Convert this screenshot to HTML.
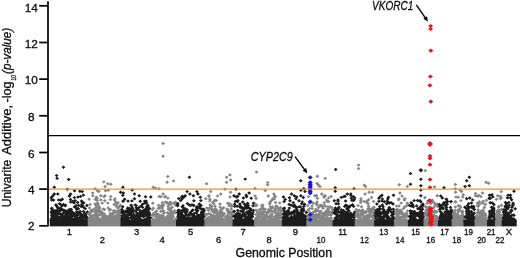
<!DOCTYPE html>
<html><head><meta charset="utf-8"><title>Manhattan plot</title>
<style>html,body{margin:0;padding:0;background:#fff}svg text{font-family:"Liberation Sans",sans-serif;stroke:#0d0d0d;stroke-width:.3px}</style></head>
<body>
<svg width="520" height="258" viewBox="0 0 520 258" style="display:block">
<rect width="520" height="258" fill="#fff"/>
<g shape-rendering="geometricPrecision">
<rect x="49.8" y="219.8" width="39.3" height="6.8" fill="#1c1c1c"/>
<path fill="#1c1c1c" d="M63.0 218.7l1.9 1.7l-1.9 1.7l-1.9 -1.7zM75.0 219.2l1.9 1.7l-1.9 1.7l-1.9 -1.7zM70.8 217.4l1.9 1.7l-1.9 1.7l-1.9 -1.7zM53.2 216.6l1.9 1.7l-1.9 1.7l-1.9 -1.7zM52.5 217.0l1.9 1.7l-1.9 1.7l-1.9 -1.7zM53.7 219.1l1.9 1.7l-1.9 1.7l-1.9 -1.7zM66.7 214.6l1.9 1.7l-1.9 1.7l-1.9 -1.7zM55.6 218.3l1.9 1.7l-1.9 1.7l-1.9 -1.7zM74.1 213.9l1.9 1.7l-1.9 1.7l-1.9 -1.7zM72.3 217.2l1.9 1.7l-1.9 1.7l-1.9 -1.7zM86.9 219.3l1.9 1.7l-1.9 1.7l-1.9 -1.7zM82.6 217.9l1.9 1.7l-1.9 1.7l-1.9 -1.7zM56.4 218.9l1.9 1.7l-1.9 1.7l-1.9 -1.7zM62.4 214.7l1.9 1.7l-1.9 1.7l-1.9 -1.7zM57.7 216.1l1.9 1.7l-1.9 1.7l-1.9 -1.7zM74.5 217.4l1.9 1.7l-1.9 1.7l-1.9 -1.7zM71.2 219.2l1.9 1.7l-1.9 1.7l-1.9 -1.7zM53.3 218.4l1.9 1.7l-1.9 1.7l-1.9 -1.7zM76.1 217.0l1.9 1.7l-1.9 1.7l-1.9 -1.7zM62.6 216.1l1.9 1.7l-1.9 1.7l-1.9 -1.7zM67.7 217.8l1.9 1.7l-1.9 1.7l-1.9 -1.7zM80.3 215.4l1.9 1.7l-1.9 1.7l-1.9 -1.7zM60.1 216.2l1.9 1.7l-1.9 1.7l-1.9 -1.7zM70.4 214.3l1.9 1.7l-1.9 1.7l-1.9 -1.7zM77.9 217.9l1.9 1.7l-1.9 1.7l-1.9 -1.7zM87.1 218.9l1.9 1.7l-1.9 1.7l-1.9 -1.7zM66.4 215.1l1.9 1.7l-1.9 1.7l-1.9 -1.7zM56.7 216.7l1.9 1.7l-1.9 1.7l-1.9 -1.7zM52.5 215.6l1.9 1.7l-1.9 1.7l-1.9 -1.7zM79.2 216.2l1.9 1.7l-1.9 1.7l-1.9 -1.7zM83.2 217.7l1.9 1.7l-1.9 1.7l-1.9 -1.7zM76.6 216.0l1.9 1.7l-1.9 1.7l-1.9 -1.7zM72.4 216.9l1.9 1.7l-1.9 1.7l-1.9 -1.7zM81.9 213.9l1.9 1.7l-1.9 1.7l-1.9 -1.7zM68.5 215.6l1.9 1.7l-1.9 1.7l-1.9 -1.7zM53.3 215.4l1.9 1.7l-1.9 1.7l-1.9 -1.7zM74.8 213.6l1.9 1.7l-1.9 1.7l-1.9 -1.7zM81.3 217.9l1.9 1.7l-1.9 1.7l-1.9 -1.7zM65.3 215.6l1.9 1.7l-1.9 1.7l-1.9 -1.7zM51.9 216.8l1.9 1.7l-1.9 1.7l-1.9 -1.7zM57.3 218.9l1.9 1.7l-1.9 1.7l-1.9 -1.7zM53.3 215.0l1.9 1.7l-1.9 1.7l-1.9 -1.7zM55.8 218.1l1.9 1.7l-1.9 1.7l-1.9 -1.7zM65.4 214.4l1.9 1.7l-1.9 1.7l-1.9 -1.7zM54.1 216.9l1.9 1.7l-1.9 1.7l-1.9 -1.7zM71.3 214.3l1.9 1.7l-1.9 1.7l-1.9 -1.7zM81.2 214.4l1.9 1.7l-1.9 1.7l-1.9 -1.7zM61.3 217.1l1.9 1.7l-1.9 1.7l-1.9 -1.7zM64.3 214.3l1.9 1.7l-1.9 1.7l-1.9 -1.7zM86.2 218.7l1.9 1.7l-1.9 1.7l-1.9 -1.7zM57.6 218.2l1.9 1.7l-1.9 1.7l-1.9 -1.7zM59.7 216.7l1.9 1.7l-1.9 1.7l-1.9 -1.7zM72.7 218.0l1.9 1.7l-1.9 1.7l-1.9 -1.7zM51.3 217.1l1.9 1.7l-1.9 1.7l-1.9 -1.7zM64.7 216.2l1.9 1.7l-1.9 1.7l-1.9 -1.7zM86.1 215.5l1.9 1.7l-1.9 1.7l-1.9 -1.7zM70.0 215.9l1.9 1.7l-1.9 1.7l-1.9 -1.7zM75.9 219.3l1.9 1.7l-1.9 1.7l-1.9 -1.7zM84.1 214.9l1.9 1.7l-1.9 1.7l-1.9 -1.7zM83.2 214.8l1.9 1.7l-1.9 1.7l-1.9 -1.7zM65.5 217.2l1.9 1.7l-1.9 1.7l-1.9 -1.7zM54.9 215.8l1.9 1.7l-1.9 1.7l-1.9 -1.7zM53.4 219.2l1.9 1.7l-1.9 1.7l-1.9 -1.7zM58.8 218.6l1.9 1.7l-1.9 1.7l-1.9 -1.7zM63.6 219.3l1.9 1.7l-1.9 1.7l-1.9 -1.7zM51.1 218.7l1.9 1.7l-1.9 1.7l-1.9 -1.7zM54.8 217.4l1.9 1.7l-1.9 1.7l-1.9 -1.7zM52.0 214.4l1.9 1.7l-1.9 1.7l-1.9 -1.7zM73.6 218.7l1.9 1.7l-1.9 1.7l-1.9 -1.7zM60.4 217.5l1.9 1.7l-1.9 1.7l-1.9 -1.7zM64.5 218.9l1.9 1.7l-1.9 1.7l-1.9 -1.7zM82.3 213.6l1.9 1.7l-1.9 1.7l-1.9 -1.7zM68.2 216.7l1.9 1.7l-1.9 1.7l-1.9 -1.7zM54.3 219.0l1.9 1.7l-1.9 1.7l-1.9 -1.7zM63.7 218.0l1.9 1.7l-1.9 1.7l-1.9 -1.7zM81.5 218.6l1.9 1.7l-1.9 1.7l-1.9 -1.7zM51.9 213.9l1.9 1.7l-1.9 1.7l-1.9 -1.7zM70.5 218.7l1.9 1.7l-1.9 1.7l-1.9 -1.7zM71.0 219.4l1.9 1.7l-1.9 1.7l-1.9 -1.7zM70.5 213.7l1.9 1.7l-1.9 1.7l-1.9 -1.7zM82.8 215.4l1.9 1.7l-1.9 1.7l-1.9 -1.7zM60.7 217.4l1.9 1.7l-1.9 1.7l-1.9 -1.7zM57.2 215.0l1.9 1.7l-1.9 1.7l-1.9 -1.7zM70.6 214.9l1.9 1.7l-1.9 1.7l-1.9 -1.7zM63.2 218.3l1.9 1.7l-1.9 1.7l-1.9 -1.7zM80.9 213.7l1.9 1.7l-1.9 1.7l-1.9 -1.7zM82.4 214.8l1.9 1.7l-1.9 1.7l-1.9 -1.7zM81.1 215.2l1.9 1.7l-1.9 1.7l-1.9 -1.7zM59.4 216.5l1.9 1.7l-1.9 1.7l-1.9 -1.7zM64.1 219.4l1.9 1.7l-1.9 1.7l-1.9 -1.7zM52.1 217.9l1.9 1.7l-1.9 1.7l-1.9 -1.7zM60.6 215.4l1.9 1.7l-1.9 1.7l-1.9 -1.7zM86.2 216.9l1.9 1.7l-1.9 1.7l-1.9 -1.7zM85.5 213.7l1.9 1.7l-1.9 1.7l-1.9 -1.7zM86.1 217.4l1.9 1.7l-1.9 1.7l-1.9 -1.7zM59.2 218.2l1.9 1.7l-1.9 1.7l-1.9 -1.7zM58.3 218.4l1.9 1.7l-1.9 1.7l-1.9 -1.7zM74.0 214.2l1.9 1.7l-1.9 1.7l-1.9 -1.7zM81.9 216.7l1.9 1.7l-1.9 1.7l-1.9 -1.7zM75.1 214.8l1.9 1.7l-1.9 1.7l-1.9 -1.7zM54.2 215.6l1.9 1.7l-1.9 1.7l-1.9 -1.7zM84.5 214.9l1.9 1.7l-1.9 1.7l-1.9 -1.7zM78.6 216.7l1.9 1.7l-1.9 1.7l-1.9 -1.7zM57.7 214.9l1.9 1.7l-1.9 1.7l-1.9 -1.7zM63.3 214.8l1.9 1.7l-1.9 1.7l-1.9 -1.7zM86.8 217.2l1.9 1.7l-1.9 1.7l-1.9 -1.7zM65.8 213.9l1.9 1.7l-1.9 1.7l-1.9 -1.7zM77.7 218.6l1.9 1.7l-1.9 1.7l-1.9 -1.7zM55.8 218.7l1.9 1.7l-1.9 1.7l-1.9 -1.7zM84.3 214.8l1.9 1.7l-1.9 1.7l-1.9 -1.7zM56.5 214.6l1.9 1.7l-1.9 1.7l-1.9 -1.7zM87.1 215.7l1.9 1.7l-1.9 1.7l-1.9 -1.7zM64.0 216.3l1.9 1.7l-1.9 1.7l-1.9 -1.7zM55.9 219.5l1.9 1.7l-1.9 1.7l-1.9 -1.7zM86.7 215.7l1.9 1.7l-1.9 1.7l-1.9 -1.7zM70.4 214.0l1.9 1.7l-1.9 1.7l-1.9 -1.7zM67.0 214.4l1.9 1.7l-1.9 1.7l-1.9 -1.7zM81.4 218.3l1.9 1.7l-1.9 1.7l-1.9 -1.7zM60.3 217.8l1.9 1.7l-1.9 1.7l-1.9 -1.7zM59.9 216.1l1.9 1.7l-1.9 1.7l-1.9 -1.7zM60.6 217.1l1.9 1.7l-1.9 1.7l-1.9 -1.7zM55.9 214.1l1.9 1.7l-1.9 1.7l-1.9 -1.7zM64.1 216.9l1.9 1.7l-1.9 1.7l-1.9 -1.7zM72.5 214.2l1.9 1.7l-1.9 1.7l-1.9 -1.7zM66.5 214.1l1.9 1.7l-1.9 1.7l-1.9 -1.7zM69.5 211.5l1.9 1.7l-1.9 1.7l-1.9 -1.7zM70.3 213.5l1.9 1.7l-1.9 1.7l-1.9 -1.7zM67.3 212.9l1.9 1.7l-1.9 1.7l-1.9 -1.7zM51.2 210.4l1.9 1.7l-1.9 1.7l-1.9 -1.7zM57.4 211.7l1.9 1.7l-1.9 1.7l-1.9 -1.7zM77.7 211.4l1.9 1.7l-1.9 1.7l-1.9 -1.7zM63.1 211.5l1.9 1.7l-1.9 1.7l-1.9 -1.7zM71.5 210.5l1.9 1.7l-1.9 1.7l-1.9 -1.7zM55.0 211.4l1.9 1.7l-1.9 1.7l-1.9 -1.7zM60.2 212.5l1.9 1.7l-1.9 1.7l-1.9 -1.7zM79.4 211.6l1.9 1.7l-1.9 1.7l-1.9 -1.7zM71.7 210.6l1.9 1.7l-1.9 1.7l-1.9 -1.7zM84.6 211.8l1.9 1.7l-1.9 1.7l-1.9 -1.7zM73.6 211.6l1.9 1.7l-1.9 1.7l-1.9 -1.7zM69.9 210.8l1.9 1.7l-1.9 1.7l-1.9 -1.7zM67.7 211.5l1.9 1.7l-1.9 1.7l-1.9 -1.7zM68.6 209.8l1.9 1.7l-1.9 1.7l-1.9 -1.7zM76.8 210.1l1.9 1.7l-1.9 1.7l-1.9 -1.7zM85.7 212.6l1.9 1.7l-1.9 1.7l-1.9 -1.7zM71.6 209.8l1.9 1.7l-1.9 1.7l-1.9 -1.7zM81.9 213.1l1.9 1.7l-1.9 1.7l-1.9 -1.7zM55.6 211.8l1.9 1.7l-1.9 1.7l-1.9 -1.7zM53.8 212.6l1.9 1.7l-1.9 1.7l-1.9 -1.7zM53.8 210.9l1.9 1.7l-1.9 1.7l-1.9 -1.7zM79.9 210.0l1.9 1.7l-1.9 1.7l-1.9 -1.7zM56.8 210.7l1.9 1.7l-1.9 1.7l-1.9 -1.7zM75.3 213.0l1.9 1.7l-1.9 1.7l-1.9 -1.7zM83.5 209.7l1.9 1.7l-1.9 1.7l-1.9 -1.7zM59.2 209.8l1.9 1.7l-1.9 1.7l-1.9 -1.7zM65.7 211.7l1.9 1.7l-1.9 1.7l-1.9 -1.7zM87.4 210.3l1.9 1.7l-1.9 1.7l-1.9 -1.7zM57.0 211.9l1.9 1.7l-1.9 1.7l-1.9 -1.7zM70.0 212.2l1.9 1.7l-1.9 1.7l-1.9 -1.7zM58.3 212.3l1.9 1.7l-1.9 1.7l-1.9 -1.7zM77.6 213.5l1.9 1.7l-1.9 1.7l-1.9 -1.7zM71.4 211.8l1.9 1.7l-1.9 1.7l-1.9 -1.7zM51.8 212.3l1.9 1.7l-1.9 1.7l-1.9 -1.7zM74.0 211.6l1.9 1.7l-1.9 1.7l-1.9 -1.7zM53.5 209.7l1.9 1.7l-1.9 1.7l-1.9 -1.7zM80.0 209.7l1.9 1.7l-1.9 1.7l-1.9 -1.7zM54.9 212.5l1.9 1.7l-1.9 1.7l-1.9 -1.7zM52.6 210.5l1.9 1.7l-1.9 1.7l-1.9 -1.7zM61.0 213.1l1.9 1.7l-1.9 1.7l-1.9 -1.7zM66.6 210.0l1.9 1.7l-1.9 1.7l-1.9 -1.7zM81.2 212.6l1.9 1.7l-1.9 1.7l-1.9 -1.7zM56.6 209.9l1.9 1.7l-1.9 1.7l-1.9 -1.7zM72.0 210.8l1.9 1.7l-1.9 1.7l-1.9 -1.7zM54.4 213.4l1.9 1.7l-1.9 1.7l-1.9 -1.7zM76.4 211.9l1.9 1.7l-1.9 1.7l-1.9 -1.7zM53.8 209.8l1.9 1.7l-1.9 1.7l-1.9 -1.7zM74.4 195.9l1.9 1.7l-1.9 1.7l-1.9 -1.7zM54.2 209.0l1.9 1.7l-1.9 1.7l-1.9 -1.7zM82.8 204.5l1.9 1.7l-1.9 1.7l-1.9 -1.7zM63.5 202.8l1.9 1.7l-1.9 1.7l-1.9 -1.7zM85.1 206.9l1.9 1.7l-1.9 1.7l-1.9 -1.7zM55.8 203.2l1.9 1.7l-1.9 1.7l-1.9 -1.7zM59.9 208.6l1.9 1.7l-1.9 1.7l-1.9 -1.7zM57.0 209.2l1.9 1.7l-1.9 1.7l-1.9 -1.7zM58.5 206.4l1.9 1.7l-1.9 1.7l-1.9 -1.7zM62.3 197.5l1.9 1.7l-1.9 1.7l-1.9 -1.7zM61.7 203.7l1.9 1.7l-1.9 1.7l-1.9 -1.7zM57.6 206.0l1.9 1.7l-1.9 1.7l-1.9 -1.7zM51.8 207.1l1.9 1.7l-1.9 1.7l-1.9 -1.7zM51.7 198.4l1.9 1.7l-1.9 1.7l-1.9 -1.7zM71.3 207.8l1.9 1.7l-1.9 1.7l-1.9 -1.7zM68.5 208.6l1.9 1.7l-1.9 1.7l-1.9 -1.7zM81.2 204.8l1.9 1.7l-1.9 1.7l-1.9 -1.7zM69.3 194.3l1.9 1.7l-1.9 1.7l-1.9 -1.7zM65.5 203.6l1.9 1.7l-1.9 1.7l-1.9 -1.7zM76.3 206.0l1.9 1.7l-1.9 1.7l-1.9 -1.7zM81.6 199.2l1.9 1.7l-1.9 1.7l-1.9 -1.7zM74.4 205.2l1.9 1.7l-1.9 1.7l-1.9 -1.7zM63.9 209.1l1.9 1.7l-1.9 1.7l-1.9 -1.7zM55.9 209.0l1.9 1.7l-1.9 1.7l-1.9 -1.7zM78.3 207.1l1.9 1.7l-1.9 1.7l-1.9 -1.7zM57.1 208.8l1.9 1.7l-1.9 1.7l-1.9 -1.7zM82.0 200.2l1.9 1.7l-1.9 1.7l-1.9 -1.7zM61.4 207.2l1.9 1.7l-1.9 1.7l-1.9 -1.7zM61.9 204.4l1.9 1.7l-1.9 1.7l-1.9 -1.7zM56.9 204.6l1.9 1.7l-1.9 1.7l-1.9 -1.7zM60.8 202.9l1.9 1.7l-1.9 1.7l-1.9 -1.7zM60.1 206.5l1.9 1.7l-1.9 1.7l-1.9 -1.7zM64.2 209.6l1.9 1.7l-1.9 1.7l-1.9 -1.7zM65.1 204.1l1.9 1.7l-1.9 1.7l-1.9 -1.7zM69.6 207.7l1.9 1.7l-1.9 1.7l-1.9 -1.7zM69.6 209.6l1.9 1.7l-1.9 1.7l-1.9 -1.7zM60.8 208.8l1.9 1.7l-1.9 1.7l-1.9 -1.7zM65.8 209.2l1.9 1.7l-1.9 1.7l-1.9 -1.7zM51.9 206.5l1.9 1.7l-1.9 1.7l-1.9 -1.7zM59.6 202.1l1.9 1.7l-1.9 1.7l-1.9 -1.7zM70.5 197.8l1.9 1.7l-1.9 1.7l-1.9 -1.7zM75.2 198.9l1.9 1.7l-1.9 1.7l-1.9 -1.7zM83.4 205.4l1.9 1.7l-1.9 1.7l-1.9 -1.7zM63.1 208.2l1.9 1.7l-1.9 1.7l-1.9 -1.7zM77.7 200.8l1.9 1.7l-1.9 1.7l-1.9 -1.7zM52.7 194.3l1.9 1.7l-1.9 1.7l-1.9 -1.7zM83.8 201.2l1.9 1.7l-1.9 1.7l-1.9 -1.7zM78.0 195.4l1.9 1.7l-1.9 1.7l-1.9 -1.7zM56.2 203.3l1.9 1.7l-1.9 1.7l-1.9 -1.7zM69.6 194.3l1.9 1.7l-1.9 1.7l-1.9 -1.7zM80.6 194.7l1.9 1.7l-1.9 1.7l-1.9 -1.7zM72.5 199.8l1.9 1.7l-1.9 1.7l-1.9 -1.7zM76.5 207.4l1.9 1.7l-1.9 1.7l-1.9 -1.7zM52.2 208.4l1.9 1.7l-1.9 1.7l-1.9 -1.7zM64.3 208.7l1.9 1.7l-1.9 1.7l-1.9 -1.7zM81.8 202.7l1.9 1.7l-1.9 1.7l-1.9 -1.7zM74.1 201.2l1.9 1.7l-1.9 1.7l-1.9 -1.7zM76.1 203.9l1.9 1.7l-1.9 1.7l-1.9 -1.7zM51.2 196.0l1.9 1.7l-1.9 1.7l-1.9 -1.7zM78.6 203.7l1.9 1.7l-1.9 1.7l-1.9 -1.7zM70.7 200.4l1.9 1.7l-1.9 1.7l-1.9 -1.7zM53.5 198.3l1.9 1.7l-1.9 1.7l-1.9 -1.7zM60.4 208.9l1.9 1.7l-1.9 1.7l-1.9 -1.7zM60.8 198.5l1.9 1.7l-1.9 1.7l-1.9 -1.7zM58.6 198.2l1.9 1.7l-1.9 1.7l-1.9 -1.7zM86.9 203.8l1.9 1.7l-1.9 1.7l-1.9 -1.7zM65.1 204.1l1.9 1.7l-1.9 1.7l-1.9 -1.7zM63.4 165.5l1.9 1.7l-1.9 1.7l-1.9 -1.7zM56.6 173.9l1.9 1.7l-1.9 1.7l-1.9 -1.7zM57.1 176.7l1.9 1.7l-1.9 1.7l-1.9 -1.7zM68.7 177.8l1.9 1.7l-1.9 1.7l-1.9 -1.7zM54.3 185.5l1.9 1.7l-1.9 1.7l-1.9 -1.7zM67.3 187.6l1.9 1.7l-1.9 1.7l-1.9 -1.7zM74.5 189.0l1.9 1.7l-1.9 1.7l-1.9 -1.7zM79.9 189.5l1.9 1.7l-1.9 1.7l-1.9 -1.7zM82.2 189.9l1.9 1.7l-1.9 1.7l-1.9 -1.7zM54.3 192.3l1.9 1.7l-1.9 1.7l-1.9 -1.7zM57.8 192.3l1.9 1.7l-1.9 1.7l-1.9 -1.7zM70.6 192.3l1.9 1.7l-1.9 1.7l-1.9 -1.7zM83.4 193.4l1.9 1.7l-1.9 1.7l-1.9 -1.7z"/>
<rect x="87.7" y="219.8" width="34.2" height="6.8" fill="#858585"/>
<path fill="#858585" d="M110.6 215.0l1.9 1.7l-1.9 1.7l-1.9 -1.7zM108.5 215.7l1.9 1.7l-1.9 1.7l-1.9 -1.7zM91.4 218.7l1.9 1.7l-1.9 1.7l-1.9 -1.7zM97.0 215.1l1.9 1.7l-1.9 1.7l-1.9 -1.7zM98.6 216.2l1.9 1.7l-1.9 1.7l-1.9 -1.7zM89.4 219.2l1.9 1.7l-1.9 1.7l-1.9 -1.7zM97.5 215.6l1.9 1.7l-1.9 1.7l-1.9 -1.7zM110.9 215.5l1.9 1.7l-1.9 1.7l-1.9 -1.7zM98.2 216.5l1.9 1.7l-1.9 1.7l-1.9 -1.7zM103.7 216.8l1.9 1.7l-1.9 1.7l-1.9 -1.7zM92.7 214.2l1.9 1.7l-1.9 1.7l-1.9 -1.7zM95.3 213.7l1.9 1.7l-1.9 1.7l-1.9 -1.7zM118.6 219.5l1.9 1.7l-1.9 1.7l-1.9 -1.7zM103.5 214.7l1.9 1.7l-1.9 1.7l-1.9 -1.7zM119.6 216.9l1.9 1.7l-1.9 1.7l-1.9 -1.7zM97.5 218.3l1.9 1.7l-1.9 1.7l-1.9 -1.7zM118.9 218.3l1.9 1.7l-1.9 1.7l-1.9 -1.7zM107.4 218.7l1.9 1.7l-1.9 1.7l-1.9 -1.7zM105.6 213.9l1.9 1.7l-1.9 1.7l-1.9 -1.7zM93.2 214.7l1.9 1.7l-1.9 1.7l-1.9 -1.7zM105.1 214.3l1.9 1.7l-1.9 1.7l-1.9 -1.7zM111.2 218.2l1.9 1.7l-1.9 1.7l-1.9 -1.7zM117.4 216.7l1.9 1.7l-1.9 1.7l-1.9 -1.7zM89.8 219.6l1.9 1.7l-1.9 1.7l-1.9 -1.7zM104.5 216.9l1.9 1.7l-1.9 1.7l-1.9 -1.7zM98.5 218.8l1.9 1.7l-1.9 1.7l-1.9 -1.7zM99.9 217.7l1.9 1.7l-1.9 1.7l-1.9 -1.7zM115.6 219.6l1.9 1.7l-1.9 1.7l-1.9 -1.7zM112.7 214.6l1.9 1.7l-1.9 1.7l-1.9 -1.7zM92.8 214.0l1.9 1.7l-1.9 1.7l-1.9 -1.7zM111.5 214.2l1.9 1.7l-1.9 1.7l-1.9 -1.7zM98.2 217.4l1.9 1.7l-1.9 1.7l-1.9 -1.7zM101.4 213.6l1.9 1.7l-1.9 1.7l-1.9 -1.7zM107.6 217.4l1.9 1.7l-1.9 1.7l-1.9 -1.7zM102.5 217.9l1.9 1.7l-1.9 1.7l-1.9 -1.7zM90.5 219.0l1.9 1.7l-1.9 1.7l-1.9 -1.7zM115.4 217.9l1.9 1.7l-1.9 1.7l-1.9 -1.7zM118.6 218.1l1.9 1.7l-1.9 1.7l-1.9 -1.7zM97.4 216.5l1.9 1.7l-1.9 1.7l-1.9 -1.7zM95.0 217.4l1.9 1.7l-1.9 1.7l-1.9 -1.7zM119.2 214.3l1.9 1.7l-1.9 1.7l-1.9 -1.7zM114.7 215.8l1.9 1.7l-1.9 1.7l-1.9 -1.7zM117.9 214.0l1.9 1.7l-1.9 1.7l-1.9 -1.7zM106.4 215.3l1.9 1.7l-1.9 1.7l-1.9 -1.7zM90.6 215.2l1.9 1.7l-1.9 1.7l-1.9 -1.7zM103.2 215.1l1.9 1.7l-1.9 1.7l-1.9 -1.7zM109.4 217.9l1.9 1.7l-1.9 1.7l-1.9 -1.7zM90.5 214.0l1.9 1.7l-1.9 1.7l-1.9 -1.7zM93.0 216.8l1.9 1.7l-1.9 1.7l-1.9 -1.7zM99.9 217.8l1.9 1.7l-1.9 1.7l-1.9 -1.7zM112.4 213.7l1.9 1.7l-1.9 1.7l-1.9 -1.7zM97.2 215.7l1.9 1.7l-1.9 1.7l-1.9 -1.7zM98.5 216.3l1.9 1.7l-1.9 1.7l-1.9 -1.7zM101.5 218.6l1.9 1.7l-1.9 1.7l-1.9 -1.7zM94.1 218.4l1.9 1.7l-1.9 1.7l-1.9 -1.7zM117.6 216.6l1.9 1.7l-1.9 1.7l-1.9 -1.7zM96.0 214.2l1.9 1.7l-1.9 1.7l-1.9 -1.7zM120.5 216.9l1.9 1.7l-1.9 1.7l-1.9 -1.7zM93.4 218.4l1.9 1.7l-1.9 1.7l-1.9 -1.7zM91.9 217.5l1.9 1.7l-1.9 1.7l-1.9 -1.7zM91.9 218.2l1.9 1.7l-1.9 1.7l-1.9 -1.7zM97.2 216.2l1.9 1.7l-1.9 1.7l-1.9 -1.7zM117.0 215.1l1.9 1.7l-1.9 1.7l-1.9 -1.7zM102.0 217.1l1.9 1.7l-1.9 1.7l-1.9 -1.7zM105.6 217.3l1.9 1.7l-1.9 1.7l-1.9 -1.7zM99.7 219.2l1.9 1.7l-1.9 1.7l-1.9 -1.7zM97.8 213.8l1.9 1.7l-1.9 1.7l-1.9 -1.7zM93.0 216.6l1.9 1.7l-1.9 1.7l-1.9 -1.7zM108.9 214.4l1.9 1.7l-1.9 1.7l-1.9 -1.7zM95.8 218.0l1.9 1.7l-1.9 1.7l-1.9 -1.7zM96.9 217.2l1.9 1.7l-1.9 1.7l-1.9 -1.7zM103.1 213.9l1.9 1.7l-1.9 1.7l-1.9 -1.7zM115.8 214.4l1.9 1.7l-1.9 1.7l-1.9 -1.7zM89.7 219.4l1.9 1.7l-1.9 1.7l-1.9 -1.7zM111.4 214.2l1.9 1.7l-1.9 1.7l-1.9 -1.7zM104.0 216.1l1.9 1.7l-1.9 1.7l-1.9 -1.7zM89.0 217.3l1.9 1.7l-1.9 1.7l-1.9 -1.7zM118.3 214.6l1.9 1.7l-1.9 1.7l-1.9 -1.7zM116.0 213.8l1.9 1.7l-1.9 1.7l-1.9 -1.7zM96.9 218.9l1.9 1.7l-1.9 1.7l-1.9 -1.7zM93.9 216.5l1.9 1.7l-1.9 1.7l-1.9 -1.7zM110.6 214.0l1.9 1.7l-1.9 1.7l-1.9 -1.7zM111.8 215.7l1.9 1.7l-1.9 1.7l-1.9 -1.7zM113.2 216.9l1.9 1.7l-1.9 1.7l-1.9 -1.7zM106.4 219.4l1.9 1.7l-1.9 1.7l-1.9 -1.7zM113.7 218.2l1.9 1.7l-1.9 1.7l-1.9 -1.7zM118.1 215.7l1.9 1.7l-1.9 1.7l-1.9 -1.7zM98.6 218.8l1.9 1.7l-1.9 1.7l-1.9 -1.7zM97.0 215.8l1.9 1.7l-1.9 1.7l-1.9 -1.7zM111.1 218.9l1.9 1.7l-1.9 1.7l-1.9 -1.7zM91.2 216.5l1.9 1.7l-1.9 1.7l-1.9 -1.7zM107.4 217.3l1.9 1.7l-1.9 1.7l-1.9 -1.7zM96.1 216.0l1.9 1.7l-1.9 1.7l-1.9 -1.7zM89.3 217.8l1.9 1.7l-1.9 1.7l-1.9 -1.7zM103.6 213.8l1.9 1.7l-1.9 1.7l-1.9 -1.7zM109.4 214.3l1.9 1.7l-1.9 1.7l-1.9 -1.7zM104.0 218.2l1.9 1.7l-1.9 1.7l-1.9 -1.7zM96.8 213.8l1.9 1.7l-1.9 1.7l-1.9 -1.7zM111.3 217.8l1.9 1.7l-1.9 1.7l-1.9 -1.7zM89.7 216.6l1.9 1.7l-1.9 1.7l-1.9 -1.7zM110.3 211.9l1.9 1.7l-1.9 1.7l-1.9 -1.7zM97.1 210.9l1.9 1.7l-1.9 1.7l-1.9 -1.7zM118.2 212.7l1.9 1.7l-1.9 1.7l-1.9 -1.7zM90.1 212.2l1.9 1.7l-1.9 1.7l-1.9 -1.7zM102.3 210.9l1.9 1.7l-1.9 1.7l-1.9 -1.7zM95.3 210.4l1.9 1.7l-1.9 1.7l-1.9 -1.7zM112.4 211.6l1.9 1.7l-1.9 1.7l-1.9 -1.7zM95.5 209.7l1.9 1.7l-1.9 1.7l-1.9 -1.7zM98.9 210.3l1.9 1.7l-1.9 1.7l-1.9 -1.7zM96.3 212.7l1.9 1.7l-1.9 1.7l-1.9 -1.7zM113.0 212.4l1.9 1.7l-1.9 1.7l-1.9 -1.7zM119.1 211.6l1.9 1.7l-1.9 1.7l-1.9 -1.7zM94.9 212.7l1.9 1.7l-1.9 1.7l-1.9 -1.7zM102.2 210.9l1.9 1.7l-1.9 1.7l-1.9 -1.7zM119.0 213.0l1.9 1.7l-1.9 1.7l-1.9 -1.7zM101.4 212.7l1.9 1.7l-1.9 1.7l-1.9 -1.7zM119.8 213.0l1.9 1.7l-1.9 1.7l-1.9 -1.7zM90.6 213.4l1.9 1.7l-1.9 1.7l-1.9 -1.7zM101.4 210.0l1.9 1.7l-1.9 1.7l-1.9 -1.7zM116.9 210.7l1.9 1.7l-1.9 1.7l-1.9 -1.7zM120.5 209.9l1.9 1.7l-1.9 1.7l-1.9 -1.7zM99.4 212.9l1.9 1.7l-1.9 1.7l-1.9 -1.7zM118.6 210.6l1.9 1.7l-1.9 1.7l-1.9 -1.7zM90.0 210.9l1.9 1.7l-1.9 1.7l-1.9 -1.7zM101.0 212.1l1.9 1.7l-1.9 1.7l-1.9 -1.7zM99.5 212.9l1.9 1.7l-1.9 1.7l-1.9 -1.7zM89.1 212.5l1.9 1.7l-1.9 1.7l-1.9 -1.7zM100.1 209.8l1.9 1.7l-1.9 1.7l-1.9 -1.7zM92.9 209.7l1.9 1.7l-1.9 1.7l-1.9 -1.7zM95.6 212.2l1.9 1.7l-1.9 1.7l-1.9 -1.7zM115.0 210.3l1.9 1.7l-1.9 1.7l-1.9 -1.7zM102.7 213.4l1.9 1.7l-1.9 1.7l-1.9 -1.7zM104.0 212.1l1.9 1.7l-1.9 1.7l-1.9 -1.7zM118.1 212.8l1.9 1.7l-1.9 1.7l-1.9 -1.7zM100.5 210.0l1.9 1.7l-1.9 1.7l-1.9 -1.7zM90.0 212.0l1.9 1.7l-1.9 1.7l-1.9 -1.7zM114.7 210.5l1.9 1.7l-1.9 1.7l-1.9 -1.7zM90.3 213.5l1.9 1.7l-1.9 1.7l-1.9 -1.7zM91.0 209.9l1.9 1.7l-1.9 1.7l-1.9 -1.7zM97.1 210.6l1.9 1.7l-1.9 1.7l-1.9 -1.7zM117.4 206.1l1.9 1.7l-1.9 1.7l-1.9 -1.7zM97.6 201.4l1.9 1.7l-1.9 1.7l-1.9 -1.7zM97.3 198.9l1.9 1.7l-1.9 1.7l-1.9 -1.7zM99.0 206.9l1.9 1.7l-1.9 1.7l-1.9 -1.7zM89.1 197.6l1.9 1.7l-1.9 1.7l-1.9 -1.7zM118.0 201.1l1.9 1.7l-1.9 1.7l-1.9 -1.7zM118.8 209.4l1.9 1.7l-1.9 1.7l-1.9 -1.7zM96.4 204.1l1.9 1.7l-1.9 1.7l-1.9 -1.7zM119.2 205.4l1.9 1.7l-1.9 1.7l-1.9 -1.7zM96.9 204.8l1.9 1.7l-1.9 1.7l-1.9 -1.7zM104.6 207.9l1.9 1.7l-1.9 1.7l-1.9 -1.7zM114.4 198.2l1.9 1.7l-1.9 1.7l-1.9 -1.7zM115.0 197.0l1.9 1.7l-1.9 1.7l-1.9 -1.7zM108.2 206.2l1.9 1.7l-1.9 1.7l-1.9 -1.7zM99.1 205.8l1.9 1.7l-1.9 1.7l-1.9 -1.7zM113.7 208.9l1.9 1.7l-1.9 1.7l-1.9 -1.7zM95.2 197.7l1.9 1.7l-1.9 1.7l-1.9 -1.7zM96.8 209.0l1.9 1.7l-1.9 1.7l-1.9 -1.7zM90.1 202.8l1.9 1.7l-1.9 1.7l-1.9 -1.7zM99.3 207.0l1.9 1.7l-1.9 1.7l-1.9 -1.7zM91.7 208.7l1.9 1.7l-1.9 1.7l-1.9 -1.7zM104.8 199.1l1.9 1.7l-1.9 1.7l-1.9 -1.7zM103.1 207.3l1.9 1.7l-1.9 1.7l-1.9 -1.7zM102.2 201.4l1.9 1.7l-1.9 1.7l-1.9 -1.7zM110.3 197.9l1.9 1.7l-1.9 1.7l-1.9 -1.7zM115.8 200.3l1.9 1.7l-1.9 1.7l-1.9 -1.7zM92.8 194.0l1.9 1.7l-1.9 1.7l-1.9 -1.7zM98.3 202.5l1.9 1.7l-1.9 1.7l-1.9 -1.7zM100.8 198.2l1.9 1.7l-1.9 1.7l-1.9 -1.7zM95.3 207.2l1.9 1.7l-1.9 1.7l-1.9 -1.7zM96.8 208.2l1.9 1.7l-1.9 1.7l-1.9 -1.7zM116.9 202.3l1.9 1.7l-1.9 1.7l-1.9 -1.7zM99.3 205.3l1.9 1.7l-1.9 1.7l-1.9 -1.7zM120.4 203.6l1.9 1.7l-1.9 1.7l-1.9 -1.7zM96.3 195.6l1.9 1.7l-1.9 1.7l-1.9 -1.7zM109.6 208.7l1.9 1.7l-1.9 1.7l-1.9 -1.7zM104.0 195.1l1.9 1.7l-1.9 1.7l-1.9 -1.7zM115.6 209.2l1.9 1.7l-1.9 1.7l-1.9 -1.7zM98.3 208.5l1.9 1.7l-1.9 1.7l-1.9 -1.7zM95.0 202.2l1.9 1.7l-1.9 1.7l-1.9 -1.7zM118.4 205.6l1.9 1.7l-1.9 1.7l-1.9 -1.7zM116.4 204.5l1.9 1.7l-1.9 1.7l-1.9 -1.7zM97.2 196.8l1.9 1.7l-1.9 1.7l-1.9 -1.7zM118.9 208.6l1.9 1.7l-1.9 1.7l-1.9 -1.7zM107.8 201.4l1.9 1.7l-1.9 1.7l-1.9 -1.7zM95.9 205.7l1.9 1.7l-1.9 1.7l-1.9 -1.7zM93.5 207.7l1.9 1.7l-1.9 1.7l-1.9 -1.7zM97.1 201.8l1.9 1.7l-1.9 1.7l-1.9 -1.7zM109.6 207.7l1.9 1.7l-1.9 1.7l-1.9 -1.7zM89.4 206.2l1.9 1.7l-1.9 1.7l-1.9 -1.7zM110.4 207.9l1.9 1.7l-1.9 1.7l-1.9 -1.7zM98.9 207.7l1.9 1.7l-1.9 1.7l-1.9 -1.7zM114.1 202.8l1.9 1.7l-1.9 1.7l-1.9 -1.7zM91.0 208.7l1.9 1.7l-1.9 1.7l-1.9 -1.7zM103.8 180.2l1.9 1.7l-1.9 1.7l-1.9 -1.7zM107.8 182.0l1.9 1.7l-1.9 1.7l-1.9 -1.7zM110.8 182.5l1.9 1.7l-1.9 1.7l-1.9 -1.7zM105.0 184.8l1.9 1.7l-1.9 1.7l-1.9 -1.7zM95.0 187.1l1.9 1.7l-1.9 1.7l-1.9 -1.7zM97.3 189.0l1.9 1.7l-1.9 1.7l-1.9 -1.7zM99.0 189.9l1.9 1.7l-1.9 1.7l-1.9 -1.7zM105.5 189.0l1.9 1.7l-1.9 1.7l-1.9 -1.7zM108.3 188.5l1.9 1.7l-1.9 1.7l-1.9 -1.7zM92.7 191.3l1.9 1.7l-1.9 1.7l-1.9 -1.7zM92.7 194.1l1.9 1.7l-1.9 1.7l-1.9 -1.7zM100.8 194.1l1.9 1.7l-1.9 1.7l-1.9 -1.7zM105.0 194.1l1.9 1.7l-1.9 1.7l-1.9 -1.7zM110.8 194.8l1.9 1.7l-1.9 1.7l-1.9 -1.7z"/>
<rect x="120.5" y="219.8" width="31.7" height="6.8" fill="#1c1c1c"/>
<path fill="#1c1c1c" d="M133.3 216.3l1.9 1.7l-1.9 1.7l-1.9 -1.7zM140.4 219.1l1.9 1.7l-1.9 1.7l-1.9 -1.7zM126.6 215.4l1.9 1.7l-1.9 1.7l-1.9 -1.7zM133.7 217.9l1.9 1.7l-1.9 1.7l-1.9 -1.7zM130.8 213.9l1.9 1.7l-1.9 1.7l-1.9 -1.7zM130.9 216.2l1.9 1.7l-1.9 1.7l-1.9 -1.7zM132.2 217.1l1.9 1.7l-1.9 1.7l-1.9 -1.7zM146.9 213.6l1.9 1.7l-1.9 1.7l-1.9 -1.7zM132.4 218.4l1.9 1.7l-1.9 1.7l-1.9 -1.7zM143.0 218.4l1.9 1.7l-1.9 1.7l-1.9 -1.7zM122.0 214.2l1.9 1.7l-1.9 1.7l-1.9 -1.7zM134.1 214.7l1.9 1.7l-1.9 1.7l-1.9 -1.7zM133.6 214.3l1.9 1.7l-1.9 1.7l-1.9 -1.7zM135.2 218.6l1.9 1.7l-1.9 1.7l-1.9 -1.7zM122.2 216.3l1.9 1.7l-1.9 1.7l-1.9 -1.7zM140.4 214.1l1.9 1.7l-1.9 1.7l-1.9 -1.7zM124.4 215.9l1.9 1.7l-1.9 1.7l-1.9 -1.7zM132.6 216.6l1.9 1.7l-1.9 1.7l-1.9 -1.7zM126.0 217.9l1.9 1.7l-1.9 1.7l-1.9 -1.7zM137.0 214.0l1.9 1.7l-1.9 1.7l-1.9 -1.7zM125.0 216.7l1.9 1.7l-1.9 1.7l-1.9 -1.7zM145.2 213.8l1.9 1.7l-1.9 1.7l-1.9 -1.7zM127.5 218.8l1.9 1.7l-1.9 1.7l-1.9 -1.7zM149.2 213.7l1.9 1.7l-1.9 1.7l-1.9 -1.7zM135.8 219.3l1.9 1.7l-1.9 1.7l-1.9 -1.7zM148.8 217.3l1.9 1.7l-1.9 1.7l-1.9 -1.7zM148.1 215.9l1.9 1.7l-1.9 1.7l-1.9 -1.7zM145.8 218.6l1.9 1.7l-1.9 1.7l-1.9 -1.7zM144.7 218.3l1.9 1.7l-1.9 1.7l-1.9 -1.7zM133.6 214.5l1.9 1.7l-1.9 1.7l-1.9 -1.7zM145.9 218.5l1.9 1.7l-1.9 1.7l-1.9 -1.7zM128.1 217.2l1.9 1.7l-1.9 1.7l-1.9 -1.7zM136.9 217.3l1.9 1.7l-1.9 1.7l-1.9 -1.7zM125.4 218.1l1.9 1.7l-1.9 1.7l-1.9 -1.7zM142.9 214.2l1.9 1.7l-1.9 1.7l-1.9 -1.7zM123.0 216.2l1.9 1.7l-1.9 1.7l-1.9 -1.7zM143.8 219.4l1.9 1.7l-1.9 1.7l-1.9 -1.7zM146.2 218.9l1.9 1.7l-1.9 1.7l-1.9 -1.7zM139.2 216.3l1.9 1.7l-1.9 1.7l-1.9 -1.7zM140.0 217.8l1.9 1.7l-1.9 1.7l-1.9 -1.7zM134.0 216.1l1.9 1.7l-1.9 1.7l-1.9 -1.7zM134.2 215.6l1.9 1.7l-1.9 1.7l-1.9 -1.7zM134.8 217.0l1.9 1.7l-1.9 1.7l-1.9 -1.7zM122.5 215.9l1.9 1.7l-1.9 1.7l-1.9 -1.7zM136.0 218.2l1.9 1.7l-1.9 1.7l-1.9 -1.7zM144.0 214.9l1.9 1.7l-1.9 1.7l-1.9 -1.7zM135.1 218.5l1.9 1.7l-1.9 1.7l-1.9 -1.7zM135.6 219.0l1.9 1.7l-1.9 1.7l-1.9 -1.7zM125.5 217.0l1.9 1.7l-1.9 1.7l-1.9 -1.7zM124.5 216.9l1.9 1.7l-1.9 1.7l-1.9 -1.7zM136.6 219.4l1.9 1.7l-1.9 1.7l-1.9 -1.7zM140.3 219.1l1.9 1.7l-1.9 1.7l-1.9 -1.7zM143.1 214.9l1.9 1.7l-1.9 1.7l-1.9 -1.7zM136.7 219.3l1.9 1.7l-1.9 1.7l-1.9 -1.7zM136.5 217.3l1.9 1.7l-1.9 1.7l-1.9 -1.7zM149.5 218.8l1.9 1.7l-1.9 1.7l-1.9 -1.7zM146.7 213.6l1.9 1.7l-1.9 1.7l-1.9 -1.7zM143.1 214.7l1.9 1.7l-1.9 1.7l-1.9 -1.7zM127.4 213.7l1.9 1.7l-1.9 1.7l-1.9 -1.7zM136.1 213.9l1.9 1.7l-1.9 1.7l-1.9 -1.7zM148.5 218.6l1.9 1.7l-1.9 1.7l-1.9 -1.7zM144.7 214.0l1.9 1.7l-1.9 1.7l-1.9 -1.7zM123.7 217.5l1.9 1.7l-1.9 1.7l-1.9 -1.7zM143.8 218.6l1.9 1.7l-1.9 1.7l-1.9 -1.7zM147.9 218.0l1.9 1.7l-1.9 1.7l-1.9 -1.7zM145.5 218.7l1.9 1.7l-1.9 1.7l-1.9 -1.7zM136.4 214.1l1.9 1.7l-1.9 1.7l-1.9 -1.7zM127.9 218.0l1.9 1.7l-1.9 1.7l-1.9 -1.7zM136.5 217.7l1.9 1.7l-1.9 1.7l-1.9 -1.7zM122.9 218.5l1.9 1.7l-1.9 1.7l-1.9 -1.7zM126.5 214.0l1.9 1.7l-1.9 1.7l-1.9 -1.7zM141.6 214.2l1.9 1.7l-1.9 1.7l-1.9 -1.7zM126.7 214.9l1.9 1.7l-1.9 1.7l-1.9 -1.7zM125.1 216.4l1.9 1.7l-1.9 1.7l-1.9 -1.7zM140.3 217.4l1.9 1.7l-1.9 1.7l-1.9 -1.7zM147.2 216.3l1.9 1.7l-1.9 1.7l-1.9 -1.7zM138.7 214.3l1.9 1.7l-1.9 1.7l-1.9 -1.7zM124.8 213.6l1.9 1.7l-1.9 1.7l-1.9 -1.7zM140.1 217.2l1.9 1.7l-1.9 1.7l-1.9 -1.7zM145.0 218.0l1.9 1.7l-1.9 1.7l-1.9 -1.7zM150.6 216.1l1.9 1.7l-1.9 1.7l-1.9 -1.7zM132.3 215.0l1.9 1.7l-1.9 1.7l-1.9 -1.7zM134.7 218.5l1.9 1.7l-1.9 1.7l-1.9 -1.7zM143.4 219.3l1.9 1.7l-1.9 1.7l-1.9 -1.7zM145.7 218.1l1.9 1.7l-1.9 1.7l-1.9 -1.7zM140.4 213.7l1.9 1.7l-1.9 1.7l-1.9 -1.7zM138.8 215.6l1.9 1.7l-1.9 1.7l-1.9 -1.7zM130.9 219.6l1.9 1.7l-1.9 1.7l-1.9 -1.7zM122.8 218.7l1.9 1.7l-1.9 1.7l-1.9 -1.7zM139.7 217.0l1.9 1.7l-1.9 1.7l-1.9 -1.7zM136.7 214.2l1.9 1.7l-1.9 1.7l-1.9 -1.7zM125.6 218.2l1.9 1.7l-1.9 1.7l-1.9 -1.7zM140.8 219.5l1.9 1.7l-1.9 1.7l-1.9 -1.7zM121.9 217.5l1.9 1.7l-1.9 1.7l-1.9 -1.7zM124.9 217.5l1.9 1.7l-1.9 1.7l-1.9 -1.7zM128.3 216.1l1.9 1.7l-1.9 1.7l-1.9 -1.7zM138.9 218.4l1.9 1.7l-1.9 1.7l-1.9 -1.7zM140.0 216.8l1.9 1.7l-1.9 1.7l-1.9 -1.7zM125.7 214.0l1.9 1.7l-1.9 1.7l-1.9 -1.7zM128.9 213.0l1.9 1.7l-1.9 1.7l-1.9 -1.7zM124.6 211.0l1.9 1.7l-1.9 1.7l-1.9 -1.7zM147.2 210.5l1.9 1.7l-1.9 1.7l-1.9 -1.7zM133.5 212.5l1.9 1.7l-1.9 1.7l-1.9 -1.7zM122.1 211.0l1.9 1.7l-1.9 1.7l-1.9 -1.7zM138.2 212.2l1.9 1.7l-1.9 1.7l-1.9 -1.7zM140.6 211.8l1.9 1.7l-1.9 1.7l-1.9 -1.7zM149.1 210.7l1.9 1.7l-1.9 1.7l-1.9 -1.7zM129.0 210.0l1.9 1.7l-1.9 1.7l-1.9 -1.7zM123.1 211.5l1.9 1.7l-1.9 1.7l-1.9 -1.7zM133.6 212.6l1.9 1.7l-1.9 1.7l-1.9 -1.7zM123.5 210.5l1.9 1.7l-1.9 1.7l-1.9 -1.7zM122.2 211.4l1.9 1.7l-1.9 1.7l-1.9 -1.7zM149.2 213.0l1.9 1.7l-1.9 1.7l-1.9 -1.7zM127.6 211.2l1.9 1.7l-1.9 1.7l-1.9 -1.7zM136.6 211.0l1.9 1.7l-1.9 1.7l-1.9 -1.7zM145.5 212.9l1.9 1.7l-1.9 1.7l-1.9 -1.7zM130.8 212.4l1.9 1.7l-1.9 1.7l-1.9 -1.7zM123.2 210.0l1.9 1.7l-1.9 1.7l-1.9 -1.7zM144.6 210.7l1.9 1.7l-1.9 1.7l-1.9 -1.7zM122.0 210.2l1.9 1.7l-1.9 1.7l-1.9 -1.7zM143.5 211.7l1.9 1.7l-1.9 1.7l-1.9 -1.7zM143.4 211.8l1.9 1.7l-1.9 1.7l-1.9 -1.7zM128.4 213.2l1.9 1.7l-1.9 1.7l-1.9 -1.7zM128.6 213.4l1.9 1.7l-1.9 1.7l-1.9 -1.7zM131.6 210.6l1.9 1.7l-1.9 1.7l-1.9 -1.7zM142.0 210.2l1.9 1.7l-1.9 1.7l-1.9 -1.7zM142.5 212.5l1.9 1.7l-1.9 1.7l-1.9 -1.7zM137.9 211.9l1.9 1.7l-1.9 1.7l-1.9 -1.7zM144.7 211.5l1.9 1.7l-1.9 1.7l-1.9 -1.7zM129.5 211.0l1.9 1.7l-1.9 1.7l-1.9 -1.7zM149.9 212.7l1.9 1.7l-1.9 1.7l-1.9 -1.7zM147.4 213.5l1.9 1.7l-1.9 1.7l-1.9 -1.7zM129.4 212.7l1.9 1.7l-1.9 1.7l-1.9 -1.7zM143.4 209.8l1.9 1.7l-1.9 1.7l-1.9 -1.7zM143.5 212.3l1.9 1.7l-1.9 1.7l-1.9 -1.7zM147.4 212.3l1.9 1.7l-1.9 1.7l-1.9 -1.7zM128.8 210.0l1.9 1.7l-1.9 1.7l-1.9 -1.7zM140.2 210.8l1.9 1.7l-1.9 1.7l-1.9 -1.7zM141.2 204.2l1.9 1.7l-1.9 1.7l-1.9 -1.7zM146.2 199.4l1.9 1.7l-1.9 1.7l-1.9 -1.7zM146.8 204.7l1.9 1.7l-1.9 1.7l-1.9 -1.7zM142.9 202.4l1.9 1.7l-1.9 1.7l-1.9 -1.7zM130.8 207.6l1.9 1.7l-1.9 1.7l-1.9 -1.7zM139.9 208.9l1.9 1.7l-1.9 1.7l-1.9 -1.7zM148.3 208.3l1.9 1.7l-1.9 1.7l-1.9 -1.7zM122.6 208.6l1.9 1.7l-1.9 1.7l-1.9 -1.7zM148.8 206.0l1.9 1.7l-1.9 1.7l-1.9 -1.7zM125.9 209.4l1.9 1.7l-1.9 1.7l-1.9 -1.7zM123.0 199.6l1.9 1.7l-1.9 1.7l-1.9 -1.7zM140.2 199.5l1.9 1.7l-1.9 1.7l-1.9 -1.7zM143.2 209.0l1.9 1.7l-1.9 1.7l-1.9 -1.7zM139.0 205.8l1.9 1.7l-1.9 1.7l-1.9 -1.7zM145.6 195.0l1.9 1.7l-1.9 1.7l-1.9 -1.7zM147.7 209.0l1.9 1.7l-1.9 1.7l-1.9 -1.7zM147.1 208.6l1.9 1.7l-1.9 1.7l-1.9 -1.7zM127.8 208.6l1.9 1.7l-1.9 1.7l-1.9 -1.7zM122.8 193.6l1.9 1.7l-1.9 1.7l-1.9 -1.7zM145.4 201.1l1.9 1.7l-1.9 1.7l-1.9 -1.7zM145.8 201.1l1.9 1.7l-1.9 1.7l-1.9 -1.7zM130.2 208.7l1.9 1.7l-1.9 1.7l-1.9 -1.7zM124.6 197.6l1.9 1.7l-1.9 1.7l-1.9 -1.7zM127.8 206.3l1.9 1.7l-1.9 1.7l-1.9 -1.7zM134.1 209.4l1.9 1.7l-1.9 1.7l-1.9 -1.7zM129.3 206.8l1.9 1.7l-1.9 1.7l-1.9 -1.7zM142.6 205.7l1.9 1.7l-1.9 1.7l-1.9 -1.7zM131.1 203.6l1.9 1.7l-1.9 1.7l-1.9 -1.7zM146.6 201.4l1.9 1.7l-1.9 1.7l-1.9 -1.7zM122.7 205.1l1.9 1.7l-1.9 1.7l-1.9 -1.7zM134.5 197.0l1.9 1.7l-1.9 1.7l-1.9 -1.7zM131.9 199.2l1.9 1.7l-1.9 1.7l-1.9 -1.7zM137.5 207.5l1.9 1.7l-1.9 1.7l-1.9 -1.7zM146.9 208.8l1.9 1.7l-1.9 1.7l-1.9 -1.7zM145.7 208.0l1.9 1.7l-1.9 1.7l-1.9 -1.7zM121.8 207.7l1.9 1.7l-1.9 1.7l-1.9 -1.7zM144.0 209.6l1.9 1.7l-1.9 1.7l-1.9 -1.7zM136.1 203.9l1.9 1.7l-1.9 1.7l-1.9 -1.7zM145.0 207.9l1.9 1.7l-1.9 1.7l-1.9 -1.7zM136.2 206.0l1.9 1.7l-1.9 1.7l-1.9 -1.7zM146.0 207.0l1.9 1.7l-1.9 1.7l-1.9 -1.7zM149.3 206.8l1.9 1.7l-1.9 1.7l-1.9 -1.7zM128.0 199.4l1.9 1.7l-1.9 1.7l-1.9 -1.7zM136.3 208.6l1.9 1.7l-1.9 1.7l-1.9 -1.7zM140.3 208.9l1.9 1.7l-1.9 1.7l-1.9 -1.7zM144.7 199.4l1.9 1.7l-1.9 1.7l-1.9 -1.7zM144.7 201.2l1.9 1.7l-1.9 1.7l-1.9 -1.7zM132.1 205.2l1.9 1.7l-1.9 1.7l-1.9 -1.7zM133.3 208.8l1.9 1.7l-1.9 1.7l-1.9 -1.7zM147.7 209.4l1.9 1.7l-1.9 1.7l-1.9 -1.7zM127.8 207.0l1.9 1.7l-1.9 1.7l-1.9 -1.7zM148.0 203.7l1.9 1.7l-1.9 1.7l-1.9 -1.7zM132.8 207.3l1.9 1.7l-1.9 1.7l-1.9 -1.7zM135.2 203.2l1.9 1.7l-1.9 1.7l-1.9 -1.7zM122.9 185.5l1.9 1.7l-1.9 1.7l-1.9 -1.7zM120.6 190.6l1.9 1.7l-1.9 1.7l-1.9 -1.7zM123.4 191.3l1.9 1.7l-1.9 1.7l-1.9 -1.7zM132.2 188.3l1.9 1.7l-1.9 1.7l-1.9 -1.7zM134.5 192.3l1.9 1.7l-1.9 1.7l-1.9 -1.7zM139.2 194.1l1.9 1.7l-1.9 1.7l-1.9 -1.7zM150.8 195.3l1.9 1.7l-1.9 1.7l-1.9 -1.7z"/>
<rect x="150.8" y="219.8" width="26.6" height="6.8" fill="#858585"/>
<path fill="#858585" d="M170.2 215.1l1.9 1.7l-1.9 1.7l-1.9 -1.7zM167.6 217.5l1.9 1.7l-1.9 1.7l-1.9 -1.7zM159.9 218.7l1.9 1.7l-1.9 1.7l-1.9 -1.7zM172.3 215.6l1.9 1.7l-1.9 1.7l-1.9 -1.7zM169.9 218.6l1.9 1.7l-1.9 1.7l-1.9 -1.7zM162.6 215.0l1.9 1.7l-1.9 1.7l-1.9 -1.7zM166.0 218.8l1.9 1.7l-1.9 1.7l-1.9 -1.7zM163.2 214.3l1.9 1.7l-1.9 1.7l-1.9 -1.7zM157.8 218.5l1.9 1.7l-1.9 1.7l-1.9 -1.7zM159.3 215.4l1.9 1.7l-1.9 1.7l-1.9 -1.7zM172.3 218.7l1.9 1.7l-1.9 1.7l-1.9 -1.7zM155.8 218.1l1.9 1.7l-1.9 1.7l-1.9 -1.7zM159.9 216.5l1.9 1.7l-1.9 1.7l-1.9 -1.7zM156.0 217.6l1.9 1.7l-1.9 1.7l-1.9 -1.7zM156.6 213.7l1.9 1.7l-1.9 1.7l-1.9 -1.7zM169.6 219.0l1.9 1.7l-1.9 1.7l-1.9 -1.7zM175.2 219.0l1.9 1.7l-1.9 1.7l-1.9 -1.7zM161.3 213.7l1.9 1.7l-1.9 1.7l-1.9 -1.7zM171.2 215.2l1.9 1.7l-1.9 1.7l-1.9 -1.7zM162.5 218.4l1.9 1.7l-1.9 1.7l-1.9 -1.7zM167.4 219.0l1.9 1.7l-1.9 1.7l-1.9 -1.7zM157.1 217.3l1.9 1.7l-1.9 1.7l-1.9 -1.7zM152.9 217.2l1.9 1.7l-1.9 1.7l-1.9 -1.7zM171.1 215.4l1.9 1.7l-1.9 1.7l-1.9 -1.7zM164.1 215.8l1.9 1.7l-1.9 1.7l-1.9 -1.7zM163.2 218.7l1.9 1.7l-1.9 1.7l-1.9 -1.7zM166.6 217.2l1.9 1.7l-1.9 1.7l-1.9 -1.7zM169.9 214.2l1.9 1.7l-1.9 1.7l-1.9 -1.7zM162.4 216.2l1.9 1.7l-1.9 1.7l-1.9 -1.7zM170.1 217.1l1.9 1.7l-1.9 1.7l-1.9 -1.7zM157.6 215.3l1.9 1.7l-1.9 1.7l-1.9 -1.7zM173.2 215.0l1.9 1.7l-1.9 1.7l-1.9 -1.7zM168.9 214.5l1.9 1.7l-1.9 1.7l-1.9 -1.7zM168.4 215.8l1.9 1.7l-1.9 1.7l-1.9 -1.7zM163.0 217.7l1.9 1.7l-1.9 1.7l-1.9 -1.7zM167.2 219.0l1.9 1.7l-1.9 1.7l-1.9 -1.7zM162.2 214.9l1.9 1.7l-1.9 1.7l-1.9 -1.7zM169.2 215.8l1.9 1.7l-1.9 1.7l-1.9 -1.7zM158.1 217.1l1.9 1.7l-1.9 1.7l-1.9 -1.7zM163.0 215.9l1.9 1.7l-1.9 1.7l-1.9 -1.7zM161.9 215.5l1.9 1.7l-1.9 1.7l-1.9 -1.7zM174.4 218.5l1.9 1.7l-1.9 1.7l-1.9 -1.7zM167.8 214.9l1.9 1.7l-1.9 1.7l-1.9 -1.7zM161.4 216.7l1.9 1.7l-1.9 1.7l-1.9 -1.7zM175.5 219.4l1.9 1.7l-1.9 1.7l-1.9 -1.7zM165.1 218.6l1.9 1.7l-1.9 1.7l-1.9 -1.7zM170.9 214.0l1.9 1.7l-1.9 1.7l-1.9 -1.7zM164.6 219.0l1.9 1.7l-1.9 1.7l-1.9 -1.7zM165.9 216.4l1.9 1.7l-1.9 1.7l-1.9 -1.7zM169.3 216.5l1.9 1.7l-1.9 1.7l-1.9 -1.7zM167.4 214.6l1.9 1.7l-1.9 1.7l-1.9 -1.7zM164.6 217.1l1.9 1.7l-1.9 1.7l-1.9 -1.7zM174.9 218.3l1.9 1.7l-1.9 1.7l-1.9 -1.7zM168.5 217.2l1.9 1.7l-1.9 1.7l-1.9 -1.7zM170.4 218.9l1.9 1.7l-1.9 1.7l-1.9 -1.7zM175.7 217.5l1.9 1.7l-1.9 1.7l-1.9 -1.7zM153.5 218.0l1.9 1.7l-1.9 1.7l-1.9 -1.7zM161.7 219.5l1.9 1.7l-1.9 1.7l-1.9 -1.7zM162.1 217.1l1.9 1.7l-1.9 1.7l-1.9 -1.7zM168.9 217.5l1.9 1.7l-1.9 1.7l-1.9 -1.7zM158.5 218.3l1.9 1.7l-1.9 1.7l-1.9 -1.7zM169.9 214.0l1.9 1.7l-1.9 1.7l-1.9 -1.7zM164.7 218.3l1.9 1.7l-1.9 1.7l-1.9 -1.7zM171.3 217.2l1.9 1.7l-1.9 1.7l-1.9 -1.7zM157.2 218.8l1.9 1.7l-1.9 1.7l-1.9 -1.7zM170.7 214.7l1.9 1.7l-1.9 1.7l-1.9 -1.7zM167.3 216.8l1.9 1.7l-1.9 1.7l-1.9 -1.7zM165.6 218.2l1.9 1.7l-1.9 1.7l-1.9 -1.7zM175.2 217.5l1.9 1.7l-1.9 1.7l-1.9 -1.7zM167.4 214.7l1.9 1.7l-1.9 1.7l-1.9 -1.7zM171.7 216.8l1.9 1.7l-1.9 1.7l-1.9 -1.7zM159.2 216.3l1.9 1.7l-1.9 1.7l-1.9 -1.7zM155.1 214.6l1.9 1.7l-1.9 1.7l-1.9 -1.7zM160.6 214.5l1.9 1.7l-1.9 1.7l-1.9 -1.7zM158.5 217.3l1.9 1.7l-1.9 1.7l-1.9 -1.7zM158.2 217.0l1.9 1.7l-1.9 1.7l-1.9 -1.7zM156.6 219.6l1.9 1.7l-1.9 1.7l-1.9 -1.7zM169.4 212.5l1.9 1.7l-1.9 1.7l-1.9 -1.7zM158.0 212.4l1.9 1.7l-1.9 1.7l-1.9 -1.7zM163.6 211.9l1.9 1.7l-1.9 1.7l-1.9 -1.7zM167.4 211.0l1.9 1.7l-1.9 1.7l-1.9 -1.7zM160.8 209.9l1.9 1.7l-1.9 1.7l-1.9 -1.7zM172.6 213.4l1.9 1.7l-1.9 1.7l-1.9 -1.7zM172.0 210.0l1.9 1.7l-1.9 1.7l-1.9 -1.7zM170.9 213.0l1.9 1.7l-1.9 1.7l-1.9 -1.7zM172.1 211.1l1.9 1.7l-1.9 1.7l-1.9 -1.7zM152.5 213.6l1.9 1.7l-1.9 1.7l-1.9 -1.7zM174.9 211.0l1.9 1.7l-1.9 1.7l-1.9 -1.7zM158.1 213.2l1.9 1.7l-1.9 1.7l-1.9 -1.7zM155.5 212.7l1.9 1.7l-1.9 1.7l-1.9 -1.7zM170.7 212.2l1.9 1.7l-1.9 1.7l-1.9 -1.7zM155.8 210.0l1.9 1.7l-1.9 1.7l-1.9 -1.7zM171.1 212.9l1.9 1.7l-1.9 1.7l-1.9 -1.7zM173.5 211.2l1.9 1.7l-1.9 1.7l-1.9 -1.7zM170.9 210.9l1.9 1.7l-1.9 1.7l-1.9 -1.7zM173.6 210.4l1.9 1.7l-1.9 1.7l-1.9 -1.7zM172.2 212.8l1.9 1.7l-1.9 1.7l-1.9 -1.7zM168.7 211.5l1.9 1.7l-1.9 1.7l-1.9 -1.7zM169.9 211.8l1.9 1.7l-1.9 1.7l-1.9 -1.7zM173.3 211.4l1.9 1.7l-1.9 1.7l-1.9 -1.7zM158.4 212.7l1.9 1.7l-1.9 1.7l-1.9 -1.7zM155.4 211.6l1.9 1.7l-1.9 1.7l-1.9 -1.7zM153.5 211.7l1.9 1.7l-1.9 1.7l-1.9 -1.7zM155.6 211.6l1.9 1.7l-1.9 1.7l-1.9 -1.7zM164.1 211.4l1.9 1.7l-1.9 1.7l-1.9 -1.7zM172.8 213.6l1.9 1.7l-1.9 1.7l-1.9 -1.7zM172.3 211.7l1.9 1.7l-1.9 1.7l-1.9 -1.7zM165.6 200.3l1.9 1.7l-1.9 1.7l-1.9 -1.7zM172.3 205.6l1.9 1.7l-1.9 1.7l-1.9 -1.7zM162.2 208.9l1.9 1.7l-1.9 1.7l-1.9 -1.7zM167.4 201.0l1.9 1.7l-1.9 1.7l-1.9 -1.7zM152.8 201.6l1.9 1.7l-1.9 1.7l-1.9 -1.7zM168.5 206.2l1.9 1.7l-1.9 1.7l-1.9 -1.7zM175.7 203.5l1.9 1.7l-1.9 1.7l-1.9 -1.7zM163.7 209.3l1.9 1.7l-1.9 1.7l-1.9 -1.7zM169.3 201.3l1.9 1.7l-1.9 1.7l-1.9 -1.7zM160.2 205.7l1.9 1.7l-1.9 1.7l-1.9 -1.7zM163.5 203.3l1.9 1.7l-1.9 1.7l-1.9 -1.7zM170.6 207.6l1.9 1.7l-1.9 1.7l-1.9 -1.7zM162.5 204.9l1.9 1.7l-1.9 1.7l-1.9 -1.7zM165.4 194.7l1.9 1.7l-1.9 1.7l-1.9 -1.7zM159.1 194.7l1.9 1.7l-1.9 1.7l-1.9 -1.7zM161.8 203.6l1.9 1.7l-1.9 1.7l-1.9 -1.7zM158.6 203.6l1.9 1.7l-1.9 1.7l-1.9 -1.7zM175.5 200.6l1.9 1.7l-1.9 1.7l-1.9 -1.7zM171.1 206.2l1.9 1.7l-1.9 1.7l-1.9 -1.7zM159.7 206.6l1.9 1.7l-1.9 1.7l-1.9 -1.7zM166.2 201.0l1.9 1.7l-1.9 1.7l-1.9 -1.7zM170.9 209.3l1.9 1.7l-1.9 1.7l-1.9 -1.7zM169.4 202.9l1.9 1.7l-1.9 1.7l-1.9 -1.7zM153.3 206.6l1.9 1.7l-1.9 1.7l-1.9 -1.7zM152.2 207.8l1.9 1.7l-1.9 1.7l-1.9 -1.7zM174.2 201.6l1.9 1.7l-1.9 1.7l-1.9 -1.7zM167.9 196.4l1.9 1.7l-1.9 1.7l-1.9 -1.7zM173.9 201.6l1.9 1.7l-1.9 1.7l-1.9 -1.7zM166.9 201.2l1.9 1.7l-1.9 1.7l-1.9 -1.7zM168.8 201.9l1.9 1.7l-1.9 1.7l-1.9 -1.7zM168.4 207.6l1.9 1.7l-1.9 1.7l-1.9 -1.7zM168.1 204.4l1.9 1.7l-1.9 1.7l-1.9 -1.7zM170.4 208.7l1.9 1.7l-1.9 1.7l-1.9 -1.7zM156.5 209.3l1.9 1.7l-1.9 1.7l-1.9 -1.7zM170.7 200.5l1.9 1.7l-1.9 1.7l-1.9 -1.7zM161.0 194.9l1.9 1.7l-1.9 1.7l-1.9 -1.7zM171.0 202.6l1.9 1.7l-1.9 1.7l-1.9 -1.7zM158.3 206.5l1.9 1.7l-1.9 1.7l-1.9 -1.7zM162.2 206.3l1.9 1.7l-1.9 1.7l-1.9 -1.7zM162.4 200.9l1.9 1.7l-1.9 1.7l-1.9 -1.7zM174.5 209.1l1.9 1.7l-1.9 1.7l-1.9 -1.7zM163.1 141.8l1.9 1.7l-1.9 1.7l-1.9 -1.7zM163.1 154.6l1.9 1.7l-1.9 1.7l-1.9 -1.7zM153.1 185.5l1.9 1.7l-1.9 1.7l-1.9 -1.7zM155.5 186.4l1.9 1.7l-1.9 1.7l-1.9 -1.7zM159.0 187.1l1.9 1.7l-1.9 1.7l-1.9 -1.7zM163.1 192.3l1.9 1.7l-1.9 1.7l-1.9 -1.7zM167.8 174.8l1.9 1.7l-1.9 1.7l-1.9 -1.7zM167.1 180.6l1.9 1.7l-1.9 1.7l-1.9 -1.7zM173.6 179.2l1.9 1.7l-1.9 1.7l-1.9 -1.7zM164.8 195.3l1.9 1.7l-1.9 1.7l-1.9 -1.7z"/>
<rect x="176.0" y="219.8" width="29.7" height="6.8" fill="#1c1c1c"/>
<path fill="#1c1c1c" d="M192.7 219.4l1.9 1.7l-1.9 1.7l-1.9 -1.7zM180.5 214.7l1.9 1.7l-1.9 1.7l-1.9 -1.7zM192.9 214.1l1.9 1.7l-1.9 1.7l-1.9 -1.7zM189.4 219.5l1.9 1.7l-1.9 1.7l-1.9 -1.7zM187.8 216.0l1.9 1.7l-1.9 1.7l-1.9 -1.7zM202.7 213.7l1.9 1.7l-1.9 1.7l-1.9 -1.7zM190.2 217.1l1.9 1.7l-1.9 1.7l-1.9 -1.7zM180.1 215.7l1.9 1.7l-1.9 1.7l-1.9 -1.7zM183.1 218.7l1.9 1.7l-1.9 1.7l-1.9 -1.7zM177.7 219.6l1.9 1.7l-1.9 1.7l-1.9 -1.7zM195.8 218.9l1.9 1.7l-1.9 1.7l-1.9 -1.7zM203.5 219.1l1.9 1.7l-1.9 1.7l-1.9 -1.7zM200.9 218.8l1.9 1.7l-1.9 1.7l-1.9 -1.7zM177.8 215.3l1.9 1.7l-1.9 1.7l-1.9 -1.7zM183.9 215.2l1.9 1.7l-1.9 1.7l-1.9 -1.7zM182.4 219.3l1.9 1.7l-1.9 1.7l-1.9 -1.7zM198.3 215.3l1.9 1.7l-1.9 1.7l-1.9 -1.7zM200.5 215.2l1.9 1.7l-1.9 1.7l-1.9 -1.7zM179.6 215.8l1.9 1.7l-1.9 1.7l-1.9 -1.7zM196.5 216.8l1.9 1.7l-1.9 1.7l-1.9 -1.7zM202.6 218.1l1.9 1.7l-1.9 1.7l-1.9 -1.7zM203.4 215.3l1.9 1.7l-1.9 1.7l-1.9 -1.7zM177.6 219.5l1.9 1.7l-1.9 1.7l-1.9 -1.7zM194.9 214.7l1.9 1.7l-1.9 1.7l-1.9 -1.7zM179.5 217.7l1.9 1.7l-1.9 1.7l-1.9 -1.7zM197.1 218.6l1.9 1.7l-1.9 1.7l-1.9 -1.7zM200.6 216.7l1.9 1.7l-1.9 1.7l-1.9 -1.7zM178.9 217.4l1.9 1.7l-1.9 1.7l-1.9 -1.7zM192.9 217.0l1.9 1.7l-1.9 1.7l-1.9 -1.7zM195.6 218.7l1.9 1.7l-1.9 1.7l-1.9 -1.7zM198.9 217.4l1.9 1.7l-1.9 1.7l-1.9 -1.7zM194.8 215.8l1.9 1.7l-1.9 1.7l-1.9 -1.7zM188.6 217.3l1.9 1.7l-1.9 1.7l-1.9 -1.7zM198.6 213.9l1.9 1.7l-1.9 1.7l-1.9 -1.7zM198.6 216.2l1.9 1.7l-1.9 1.7l-1.9 -1.7zM185.2 219.2l1.9 1.7l-1.9 1.7l-1.9 -1.7zM203.7 215.4l1.9 1.7l-1.9 1.7l-1.9 -1.7zM199.7 217.6l1.9 1.7l-1.9 1.7l-1.9 -1.7zM193.7 213.7l1.9 1.7l-1.9 1.7l-1.9 -1.7zM199.8 216.0l1.9 1.7l-1.9 1.7l-1.9 -1.7zM185.7 217.0l1.9 1.7l-1.9 1.7l-1.9 -1.7zM201.4 217.3l1.9 1.7l-1.9 1.7l-1.9 -1.7zM195.9 216.0l1.9 1.7l-1.9 1.7l-1.9 -1.7zM201.6 214.8l1.9 1.7l-1.9 1.7l-1.9 -1.7zM185.0 219.6l1.9 1.7l-1.9 1.7l-1.9 -1.7zM184.4 217.1l1.9 1.7l-1.9 1.7l-1.9 -1.7zM193.2 214.7l1.9 1.7l-1.9 1.7l-1.9 -1.7zM201.3 219.3l1.9 1.7l-1.9 1.7l-1.9 -1.7zM199.9 214.7l1.9 1.7l-1.9 1.7l-1.9 -1.7zM200.8 216.2l1.9 1.7l-1.9 1.7l-1.9 -1.7zM184.7 214.5l1.9 1.7l-1.9 1.7l-1.9 -1.7zM199.2 215.5l1.9 1.7l-1.9 1.7l-1.9 -1.7zM202.1 217.5l1.9 1.7l-1.9 1.7l-1.9 -1.7zM179.6 216.3l1.9 1.7l-1.9 1.7l-1.9 -1.7zM198.9 218.4l1.9 1.7l-1.9 1.7l-1.9 -1.7zM197.6 214.0l1.9 1.7l-1.9 1.7l-1.9 -1.7zM183.6 216.0l1.9 1.7l-1.9 1.7l-1.9 -1.7zM195.7 216.8l1.9 1.7l-1.9 1.7l-1.9 -1.7zM182.9 218.1l1.9 1.7l-1.9 1.7l-1.9 -1.7zM197.7 214.9l1.9 1.7l-1.9 1.7l-1.9 -1.7zM189.8 219.1l1.9 1.7l-1.9 1.7l-1.9 -1.7zM199.2 215.0l1.9 1.7l-1.9 1.7l-1.9 -1.7zM183.6 216.1l1.9 1.7l-1.9 1.7l-1.9 -1.7zM201.6 214.3l1.9 1.7l-1.9 1.7l-1.9 -1.7zM191.4 216.7l1.9 1.7l-1.9 1.7l-1.9 -1.7zM193.3 218.5l1.9 1.7l-1.9 1.7l-1.9 -1.7zM182.5 218.5l1.9 1.7l-1.9 1.7l-1.9 -1.7zM196.3 217.4l1.9 1.7l-1.9 1.7l-1.9 -1.7zM192.6 217.2l1.9 1.7l-1.9 1.7l-1.9 -1.7zM191.3 218.7l1.9 1.7l-1.9 1.7l-1.9 -1.7zM178.5 213.6l1.9 1.7l-1.9 1.7l-1.9 -1.7zM187.4 219.0l1.9 1.7l-1.9 1.7l-1.9 -1.7zM194.4 214.9l1.9 1.7l-1.9 1.7l-1.9 -1.7zM181.5 216.0l1.9 1.7l-1.9 1.7l-1.9 -1.7zM186.6 216.5l1.9 1.7l-1.9 1.7l-1.9 -1.7zM177.9 219.4l1.9 1.7l-1.9 1.7l-1.9 -1.7zM204.1 214.4l1.9 1.7l-1.9 1.7l-1.9 -1.7zM190.5 216.2l1.9 1.7l-1.9 1.7l-1.9 -1.7zM184.4 214.9l1.9 1.7l-1.9 1.7l-1.9 -1.7zM188.8 213.9l1.9 1.7l-1.9 1.7l-1.9 -1.7zM198.1 214.7l1.9 1.7l-1.9 1.7l-1.9 -1.7zM203.4 218.1l1.9 1.7l-1.9 1.7l-1.9 -1.7zM178.3 218.4l1.9 1.7l-1.9 1.7l-1.9 -1.7zM182.2 219.1l1.9 1.7l-1.9 1.7l-1.9 -1.7zM178.7 216.3l1.9 1.7l-1.9 1.7l-1.9 -1.7zM200.9 216.9l1.9 1.7l-1.9 1.7l-1.9 -1.7zM203.0 214.1l1.9 1.7l-1.9 1.7l-1.9 -1.7zM179.0 216.0l1.9 1.7l-1.9 1.7l-1.9 -1.7zM188.1 218.9l1.9 1.7l-1.9 1.7l-1.9 -1.7zM203.3 218.1l1.9 1.7l-1.9 1.7l-1.9 -1.7zM192.6 215.8l1.9 1.7l-1.9 1.7l-1.9 -1.7zM203.2 215.6l1.9 1.7l-1.9 1.7l-1.9 -1.7zM188.0 216.9l1.9 1.7l-1.9 1.7l-1.9 -1.7zM181.6 209.7l1.9 1.7l-1.9 1.7l-1.9 -1.7zM204.2 212.7l1.9 1.7l-1.9 1.7l-1.9 -1.7zM178.3 212.6l1.9 1.7l-1.9 1.7l-1.9 -1.7zM186.8 210.0l1.9 1.7l-1.9 1.7l-1.9 -1.7zM201.8 210.3l1.9 1.7l-1.9 1.7l-1.9 -1.7zM178.6 210.5l1.9 1.7l-1.9 1.7l-1.9 -1.7zM196.5 211.0l1.9 1.7l-1.9 1.7l-1.9 -1.7zM204.0 213.4l1.9 1.7l-1.9 1.7l-1.9 -1.7zM181.2 210.6l1.9 1.7l-1.9 1.7l-1.9 -1.7zM202.8 210.9l1.9 1.7l-1.9 1.7l-1.9 -1.7zM185.4 211.2l1.9 1.7l-1.9 1.7l-1.9 -1.7zM197.8 213.2l1.9 1.7l-1.9 1.7l-1.9 -1.7zM186.1 212.6l1.9 1.7l-1.9 1.7l-1.9 -1.7zM180.7 211.7l1.9 1.7l-1.9 1.7l-1.9 -1.7zM181.9 212.6l1.9 1.7l-1.9 1.7l-1.9 -1.7zM181.2 210.9l1.9 1.7l-1.9 1.7l-1.9 -1.7zM177.6 210.7l1.9 1.7l-1.9 1.7l-1.9 -1.7zM182.6 213.5l1.9 1.7l-1.9 1.7l-1.9 -1.7zM202.4 212.7l1.9 1.7l-1.9 1.7l-1.9 -1.7zM202.6 210.1l1.9 1.7l-1.9 1.7l-1.9 -1.7zM201.4 213.0l1.9 1.7l-1.9 1.7l-1.9 -1.7zM189.4 213.2l1.9 1.7l-1.9 1.7l-1.9 -1.7zM202.5 210.2l1.9 1.7l-1.9 1.7l-1.9 -1.7zM194.3 211.8l1.9 1.7l-1.9 1.7l-1.9 -1.7zM186.5 210.3l1.9 1.7l-1.9 1.7l-1.9 -1.7zM190.2 211.1l1.9 1.7l-1.9 1.7l-1.9 -1.7zM181.2 212.7l1.9 1.7l-1.9 1.7l-1.9 -1.7zM178.8 210.7l1.9 1.7l-1.9 1.7l-1.9 -1.7zM192.3 213.0l1.9 1.7l-1.9 1.7l-1.9 -1.7zM200.9 212.5l1.9 1.7l-1.9 1.7l-1.9 -1.7zM188.5 213.0l1.9 1.7l-1.9 1.7l-1.9 -1.7zM184.6 210.2l1.9 1.7l-1.9 1.7l-1.9 -1.7zM186.4 212.9l1.9 1.7l-1.9 1.7l-1.9 -1.7zM190.6 212.3l1.9 1.7l-1.9 1.7l-1.9 -1.7zM201.8 213.1l1.9 1.7l-1.9 1.7l-1.9 -1.7zM203.8 213.4l1.9 1.7l-1.9 1.7l-1.9 -1.7zM201.6 210.9l1.9 1.7l-1.9 1.7l-1.9 -1.7zM183.0 204.1l1.9 1.7l-1.9 1.7l-1.9 -1.7zM185.1 207.1l1.9 1.7l-1.9 1.7l-1.9 -1.7zM182.8 205.7l1.9 1.7l-1.9 1.7l-1.9 -1.7zM204.2 208.7l1.9 1.7l-1.9 1.7l-1.9 -1.7zM185.1 209.1l1.9 1.7l-1.9 1.7l-1.9 -1.7zM197.0 206.6l1.9 1.7l-1.9 1.7l-1.9 -1.7zM203.8 209.5l1.9 1.7l-1.9 1.7l-1.9 -1.7zM199.2 206.1l1.9 1.7l-1.9 1.7l-1.9 -1.7zM181.1 209.6l1.9 1.7l-1.9 1.7l-1.9 -1.7zM199.9 203.2l1.9 1.7l-1.9 1.7l-1.9 -1.7zM182.3 204.7l1.9 1.7l-1.9 1.7l-1.9 -1.7zM202.0 207.5l1.9 1.7l-1.9 1.7l-1.9 -1.7zM192.8 208.3l1.9 1.7l-1.9 1.7l-1.9 -1.7zM182.2 197.1l1.9 1.7l-1.9 1.7l-1.9 -1.7zM196.6 207.7l1.9 1.7l-1.9 1.7l-1.9 -1.7zM179.4 208.8l1.9 1.7l-1.9 1.7l-1.9 -1.7zM193.8 203.8l1.9 1.7l-1.9 1.7l-1.9 -1.7zM184.7 207.6l1.9 1.7l-1.9 1.7l-1.9 -1.7zM193.9 199.1l1.9 1.7l-1.9 1.7l-1.9 -1.7zM199.3 202.2l1.9 1.7l-1.9 1.7l-1.9 -1.7zM182.8 209.0l1.9 1.7l-1.9 1.7l-1.9 -1.7zM197.2 205.1l1.9 1.7l-1.9 1.7l-1.9 -1.7zM196.9 209.1l1.9 1.7l-1.9 1.7l-1.9 -1.7zM199.3 206.1l1.9 1.7l-1.9 1.7l-1.9 -1.7zM200.1 203.8l1.9 1.7l-1.9 1.7l-1.9 -1.7zM177.7 204.1l1.9 1.7l-1.9 1.7l-1.9 -1.7zM200.9 207.0l1.9 1.7l-1.9 1.7l-1.9 -1.7zM182.3 194.5l1.9 1.7l-1.9 1.7l-1.9 -1.7zM187.2 208.1l1.9 1.7l-1.9 1.7l-1.9 -1.7zM187.4 201.9l1.9 1.7l-1.9 1.7l-1.9 -1.7zM177.4 203.4l1.9 1.7l-1.9 1.7l-1.9 -1.7zM189.4 203.4l1.9 1.7l-1.9 1.7l-1.9 -1.7zM180.6 198.9l1.9 1.7l-1.9 1.7l-1.9 -1.7zM199.4 206.3l1.9 1.7l-1.9 1.7l-1.9 -1.7zM196.6 205.5l1.9 1.7l-1.9 1.7l-1.9 -1.7zM197.7 209.1l1.9 1.7l-1.9 1.7l-1.9 -1.7zM201.0 203.8l1.9 1.7l-1.9 1.7l-1.9 -1.7zM191.2 203.2l1.9 1.7l-1.9 1.7l-1.9 -1.7zM191.9 209.4l1.9 1.7l-1.9 1.7l-1.9 -1.7zM203.5 207.4l1.9 1.7l-1.9 1.7l-1.9 -1.7zM182.2 208.7l1.9 1.7l-1.9 1.7l-1.9 -1.7zM184.1 195.2l1.9 1.7l-1.9 1.7l-1.9 -1.7zM178.1 208.7l1.9 1.7l-1.9 1.7l-1.9 -1.7zM196.2 207.8l1.9 1.7l-1.9 1.7l-1.9 -1.7zM177.8 201.8l1.9 1.7l-1.9 1.7l-1.9 -1.7zM192.9 203.3l1.9 1.7l-1.9 1.7l-1.9 -1.7zM196.3 208.7l1.9 1.7l-1.9 1.7l-1.9 -1.7zM200.9 198.9l1.9 1.7l-1.9 1.7l-1.9 -1.7zM178.5 208.5l1.9 1.7l-1.9 1.7l-1.9 -1.7zM190.7 203.7l1.9 1.7l-1.9 1.7l-1.9 -1.7zM189.4 175.5l1.9 1.7l-1.9 1.7l-1.9 -1.7zM187.1 189.9l1.9 1.7l-1.9 1.7l-1.9 -1.7zM189.9 192.3l1.9 1.7l-1.9 1.7l-1.9 -1.7zM193.4 194.1l1.9 1.7l-1.9 1.7l-1.9 -1.7zM196.9 189.9l1.9 1.7l-1.9 1.7l-1.9 -1.7zM198.0 192.3l1.9 1.7l-1.9 1.7l-1.9 -1.7zM185.2 194.1l1.9 1.7l-1.9 1.7l-1.9 -1.7zM181.7 195.5l1.9 1.7l-1.9 1.7l-1.9 -1.7zM200.3 195.5l1.9 1.7l-1.9 1.7l-1.9 -1.7zM178.7 196.9l1.9 1.7l-1.9 1.7l-1.9 -1.7z"/>
<rect x="204.3" y="219.8" width="29.7" height="6.8" fill="#858585"/>
<path fill="#858585" d="M213.2 218.9l1.9 1.7l-1.9 1.7l-1.9 -1.7zM216.6 218.8l1.9 1.7l-1.9 1.7l-1.9 -1.7zM221.6 214.4l1.9 1.7l-1.9 1.7l-1.9 -1.7zM209.6 216.2l1.9 1.7l-1.9 1.7l-1.9 -1.7zM225.8 218.6l1.9 1.7l-1.9 1.7l-1.9 -1.7zM228.0 214.0l1.9 1.7l-1.9 1.7l-1.9 -1.7zM216.1 217.1l1.9 1.7l-1.9 1.7l-1.9 -1.7zM228.4 216.4l1.9 1.7l-1.9 1.7l-1.9 -1.7zM216.3 214.0l1.9 1.7l-1.9 1.7l-1.9 -1.7zM226.7 217.6l1.9 1.7l-1.9 1.7l-1.9 -1.7zM212.1 217.6l1.9 1.7l-1.9 1.7l-1.9 -1.7zM217.4 213.7l1.9 1.7l-1.9 1.7l-1.9 -1.7zM227.4 214.1l1.9 1.7l-1.9 1.7l-1.9 -1.7zM227.7 214.5l1.9 1.7l-1.9 1.7l-1.9 -1.7zM207.1 216.5l1.9 1.7l-1.9 1.7l-1.9 -1.7zM231.6 214.0l1.9 1.7l-1.9 1.7l-1.9 -1.7zM212.4 217.1l1.9 1.7l-1.9 1.7l-1.9 -1.7zM222.7 217.4l1.9 1.7l-1.9 1.7l-1.9 -1.7zM220.0 219.2l1.9 1.7l-1.9 1.7l-1.9 -1.7zM217.3 216.6l1.9 1.7l-1.9 1.7l-1.9 -1.7zM206.2 218.8l1.9 1.7l-1.9 1.7l-1.9 -1.7zM231.9 214.9l1.9 1.7l-1.9 1.7l-1.9 -1.7zM231.0 215.8l1.9 1.7l-1.9 1.7l-1.9 -1.7zM227.5 214.3l1.9 1.7l-1.9 1.7l-1.9 -1.7zM229.6 219.4l1.9 1.7l-1.9 1.7l-1.9 -1.7zM223.0 218.0l1.9 1.7l-1.9 1.7l-1.9 -1.7zM224.0 218.0l1.9 1.7l-1.9 1.7l-1.9 -1.7zM220.3 214.1l1.9 1.7l-1.9 1.7l-1.9 -1.7zM222.4 218.1l1.9 1.7l-1.9 1.7l-1.9 -1.7zM219.7 217.0l1.9 1.7l-1.9 1.7l-1.9 -1.7zM231.4 217.9l1.9 1.7l-1.9 1.7l-1.9 -1.7zM213.9 215.7l1.9 1.7l-1.9 1.7l-1.9 -1.7zM208.9 216.0l1.9 1.7l-1.9 1.7l-1.9 -1.7zM231.5 216.5l1.9 1.7l-1.9 1.7l-1.9 -1.7zM212.9 216.8l1.9 1.7l-1.9 1.7l-1.9 -1.7zM220.1 218.7l1.9 1.7l-1.9 1.7l-1.9 -1.7zM209.0 218.8l1.9 1.7l-1.9 1.7l-1.9 -1.7zM213.6 217.2l1.9 1.7l-1.9 1.7l-1.9 -1.7zM213.4 218.1l1.9 1.7l-1.9 1.7l-1.9 -1.7zM208.0 216.3l1.9 1.7l-1.9 1.7l-1.9 -1.7zM228.4 215.9l1.9 1.7l-1.9 1.7l-1.9 -1.7zM221.1 215.7l1.9 1.7l-1.9 1.7l-1.9 -1.7zM211.1 215.3l1.9 1.7l-1.9 1.7l-1.9 -1.7zM218.1 216.3l1.9 1.7l-1.9 1.7l-1.9 -1.7zM222.2 216.8l1.9 1.7l-1.9 1.7l-1.9 -1.7zM214.0 218.1l1.9 1.7l-1.9 1.7l-1.9 -1.7zM211.6 216.5l1.9 1.7l-1.9 1.7l-1.9 -1.7zM216.0 216.1l1.9 1.7l-1.9 1.7l-1.9 -1.7zM205.9 217.5l1.9 1.7l-1.9 1.7l-1.9 -1.7zM229.0 218.2l1.9 1.7l-1.9 1.7l-1.9 -1.7zM220.7 216.7l1.9 1.7l-1.9 1.7l-1.9 -1.7zM213.3 213.7l1.9 1.7l-1.9 1.7l-1.9 -1.7zM213.6 215.0l1.9 1.7l-1.9 1.7l-1.9 -1.7zM209.9 219.2l1.9 1.7l-1.9 1.7l-1.9 -1.7zM229.2 217.0l1.9 1.7l-1.9 1.7l-1.9 -1.7zM207.3 217.3l1.9 1.7l-1.9 1.7l-1.9 -1.7zM217.5 215.2l1.9 1.7l-1.9 1.7l-1.9 -1.7zM208.6 218.2l1.9 1.7l-1.9 1.7l-1.9 -1.7zM231.6 215.2l1.9 1.7l-1.9 1.7l-1.9 -1.7zM209.8 217.6l1.9 1.7l-1.9 1.7l-1.9 -1.7zM215.2 215.5l1.9 1.7l-1.9 1.7l-1.9 -1.7zM222.3 214.5l1.9 1.7l-1.9 1.7l-1.9 -1.7zM227.9 216.5l1.9 1.7l-1.9 1.7l-1.9 -1.7zM225.6 215.1l1.9 1.7l-1.9 1.7l-1.9 -1.7zM226.2 216.7l1.9 1.7l-1.9 1.7l-1.9 -1.7zM226.9 215.3l1.9 1.7l-1.9 1.7l-1.9 -1.7zM230.4 218.8l1.9 1.7l-1.9 1.7l-1.9 -1.7zM229.2 219.6l1.9 1.7l-1.9 1.7l-1.9 -1.7zM226.3 216.1l1.9 1.7l-1.9 1.7l-1.9 -1.7zM219.1 213.8l1.9 1.7l-1.9 1.7l-1.9 -1.7zM221.1 217.1l1.9 1.7l-1.9 1.7l-1.9 -1.7zM226.8 214.4l1.9 1.7l-1.9 1.7l-1.9 -1.7zM222.1 217.3l1.9 1.7l-1.9 1.7l-1.9 -1.7zM217.9 216.9l1.9 1.7l-1.9 1.7l-1.9 -1.7zM225.2 217.8l1.9 1.7l-1.9 1.7l-1.9 -1.7zM216.2 216.3l1.9 1.7l-1.9 1.7l-1.9 -1.7zM216.0 217.7l1.9 1.7l-1.9 1.7l-1.9 -1.7zM226.9 214.5l1.9 1.7l-1.9 1.7l-1.9 -1.7zM219.1 216.9l1.9 1.7l-1.9 1.7l-1.9 -1.7zM210.6 217.8l1.9 1.7l-1.9 1.7l-1.9 -1.7zM209.5 216.1l1.9 1.7l-1.9 1.7l-1.9 -1.7zM221.4 219.1l1.9 1.7l-1.9 1.7l-1.9 -1.7zM230.5 217.7l1.9 1.7l-1.9 1.7l-1.9 -1.7zM228.5 214.6l1.9 1.7l-1.9 1.7l-1.9 -1.7zM231.6 218.4l1.9 1.7l-1.9 1.7l-1.9 -1.7zM217.2 214.1l1.9 1.7l-1.9 1.7l-1.9 -1.7zM205.9 213.4l1.9 1.7l-1.9 1.7l-1.9 -1.7zM220.9 211.6l1.9 1.7l-1.9 1.7l-1.9 -1.7zM230.5 210.5l1.9 1.7l-1.9 1.7l-1.9 -1.7zM220.2 209.6l1.9 1.7l-1.9 1.7l-1.9 -1.7zM219.6 211.5l1.9 1.7l-1.9 1.7l-1.9 -1.7zM224.2 212.0l1.9 1.7l-1.9 1.7l-1.9 -1.7zM215.3 211.2l1.9 1.7l-1.9 1.7l-1.9 -1.7zM215.1 209.8l1.9 1.7l-1.9 1.7l-1.9 -1.7zM223.9 211.5l1.9 1.7l-1.9 1.7l-1.9 -1.7zM208.3 212.1l1.9 1.7l-1.9 1.7l-1.9 -1.7zM216.5 211.4l1.9 1.7l-1.9 1.7l-1.9 -1.7zM221.2 210.1l1.9 1.7l-1.9 1.7l-1.9 -1.7zM231.7 211.7l1.9 1.7l-1.9 1.7l-1.9 -1.7zM217.5 211.1l1.9 1.7l-1.9 1.7l-1.9 -1.7zM232.6 212.2l1.9 1.7l-1.9 1.7l-1.9 -1.7zM220.0 210.3l1.9 1.7l-1.9 1.7l-1.9 -1.7zM210.2 212.3l1.9 1.7l-1.9 1.7l-1.9 -1.7zM232.1 210.3l1.9 1.7l-1.9 1.7l-1.9 -1.7zM219.5 213.2l1.9 1.7l-1.9 1.7l-1.9 -1.7zM229.8 210.8l1.9 1.7l-1.9 1.7l-1.9 -1.7zM227.8 209.6l1.9 1.7l-1.9 1.7l-1.9 -1.7zM229.7 211.9l1.9 1.7l-1.9 1.7l-1.9 -1.7zM209.8 212.4l1.9 1.7l-1.9 1.7l-1.9 -1.7zM219.5 211.6l1.9 1.7l-1.9 1.7l-1.9 -1.7zM210.7 212.9l1.9 1.7l-1.9 1.7l-1.9 -1.7zM222.7 211.2l1.9 1.7l-1.9 1.7l-1.9 -1.7zM215.2 209.6l1.9 1.7l-1.9 1.7l-1.9 -1.7zM222.8 213.4l1.9 1.7l-1.9 1.7l-1.9 -1.7zM216.7 210.4l1.9 1.7l-1.9 1.7l-1.9 -1.7zM213.9 210.8l1.9 1.7l-1.9 1.7l-1.9 -1.7zM205.7 212.4l1.9 1.7l-1.9 1.7l-1.9 -1.7zM228.4 211.3l1.9 1.7l-1.9 1.7l-1.9 -1.7zM223.7 212.8l1.9 1.7l-1.9 1.7l-1.9 -1.7zM219.1 211.4l1.9 1.7l-1.9 1.7l-1.9 -1.7zM212.8 200.8l1.9 1.7l-1.9 1.7l-1.9 -1.7zM220.0 202.3l1.9 1.7l-1.9 1.7l-1.9 -1.7zM216.7 208.5l1.9 1.7l-1.9 1.7l-1.9 -1.7zM209.8 197.5l1.9 1.7l-1.9 1.7l-1.9 -1.7zM208.5 208.7l1.9 1.7l-1.9 1.7l-1.9 -1.7zM210.2 203.3l1.9 1.7l-1.9 1.7l-1.9 -1.7zM227.9 201.5l1.9 1.7l-1.9 1.7l-1.9 -1.7zM227.5 209.1l1.9 1.7l-1.9 1.7l-1.9 -1.7zM205.9 197.1l1.9 1.7l-1.9 1.7l-1.9 -1.7zM214.3 198.9l1.9 1.7l-1.9 1.7l-1.9 -1.7zM215.2 208.0l1.9 1.7l-1.9 1.7l-1.9 -1.7zM212.8 208.7l1.9 1.7l-1.9 1.7l-1.9 -1.7zM230.1 202.2l1.9 1.7l-1.9 1.7l-1.9 -1.7zM215.1 204.5l1.9 1.7l-1.9 1.7l-1.9 -1.7zM216.1 209.1l1.9 1.7l-1.9 1.7l-1.9 -1.7zM229.7 202.2l1.9 1.7l-1.9 1.7l-1.9 -1.7zM231.6 204.7l1.9 1.7l-1.9 1.7l-1.9 -1.7zM222.4 207.2l1.9 1.7l-1.9 1.7l-1.9 -1.7zM206.8 206.4l1.9 1.7l-1.9 1.7l-1.9 -1.7zM230.0 195.2l1.9 1.7l-1.9 1.7l-1.9 -1.7zM213.8 201.8l1.9 1.7l-1.9 1.7l-1.9 -1.7zM231.6 203.8l1.9 1.7l-1.9 1.7l-1.9 -1.7zM231.3 207.2l1.9 1.7l-1.9 1.7l-1.9 -1.7zM216.2 198.8l1.9 1.7l-1.9 1.7l-1.9 -1.7zM211.6 206.5l1.9 1.7l-1.9 1.7l-1.9 -1.7zM229.3 204.0l1.9 1.7l-1.9 1.7l-1.9 -1.7zM227.1 207.2l1.9 1.7l-1.9 1.7l-1.9 -1.7zM210.3 205.8l1.9 1.7l-1.9 1.7l-1.9 -1.7zM210.7 206.7l1.9 1.7l-1.9 1.7l-1.9 -1.7zM220.8 208.6l1.9 1.7l-1.9 1.7l-1.9 -1.7zM220.1 205.5l1.9 1.7l-1.9 1.7l-1.9 -1.7zM216.5 209.0l1.9 1.7l-1.9 1.7l-1.9 -1.7zM208.9 194.7l1.9 1.7l-1.9 1.7l-1.9 -1.7zM215.1 207.2l1.9 1.7l-1.9 1.7l-1.9 -1.7zM210.8 206.8l1.9 1.7l-1.9 1.7l-1.9 -1.7zM212.0 209.3l1.9 1.7l-1.9 1.7l-1.9 -1.7zM223.6 206.0l1.9 1.7l-1.9 1.7l-1.9 -1.7zM209.8 199.2l1.9 1.7l-1.9 1.7l-1.9 -1.7zM208.1 206.9l1.9 1.7l-1.9 1.7l-1.9 -1.7zM228.2 208.4l1.9 1.7l-1.9 1.7l-1.9 -1.7zM217.6 194.2l1.9 1.7l-1.9 1.7l-1.9 -1.7zM227.4 208.1l1.9 1.7l-1.9 1.7l-1.9 -1.7zM215.2 198.7l1.9 1.7l-1.9 1.7l-1.9 -1.7zM215.8 207.6l1.9 1.7l-1.9 1.7l-1.9 -1.7zM231.4 203.6l1.9 1.7l-1.9 1.7l-1.9 -1.7zM211.8 204.5l1.9 1.7l-1.9 1.7l-1.9 -1.7zM206.6 182.0l1.9 1.7l-1.9 1.7l-1.9 -1.7zM210.8 189.9l1.9 1.7l-1.9 1.7l-1.9 -1.7zM209.0 194.1l1.9 1.7l-1.9 1.7l-1.9 -1.7zM220.8 192.3l1.9 1.7l-1.9 1.7l-1.9 -1.7zM226.6 175.5l1.9 1.7l-1.9 1.7l-1.9 -1.7zM229.9 173.2l1.9 1.7l-1.9 1.7l-1.9 -1.7zM230.6 178.3l1.9 1.7l-1.9 1.7l-1.9 -1.7zM226.6 180.6l1.9 1.7l-1.9 1.7l-1.9 -1.7zM224.8 187.6l1.9 1.7l-1.9 1.7l-1.9 -1.7zM230.6 190.6l1.9 1.7l-1.9 1.7l-1.9 -1.7z"/>
<rect x="232.6" y="219.8" width="22.8" height="6.8" fill="#1c1c1c"/>
<path fill="#1c1c1c" d="M236.5 215.4l1.9 1.7l-1.9 1.7l-1.9 -1.7zM239.2 214.2l1.9 1.7l-1.9 1.7l-1.9 -1.7zM245.8 217.4l1.9 1.7l-1.9 1.7l-1.9 -1.7zM238.9 216.0l1.9 1.7l-1.9 1.7l-1.9 -1.7zM238.2 214.4l1.9 1.7l-1.9 1.7l-1.9 -1.7zM236.4 216.5l1.9 1.7l-1.9 1.7l-1.9 -1.7zM244.9 218.0l1.9 1.7l-1.9 1.7l-1.9 -1.7zM249.5 217.3l1.9 1.7l-1.9 1.7l-1.9 -1.7zM247.2 216.2l1.9 1.7l-1.9 1.7l-1.9 -1.7zM240.2 217.3l1.9 1.7l-1.9 1.7l-1.9 -1.7zM235.6 218.5l1.9 1.7l-1.9 1.7l-1.9 -1.7zM251.1 217.7l1.9 1.7l-1.9 1.7l-1.9 -1.7zM247.3 218.9l1.9 1.7l-1.9 1.7l-1.9 -1.7zM245.3 217.4l1.9 1.7l-1.9 1.7l-1.9 -1.7zM244.0 217.8l1.9 1.7l-1.9 1.7l-1.9 -1.7zM235.2 217.7l1.9 1.7l-1.9 1.7l-1.9 -1.7zM238.5 218.8l1.9 1.7l-1.9 1.7l-1.9 -1.7zM248.4 217.9l1.9 1.7l-1.9 1.7l-1.9 -1.7zM242.0 214.1l1.9 1.7l-1.9 1.7l-1.9 -1.7zM249.6 214.3l1.9 1.7l-1.9 1.7l-1.9 -1.7zM251.3 218.8l1.9 1.7l-1.9 1.7l-1.9 -1.7zM239.5 219.4l1.9 1.7l-1.9 1.7l-1.9 -1.7zM247.6 215.6l1.9 1.7l-1.9 1.7l-1.9 -1.7zM241.0 217.1l1.9 1.7l-1.9 1.7l-1.9 -1.7zM247.2 215.4l1.9 1.7l-1.9 1.7l-1.9 -1.7zM238.9 214.5l1.9 1.7l-1.9 1.7l-1.9 -1.7zM241.0 215.8l1.9 1.7l-1.9 1.7l-1.9 -1.7zM237.6 218.9l1.9 1.7l-1.9 1.7l-1.9 -1.7zM252.3 215.2l1.9 1.7l-1.9 1.7l-1.9 -1.7zM248.3 219.4l1.9 1.7l-1.9 1.7l-1.9 -1.7zM234.7 218.6l1.9 1.7l-1.9 1.7l-1.9 -1.7zM237.9 217.8l1.9 1.7l-1.9 1.7l-1.9 -1.7zM241.6 219.4l1.9 1.7l-1.9 1.7l-1.9 -1.7zM240.2 215.8l1.9 1.7l-1.9 1.7l-1.9 -1.7zM237.5 214.6l1.9 1.7l-1.9 1.7l-1.9 -1.7zM245.4 215.3l1.9 1.7l-1.9 1.7l-1.9 -1.7zM239.0 217.0l1.9 1.7l-1.9 1.7l-1.9 -1.7zM247.7 217.5l1.9 1.7l-1.9 1.7l-1.9 -1.7zM233.9 214.6l1.9 1.7l-1.9 1.7l-1.9 -1.7zM249.6 217.9l1.9 1.7l-1.9 1.7l-1.9 -1.7zM234.8 214.5l1.9 1.7l-1.9 1.7l-1.9 -1.7zM246.2 219.3l1.9 1.7l-1.9 1.7l-1.9 -1.7zM238.8 218.9l1.9 1.7l-1.9 1.7l-1.9 -1.7zM249.9 218.3l1.9 1.7l-1.9 1.7l-1.9 -1.7zM252.4 215.1l1.9 1.7l-1.9 1.7l-1.9 -1.7zM235.6 215.4l1.9 1.7l-1.9 1.7l-1.9 -1.7zM241.9 215.1l1.9 1.7l-1.9 1.7l-1.9 -1.7zM250.6 217.9l1.9 1.7l-1.9 1.7l-1.9 -1.7zM235.7 213.9l1.9 1.7l-1.9 1.7l-1.9 -1.7zM242.5 214.0l1.9 1.7l-1.9 1.7l-1.9 -1.7zM247.9 215.2l1.9 1.7l-1.9 1.7l-1.9 -1.7zM250.7 215.8l1.9 1.7l-1.9 1.7l-1.9 -1.7zM243.0 219.3l1.9 1.7l-1.9 1.7l-1.9 -1.7zM248.0 217.0l1.9 1.7l-1.9 1.7l-1.9 -1.7zM244.2 214.0l1.9 1.7l-1.9 1.7l-1.9 -1.7zM236.5 215.0l1.9 1.7l-1.9 1.7l-1.9 -1.7zM234.8 215.4l1.9 1.7l-1.9 1.7l-1.9 -1.7zM250.2 218.0l1.9 1.7l-1.9 1.7l-1.9 -1.7zM244.9 213.8l1.9 1.7l-1.9 1.7l-1.9 -1.7zM246.8 216.3l1.9 1.7l-1.9 1.7l-1.9 -1.7zM238.9 219.2l1.9 1.7l-1.9 1.7l-1.9 -1.7zM241.1 217.1l1.9 1.7l-1.9 1.7l-1.9 -1.7zM238.0 217.7l1.9 1.7l-1.9 1.7l-1.9 -1.7zM236.7 215.4l1.9 1.7l-1.9 1.7l-1.9 -1.7zM247.4 218.2l1.9 1.7l-1.9 1.7l-1.9 -1.7zM238.8 216.5l1.9 1.7l-1.9 1.7l-1.9 -1.7zM242.9 214.0l1.9 1.7l-1.9 1.7l-1.9 -1.7zM241.0 217.8l1.9 1.7l-1.9 1.7l-1.9 -1.7zM251.8 218.7l1.9 1.7l-1.9 1.7l-1.9 -1.7zM245.3 217.6l1.9 1.7l-1.9 1.7l-1.9 -1.7zM250.4 211.4l1.9 1.7l-1.9 1.7l-1.9 -1.7zM249.3 212.9l1.9 1.7l-1.9 1.7l-1.9 -1.7zM247.4 211.2l1.9 1.7l-1.9 1.7l-1.9 -1.7zM243.2 210.5l1.9 1.7l-1.9 1.7l-1.9 -1.7zM250.7 213.1l1.9 1.7l-1.9 1.7l-1.9 -1.7zM239.7 212.2l1.9 1.7l-1.9 1.7l-1.9 -1.7zM238.1 213.4l1.9 1.7l-1.9 1.7l-1.9 -1.7zM239.6 212.8l1.9 1.7l-1.9 1.7l-1.9 -1.7zM248.1 211.8l1.9 1.7l-1.9 1.7l-1.9 -1.7zM236.2 212.3l1.9 1.7l-1.9 1.7l-1.9 -1.7zM243.4 212.1l1.9 1.7l-1.9 1.7l-1.9 -1.7zM237.3 213.3l1.9 1.7l-1.9 1.7l-1.9 -1.7zM234.1 209.6l1.9 1.7l-1.9 1.7l-1.9 -1.7zM249.1 213.3l1.9 1.7l-1.9 1.7l-1.9 -1.7zM248.4 209.7l1.9 1.7l-1.9 1.7l-1.9 -1.7zM245.3 213.2l1.9 1.7l-1.9 1.7l-1.9 -1.7zM243.8 211.9l1.9 1.7l-1.9 1.7l-1.9 -1.7zM237.7 211.4l1.9 1.7l-1.9 1.7l-1.9 -1.7zM234.1 209.9l1.9 1.7l-1.9 1.7l-1.9 -1.7zM246.9 211.1l1.9 1.7l-1.9 1.7l-1.9 -1.7zM252.8 211.0l1.9 1.7l-1.9 1.7l-1.9 -1.7zM239.0 212.6l1.9 1.7l-1.9 1.7l-1.9 -1.7zM236.7 213.5l1.9 1.7l-1.9 1.7l-1.9 -1.7zM249.5 210.2l1.9 1.7l-1.9 1.7l-1.9 -1.7zM239.9 212.9l1.9 1.7l-1.9 1.7l-1.9 -1.7zM246.8 210.2l1.9 1.7l-1.9 1.7l-1.9 -1.7zM252.6 212.9l1.9 1.7l-1.9 1.7l-1.9 -1.7zM249.7 210.3l1.9 1.7l-1.9 1.7l-1.9 -1.7zM248.9 206.2l1.9 1.7l-1.9 1.7l-1.9 -1.7zM237.6 194.8l1.9 1.7l-1.9 1.7l-1.9 -1.7zM240.4 205.7l1.9 1.7l-1.9 1.7l-1.9 -1.7zM245.0 205.7l1.9 1.7l-1.9 1.7l-1.9 -1.7zM250.7 207.3l1.9 1.7l-1.9 1.7l-1.9 -1.7zM234.7 202.5l1.9 1.7l-1.9 1.7l-1.9 -1.7zM246.6 195.0l1.9 1.7l-1.9 1.7l-1.9 -1.7zM248.2 203.8l1.9 1.7l-1.9 1.7l-1.9 -1.7zM244.0 208.1l1.9 1.7l-1.9 1.7l-1.9 -1.7zM240.0 202.2l1.9 1.7l-1.9 1.7l-1.9 -1.7zM235.5 199.7l1.9 1.7l-1.9 1.7l-1.9 -1.7zM237.2 204.6l1.9 1.7l-1.9 1.7l-1.9 -1.7zM253.5 208.8l1.9 1.7l-1.9 1.7l-1.9 -1.7zM234.7 204.7l1.9 1.7l-1.9 1.7l-1.9 -1.7zM237.8 198.7l1.9 1.7l-1.9 1.7l-1.9 -1.7zM234.0 194.0l1.9 1.7l-1.9 1.7l-1.9 -1.7zM251.2 196.5l1.9 1.7l-1.9 1.7l-1.9 -1.7zM242.5 206.8l1.9 1.7l-1.9 1.7l-1.9 -1.7zM247.3 203.5l1.9 1.7l-1.9 1.7l-1.9 -1.7zM242.4 206.1l1.9 1.7l-1.9 1.7l-1.9 -1.7zM242.8 200.3l1.9 1.7l-1.9 1.7l-1.9 -1.7zM250.6 208.1l1.9 1.7l-1.9 1.7l-1.9 -1.7zM239.9 204.6l1.9 1.7l-1.9 1.7l-1.9 -1.7zM245.3 206.0l1.9 1.7l-1.9 1.7l-1.9 -1.7zM237.8 208.8l1.9 1.7l-1.9 1.7l-1.9 -1.7zM240.4 204.4l1.9 1.7l-1.9 1.7l-1.9 -1.7zM253.5 201.4l1.9 1.7l-1.9 1.7l-1.9 -1.7zM250.3 209.1l1.9 1.7l-1.9 1.7l-1.9 -1.7zM247.6 201.6l1.9 1.7l-1.9 1.7l-1.9 -1.7zM239.9 202.4l1.9 1.7l-1.9 1.7l-1.9 -1.7zM253.1 204.0l1.9 1.7l-1.9 1.7l-1.9 -1.7zM247.0 206.6l1.9 1.7l-1.9 1.7l-1.9 -1.7zM240.8 209.4l1.9 1.7l-1.9 1.7l-1.9 -1.7zM237.7 199.9l1.9 1.7l-1.9 1.7l-1.9 -1.7zM242.9 208.8l1.9 1.7l-1.9 1.7l-1.9 -1.7zM247.2 205.6l1.9 1.7l-1.9 1.7l-1.9 -1.7zM245.6 205.0l1.9 1.7l-1.9 1.7l-1.9 -1.7zM244.6 202.5l1.9 1.7l-1.9 1.7l-1.9 -1.7zM245.2 177.4l1.9 1.7l-1.9 1.7l-1.9 -1.7zM235.9 187.6l1.9 1.7l-1.9 1.7l-1.9 -1.7zM239.2 192.3l1.9 1.7l-1.9 1.7l-1.9 -1.7zM249.2 191.3l1.9 1.7l-1.9 1.7l-1.9 -1.7zM246.2 193.6l1.9 1.7l-1.9 1.7l-1.9 -1.7zM236.4 195.3l1.9 1.7l-1.9 1.7l-1.9 -1.7zM243.4 196.3l1.9 1.7l-1.9 1.7l-1.9 -1.7z"/>
<rect x="254.0" y="219.8" width="29.3" height="6.8" fill="#858585"/>
<path fill="#858585" d="M265.9 218.9l1.9 1.7l-1.9 1.7l-1.9 -1.7zM260.1 214.3l1.9 1.7l-1.9 1.7l-1.9 -1.7zM269.9 218.9l1.9 1.7l-1.9 1.7l-1.9 -1.7zM278.3 218.1l1.9 1.7l-1.9 1.7l-1.9 -1.7zM257.8 216.4l1.9 1.7l-1.9 1.7l-1.9 -1.7zM262.0 216.7l1.9 1.7l-1.9 1.7l-1.9 -1.7zM270.1 218.2l1.9 1.7l-1.9 1.7l-1.9 -1.7zM270.6 218.9l1.9 1.7l-1.9 1.7l-1.9 -1.7zM269.0 216.1l1.9 1.7l-1.9 1.7l-1.9 -1.7zM257.4 217.2l1.9 1.7l-1.9 1.7l-1.9 -1.7zM257.3 217.0l1.9 1.7l-1.9 1.7l-1.9 -1.7zM278.4 216.3l1.9 1.7l-1.9 1.7l-1.9 -1.7zM274.4 215.1l1.9 1.7l-1.9 1.7l-1.9 -1.7zM258.4 213.7l1.9 1.7l-1.9 1.7l-1.9 -1.7zM274.6 219.0l1.9 1.7l-1.9 1.7l-1.9 -1.7zM277.5 217.2l1.9 1.7l-1.9 1.7l-1.9 -1.7zM259.9 213.8l1.9 1.7l-1.9 1.7l-1.9 -1.7zM270.3 215.0l1.9 1.7l-1.9 1.7l-1.9 -1.7zM259.0 214.9l1.9 1.7l-1.9 1.7l-1.9 -1.7zM256.8 218.2l1.9 1.7l-1.9 1.7l-1.9 -1.7zM265.2 219.5l1.9 1.7l-1.9 1.7l-1.9 -1.7zM271.2 218.3l1.9 1.7l-1.9 1.7l-1.9 -1.7zM263.3 215.4l1.9 1.7l-1.9 1.7l-1.9 -1.7zM266.7 214.3l1.9 1.7l-1.9 1.7l-1.9 -1.7zM271.9 214.4l1.9 1.7l-1.9 1.7l-1.9 -1.7zM270.3 214.1l1.9 1.7l-1.9 1.7l-1.9 -1.7zM278.5 218.6l1.9 1.7l-1.9 1.7l-1.9 -1.7zM275.2 217.6l1.9 1.7l-1.9 1.7l-1.9 -1.7zM275.7 215.5l1.9 1.7l-1.9 1.7l-1.9 -1.7zM277.3 218.9l1.9 1.7l-1.9 1.7l-1.9 -1.7zM265.3 215.2l1.9 1.7l-1.9 1.7l-1.9 -1.7zM280.6 215.3l1.9 1.7l-1.9 1.7l-1.9 -1.7zM256.5 216.0l1.9 1.7l-1.9 1.7l-1.9 -1.7zM258.0 216.3l1.9 1.7l-1.9 1.7l-1.9 -1.7zM276.7 218.9l1.9 1.7l-1.9 1.7l-1.9 -1.7zM280.0 215.5l1.9 1.7l-1.9 1.7l-1.9 -1.7zM262.1 218.4l1.9 1.7l-1.9 1.7l-1.9 -1.7zM267.2 214.6l1.9 1.7l-1.9 1.7l-1.9 -1.7zM270.8 218.9l1.9 1.7l-1.9 1.7l-1.9 -1.7zM255.9 218.9l1.9 1.7l-1.9 1.7l-1.9 -1.7zM276.7 218.5l1.9 1.7l-1.9 1.7l-1.9 -1.7zM270.1 217.9l1.9 1.7l-1.9 1.7l-1.9 -1.7zM273.6 217.3l1.9 1.7l-1.9 1.7l-1.9 -1.7zM259.2 214.3l1.9 1.7l-1.9 1.7l-1.9 -1.7zM269.7 215.5l1.9 1.7l-1.9 1.7l-1.9 -1.7zM276.9 213.9l1.9 1.7l-1.9 1.7l-1.9 -1.7zM255.7 217.5l1.9 1.7l-1.9 1.7l-1.9 -1.7zM259.3 216.6l1.9 1.7l-1.9 1.7l-1.9 -1.7zM278.6 214.8l1.9 1.7l-1.9 1.7l-1.9 -1.7zM256.2 218.5l1.9 1.7l-1.9 1.7l-1.9 -1.7zM277.1 215.5l1.9 1.7l-1.9 1.7l-1.9 -1.7zM265.8 216.7l1.9 1.7l-1.9 1.7l-1.9 -1.7zM259.5 214.5l1.9 1.7l-1.9 1.7l-1.9 -1.7zM265.8 214.4l1.9 1.7l-1.9 1.7l-1.9 -1.7zM271.6 219.1l1.9 1.7l-1.9 1.7l-1.9 -1.7zM264.1 218.3l1.9 1.7l-1.9 1.7l-1.9 -1.7zM279.2 216.1l1.9 1.7l-1.9 1.7l-1.9 -1.7zM256.5 218.6l1.9 1.7l-1.9 1.7l-1.9 -1.7zM264.9 216.8l1.9 1.7l-1.9 1.7l-1.9 -1.7zM270.7 217.3l1.9 1.7l-1.9 1.7l-1.9 -1.7zM264.7 219.6l1.9 1.7l-1.9 1.7l-1.9 -1.7zM270.8 217.6l1.9 1.7l-1.9 1.7l-1.9 -1.7zM255.8 216.8l1.9 1.7l-1.9 1.7l-1.9 -1.7zM281.6 219.3l1.9 1.7l-1.9 1.7l-1.9 -1.7zM259.2 215.6l1.9 1.7l-1.9 1.7l-1.9 -1.7zM262.6 218.0l1.9 1.7l-1.9 1.7l-1.9 -1.7zM268.7 218.0l1.9 1.7l-1.9 1.7l-1.9 -1.7zM270.5 216.4l1.9 1.7l-1.9 1.7l-1.9 -1.7zM280.9 213.6l1.9 1.7l-1.9 1.7l-1.9 -1.7zM256.2 216.2l1.9 1.7l-1.9 1.7l-1.9 -1.7zM275.9 214.4l1.9 1.7l-1.9 1.7l-1.9 -1.7zM276.0 215.8l1.9 1.7l-1.9 1.7l-1.9 -1.7zM272.2 217.4l1.9 1.7l-1.9 1.7l-1.9 -1.7zM262.8 214.8l1.9 1.7l-1.9 1.7l-1.9 -1.7zM278.6 214.0l1.9 1.7l-1.9 1.7l-1.9 -1.7zM273.5 217.8l1.9 1.7l-1.9 1.7l-1.9 -1.7zM275.7 215.2l1.9 1.7l-1.9 1.7l-1.9 -1.7zM268.9 215.8l1.9 1.7l-1.9 1.7l-1.9 -1.7zM264.7 216.3l1.9 1.7l-1.9 1.7l-1.9 -1.7zM266.1 219.2l1.9 1.7l-1.9 1.7l-1.9 -1.7zM264.3 217.7l1.9 1.7l-1.9 1.7l-1.9 -1.7zM281.7 216.7l1.9 1.7l-1.9 1.7l-1.9 -1.7zM265.1 218.1l1.9 1.7l-1.9 1.7l-1.9 -1.7zM261.6 217.5l1.9 1.7l-1.9 1.7l-1.9 -1.7zM258.9 219.6l1.9 1.7l-1.9 1.7l-1.9 -1.7zM278.6 211.8l1.9 1.7l-1.9 1.7l-1.9 -1.7zM267.2 211.3l1.9 1.7l-1.9 1.7l-1.9 -1.7zM263.4 212.9l1.9 1.7l-1.9 1.7l-1.9 -1.7zM257.1 212.4l1.9 1.7l-1.9 1.7l-1.9 -1.7zM263.5 210.7l1.9 1.7l-1.9 1.7l-1.9 -1.7zM270.0 209.9l1.9 1.7l-1.9 1.7l-1.9 -1.7zM264.4 209.9l1.9 1.7l-1.9 1.7l-1.9 -1.7zM270.9 213.3l1.9 1.7l-1.9 1.7l-1.9 -1.7zM260.1 211.3l1.9 1.7l-1.9 1.7l-1.9 -1.7zM281.7 212.2l1.9 1.7l-1.9 1.7l-1.9 -1.7zM276.0 211.9l1.9 1.7l-1.9 1.7l-1.9 -1.7zM278.5 213.3l1.9 1.7l-1.9 1.7l-1.9 -1.7zM268.2 210.0l1.9 1.7l-1.9 1.7l-1.9 -1.7zM262.7 212.6l1.9 1.7l-1.9 1.7l-1.9 -1.7zM255.9 212.9l1.9 1.7l-1.9 1.7l-1.9 -1.7zM262.5 210.8l1.9 1.7l-1.9 1.7l-1.9 -1.7zM261.1 212.0l1.9 1.7l-1.9 1.7l-1.9 -1.7zM260.6 211.2l1.9 1.7l-1.9 1.7l-1.9 -1.7zM278.4 211.0l1.9 1.7l-1.9 1.7l-1.9 -1.7zM260.6 210.7l1.9 1.7l-1.9 1.7l-1.9 -1.7zM281.0 211.2l1.9 1.7l-1.9 1.7l-1.9 -1.7zM257.4 210.4l1.9 1.7l-1.9 1.7l-1.9 -1.7zM278.7 212.2l1.9 1.7l-1.9 1.7l-1.9 -1.7zM258.9 212.8l1.9 1.7l-1.9 1.7l-1.9 -1.7zM269.6 210.1l1.9 1.7l-1.9 1.7l-1.9 -1.7zM272.4 209.9l1.9 1.7l-1.9 1.7l-1.9 -1.7zM261.0 212.3l1.9 1.7l-1.9 1.7l-1.9 -1.7zM275.3 211.0l1.9 1.7l-1.9 1.7l-1.9 -1.7zM266.1 210.9l1.9 1.7l-1.9 1.7l-1.9 -1.7zM264.3 213.4l1.9 1.7l-1.9 1.7l-1.9 -1.7zM266.4 213.4l1.9 1.7l-1.9 1.7l-1.9 -1.7zM272.0 212.3l1.9 1.7l-1.9 1.7l-1.9 -1.7zM268.5 211.2l1.9 1.7l-1.9 1.7l-1.9 -1.7zM262.2 211.7l1.9 1.7l-1.9 1.7l-1.9 -1.7zM255.7 202.5l1.9 1.7l-1.9 1.7l-1.9 -1.7zM281.7 209.1l1.9 1.7l-1.9 1.7l-1.9 -1.7zM271.7 198.7l1.9 1.7l-1.9 1.7l-1.9 -1.7zM264.1 208.8l1.9 1.7l-1.9 1.7l-1.9 -1.7zM259.5 208.3l1.9 1.7l-1.9 1.7l-1.9 -1.7zM275.8 208.8l1.9 1.7l-1.9 1.7l-1.9 -1.7zM277.0 204.9l1.9 1.7l-1.9 1.7l-1.9 -1.7zM269.7 202.1l1.9 1.7l-1.9 1.7l-1.9 -1.7zM270.1 200.5l1.9 1.7l-1.9 1.7l-1.9 -1.7zM271.4 206.2l1.9 1.7l-1.9 1.7l-1.9 -1.7zM275.1 207.1l1.9 1.7l-1.9 1.7l-1.9 -1.7zM274.3 197.4l1.9 1.7l-1.9 1.7l-1.9 -1.7zM276.0 206.5l1.9 1.7l-1.9 1.7l-1.9 -1.7zM275.9 204.5l1.9 1.7l-1.9 1.7l-1.9 -1.7zM262.7 203.3l1.9 1.7l-1.9 1.7l-1.9 -1.7zM280.4 208.4l1.9 1.7l-1.9 1.7l-1.9 -1.7zM255.5 204.1l1.9 1.7l-1.9 1.7l-1.9 -1.7zM272.8 197.0l1.9 1.7l-1.9 1.7l-1.9 -1.7zM265.0 207.4l1.9 1.7l-1.9 1.7l-1.9 -1.7zM275.5 208.8l1.9 1.7l-1.9 1.7l-1.9 -1.7zM256.0 208.4l1.9 1.7l-1.9 1.7l-1.9 -1.7zM256.9 203.7l1.9 1.7l-1.9 1.7l-1.9 -1.7zM270.1 207.9l1.9 1.7l-1.9 1.7l-1.9 -1.7zM280.4 205.7l1.9 1.7l-1.9 1.7l-1.9 -1.7zM259.3 207.9l1.9 1.7l-1.9 1.7l-1.9 -1.7zM275.0 208.1l1.9 1.7l-1.9 1.7l-1.9 -1.7zM256.1 196.8l1.9 1.7l-1.9 1.7l-1.9 -1.7zM261.8 203.7l1.9 1.7l-1.9 1.7l-1.9 -1.7zM272.3 206.0l1.9 1.7l-1.9 1.7l-1.9 -1.7zM276.7 204.4l1.9 1.7l-1.9 1.7l-1.9 -1.7zM263.9 208.6l1.9 1.7l-1.9 1.7l-1.9 -1.7zM274.9 209.0l1.9 1.7l-1.9 1.7l-1.9 -1.7zM272.5 205.2l1.9 1.7l-1.9 1.7l-1.9 -1.7zM278.4 209.1l1.9 1.7l-1.9 1.7l-1.9 -1.7zM270.4 205.1l1.9 1.7l-1.9 1.7l-1.9 -1.7zM279.8 201.2l1.9 1.7l-1.9 1.7l-1.9 -1.7zM261.3 207.1l1.9 1.7l-1.9 1.7l-1.9 -1.7zM262.3 204.8l1.9 1.7l-1.9 1.7l-1.9 -1.7zM261.5 207.7l1.9 1.7l-1.9 1.7l-1.9 -1.7zM275.6 200.9l1.9 1.7l-1.9 1.7l-1.9 -1.7zM263.3 207.5l1.9 1.7l-1.9 1.7l-1.9 -1.7zM270.5 208.2l1.9 1.7l-1.9 1.7l-1.9 -1.7zM278.3 207.0l1.9 1.7l-1.9 1.7l-1.9 -1.7zM275.4 194.9l1.9 1.7l-1.9 1.7l-1.9 -1.7zM262.8 206.2l1.9 1.7l-1.9 1.7l-1.9 -1.7zM268.3 208.1l1.9 1.7l-1.9 1.7l-1.9 -1.7zM256.5 170.4l1.9 1.7l-1.9 1.7l-1.9 -1.7zM255.0 186.7l1.9 1.7l-1.9 1.7l-1.9 -1.7zM255.2 194.3l1.9 1.7l-1.9 1.7l-1.9 -1.7zM267.7 180.9l1.9 1.7l-1.9 1.7l-1.9 -1.7zM267.7 183.0l1.9 1.7l-1.9 1.7l-1.9 -1.7zM265.2 188.9l1.9 1.7l-1.9 1.7l-1.9 -1.7zM268.3 194.3l1.9 1.7l-1.9 1.7l-1.9 -1.7zM274.0 192.3l1.9 1.7l-1.9 1.7l-1.9 -1.7zM274.8 194.8l1.9 1.7l-1.9 1.7l-1.9 -1.7z"/>
<rect x="281.9" y="219.8" width="25.8" height="6.8" fill="#1c1c1c"/>
<path fill="#1c1c1c" d="M299.0 216.0l1.9 1.7l-1.9 1.7l-1.9 -1.7zM293.7 216.1l1.9 1.7l-1.9 1.7l-1.9 -1.7zM303.7 218.3l1.9 1.7l-1.9 1.7l-1.9 -1.7zM303.7 217.4l1.9 1.7l-1.9 1.7l-1.9 -1.7zM301.3 214.4l1.9 1.7l-1.9 1.7l-1.9 -1.7zM287.4 214.4l1.9 1.7l-1.9 1.7l-1.9 -1.7zM306.3 217.8l1.9 1.7l-1.9 1.7l-1.9 -1.7zM283.8 218.9l1.9 1.7l-1.9 1.7l-1.9 -1.7zM305.8 219.5l1.9 1.7l-1.9 1.7l-1.9 -1.7zM304.3 218.7l1.9 1.7l-1.9 1.7l-1.9 -1.7zM300.3 219.0l1.9 1.7l-1.9 1.7l-1.9 -1.7zM287.1 215.5l1.9 1.7l-1.9 1.7l-1.9 -1.7zM285.3 217.6l1.9 1.7l-1.9 1.7l-1.9 -1.7zM304.5 215.3l1.9 1.7l-1.9 1.7l-1.9 -1.7zM303.7 213.7l1.9 1.7l-1.9 1.7l-1.9 -1.7zM284.0 218.2l1.9 1.7l-1.9 1.7l-1.9 -1.7zM301.6 215.5l1.9 1.7l-1.9 1.7l-1.9 -1.7zM284.1 216.6l1.9 1.7l-1.9 1.7l-1.9 -1.7zM288.6 217.0l1.9 1.7l-1.9 1.7l-1.9 -1.7zM285.6 219.5l1.9 1.7l-1.9 1.7l-1.9 -1.7zM306.2 217.7l1.9 1.7l-1.9 1.7l-1.9 -1.7zM303.6 218.9l1.9 1.7l-1.9 1.7l-1.9 -1.7zM294.5 218.8l1.9 1.7l-1.9 1.7l-1.9 -1.7zM293.1 218.5l1.9 1.7l-1.9 1.7l-1.9 -1.7zM299.1 218.7l1.9 1.7l-1.9 1.7l-1.9 -1.7zM300.3 216.6l1.9 1.7l-1.9 1.7l-1.9 -1.7zM285.8 217.5l1.9 1.7l-1.9 1.7l-1.9 -1.7zM294.7 214.1l1.9 1.7l-1.9 1.7l-1.9 -1.7zM291.3 218.3l1.9 1.7l-1.9 1.7l-1.9 -1.7zM305.6 214.3l1.9 1.7l-1.9 1.7l-1.9 -1.7zM300.2 218.0l1.9 1.7l-1.9 1.7l-1.9 -1.7zM287.3 218.0l1.9 1.7l-1.9 1.7l-1.9 -1.7zM284.8 219.3l1.9 1.7l-1.9 1.7l-1.9 -1.7zM295.0 217.2l1.9 1.7l-1.9 1.7l-1.9 -1.7zM296.1 217.4l1.9 1.7l-1.9 1.7l-1.9 -1.7zM283.4 215.5l1.9 1.7l-1.9 1.7l-1.9 -1.7zM298.4 216.3l1.9 1.7l-1.9 1.7l-1.9 -1.7zM295.9 215.5l1.9 1.7l-1.9 1.7l-1.9 -1.7zM306.0 214.4l1.9 1.7l-1.9 1.7l-1.9 -1.7zM299.9 217.2l1.9 1.7l-1.9 1.7l-1.9 -1.7zM290.6 217.1l1.9 1.7l-1.9 1.7l-1.9 -1.7zM305.8 217.3l1.9 1.7l-1.9 1.7l-1.9 -1.7zM292.1 217.1l1.9 1.7l-1.9 1.7l-1.9 -1.7zM286.5 213.6l1.9 1.7l-1.9 1.7l-1.9 -1.7zM283.3 216.0l1.9 1.7l-1.9 1.7l-1.9 -1.7zM304.7 218.1l1.9 1.7l-1.9 1.7l-1.9 -1.7zM297.4 217.3l1.9 1.7l-1.9 1.7l-1.9 -1.7zM288.8 218.4l1.9 1.7l-1.9 1.7l-1.9 -1.7zM285.9 214.5l1.9 1.7l-1.9 1.7l-1.9 -1.7zM301.4 214.1l1.9 1.7l-1.9 1.7l-1.9 -1.7zM284.3 215.4l1.9 1.7l-1.9 1.7l-1.9 -1.7zM290.7 215.7l1.9 1.7l-1.9 1.7l-1.9 -1.7zM295.9 217.7l1.9 1.7l-1.9 1.7l-1.9 -1.7zM305.7 219.6l1.9 1.7l-1.9 1.7l-1.9 -1.7zM300.5 214.5l1.9 1.7l-1.9 1.7l-1.9 -1.7zM295.0 216.0l1.9 1.7l-1.9 1.7l-1.9 -1.7zM306.3 218.2l1.9 1.7l-1.9 1.7l-1.9 -1.7zM297.8 215.1l1.9 1.7l-1.9 1.7l-1.9 -1.7zM292.0 215.3l1.9 1.7l-1.9 1.7l-1.9 -1.7zM292.3 216.4l1.9 1.7l-1.9 1.7l-1.9 -1.7zM297.4 215.5l1.9 1.7l-1.9 1.7l-1.9 -1.7zM290.7 215.8l1.9 1.7l-1.9 1.7l-1.9 -1.7zM295.8 218.3l1.9 1.7l-1.9 1.7l-1.9 -1.7zM297.4 218.0l1.9 1.7l-1.9 1.7l-1.9 -1.7zM304.3 216.8l1.9 1.7l-1.9 1.7l-1.9 -1.7zM299.9 216.5l1.9 1.7l-1.9 1.7l-1.9 -1.7zM294.3 218.3l1.9 1.7l-1.9 1.7l-1.9 -1.7zM286.5 214.0l1.9 1.7l-1.9 1.7l-1.9 -1.7zM295.5 216.5l1.9 1.7l-1.9 1.7l-1.9 -1.7zM295.4 214.7l1.9 1.7l-1.9 1.7l-1.9 -1.7zM288.7 218.6l1.9 1.7l-1.9 1.7l-1.9 -1.7zM302.3 216.8l1.9 1.7l-1.9 1.7l-1.9 -1.7zM298.1 214.6l1.9 1.7l-1.9 1.7l-1.9 -1.7zM303.9 214.4l1.9 1.7l-1.9 1.7l-1.9 -1.7zM284.2 217.3l1.9 1.7l-1.9 1.7l-1.9 -1.7zM302.5 214.7l1.9 1.7l-1.9 1.7l-1.9 -1.7zM286.1 218.7l1.9 1.7l-1.9 1.7l-1.9 -1.7zM289.0 219.0l1.9 1.7l-1.9 1.7l-1.9 -1.7zM291.5 214.8l1.9 1.7l-1.9 1.7l-1.9 -1.7zM295.3 216.9l1.9 1.7l-1.9 1.7l-1.9 -1.7zM285.2 212.0l1.9 1.7l-1.9 1.7l-1.9 -1.7zM306.3 210.8l1.9 1.7l-1.9 1.7l-1.9 -1.7zM293.6 211.7l1.9 1.7l-1.9 1.7l-1.9 -1.7zM301.7 210.6l1.9 1.7l-1.9 1.7l-1.9 -1.7zM286.7 210.9l1.9 1.7l-1.9 1.7l-1.9 -1.7zM291.7 211.5l1.9 1.7l-1.9 1.7l-1.9 -1.7zM288.7 212.1l1.9 1.7l-1.9 1.7l-1.9 -1.7zM291.1 212.1l1.9 1.7l-1.9 1.7l-1.9 -1.7zM283.6 212.8l1.9 1.7l-1.9 1.7l-1.9 -1.7zM296.4 213.4l1.9 1.7l-1.9 1.7l-1.9 -1.7zM287.3 210.7l1.9 1.7l-1.9 1.7l-1.9 -1.7zM289.6 212.3l1.9 1.7l-1.9 1.7l-1.9 -1.7zM288.8 210.3l1.9 1.7l-1.9 1.7l-1.9 -1.7zM285.3 211.1l1.9 1.7l-1.9 1.7l-1.9 -1.7zM303.1 212.8l1.9 1.7l-1.9 1.7l-1.9 -1.7zM293.0 210.4l1.9 1.7l-1.9 1.7l-1.9 -1.7zM297.5 212.1l1.9 1.7l-1.9 1.7l-1.9 -1.7zM284.2 211.8l1.9 1.7l-1.9 1.7l-1.9 -1.7zM291.7 210.7l1.9 1.7l-1.9 1.7l-1.9 -1.7zM290.0 212.0l1.9 1.7l-1.9 1.7l-1.9 -1.7zM298.2 210.4l1.9 1.7l-1.9 1.7l-1.9 -1.7zM291.4 212.1l1.9 1.7l-1.9 1.7l-1.9 -1.7zM296.6 209.9l1.9 1.7l-1.9 1.7l-1.9 -1.7zM287.6 209.7l1.9 1.7l-1.9 1.7l-1.9 -1.7zM299.7 212.1l1.9 1.7l-1.9 1.7l-1.9 -1.7zM298.6 212.3l1.9 1.7l-1.9 1.7l-1.9 -1.7zM284.8 210.6l1.9 1.7l-1.9 1.7l-1.9 -1.7zM292.0 211.5l1.9 1.7l-1.9 1.7l-1.9 -1.7zM294.7 210.0l1.9 1.7l-1.9 1.7l-1.9 -1.7zM300.8 213.5l1.9 1.7l-1.9 1.7l-1.9 -1.7zM297.0 211.7l1.9 1.7l-1.9 1.7l-1.9 -1.7zM293.9 210.2l1.9 1.7l-1.9 1.7l-1.9 -1.7zM292.8 204.1l1.9 1.7l-1.9 1.7l-1.9 -1.7zM303.9 204.7l1.9 1.7l-1.9 1.7l-1.9 -1.7zM294.6 203.5l1.9 1.7l-1.9 1.7l-1.9 -1.7zM302.3 200.2l1.9 1.7l-1.9 1.7l-1.9 -1.7zM300.4 205.2l1.9 1.7l-1.9 1.7l-1.9 -1.7zM284.1 199.9l1.9 1.7l-1.9 1.7l-1.9 -1.7zM296.0 197.1l1.9 1.7l-1.9 1.7l-1.9 -1.7zM301.1 208.5l1.9 1.7l-1.9 1.7l-1.9 -1.7zM288.3 208.9l1.9 1.7l-1.9 1.7l-1.9 -1.7zM302.2 208.7l1.9 1.7l-1.9 1.7l-1.9 -1.7zM285.2 197.7l1.9 1.7l-1.9 1.7l-1.9 -1.7zM296.3 209.1l1.9 1.7l-1.9 1.7l-1.9 -1.7zM299.0 199.0l1.9 1.7l-1.9 1.7l-1.9 -1.7zM294.4 209.1l1.9 1.7l-1.9 1.7l-1.9 -1.7zM299.2 205.0l1.9 1.7l-1.9 1.7l-1.9 -1.7zM296.7 195.2l1.9 1.7l-1.9 1.7l-1.9 -1.7zM303.4 208.3l1.9 1.7l-1.9 1.7l-1.9 -1.7zM291.0 203.4l1.9 1.7l-1.9 1.7l-1.9 -1.7zM283.3 206.9l1.9 1.7l-1.9 1.7l-1.9 -1.7zM289.3 206.4l1.9 1.7l-1.9 1.7l-1.9 -1.7zM289.1 202.7l1.9 1.7l-1.9 1.7l-1.9 -1.7zM295.1 205.0l1.9 1.7l-1.9 1.7l-1.9 -1.7zM284.4 206.5l1.9 1.7l-1.9 1.7l-1.9 -1.7zM303.3 195.8l1.9 1.7l-1.9 1.7l-1.9 -1.7zM303.1 207.1l1.9 1.7l-1.9 1.7l-1.9 -1.7zM287.9 209.1l1.9 1.7l-1.9 1.7l-1.9 -1.7zM295.7 205.6l1.9 1.7l-1.9 1.7l-1.9 -1.7zM294.0 203.9l1.9 1.7l-1.9 1.7l-1.9 -1.7zM296.7 205.7l1.9 1.7l-1.9 1.7l-1.9 -1.7zM301.8 207.7l1.9 1.7l-1.9 1.7l-1.9 -1.7zM304.5 202.7l1.9 1.7l-1.9 1.7l-1.9 -1.7zM284.4 206.4l1.9 1.7l-1.9 1.7l-1.9 -1.7zM295.6 205.1l1.9 1.7l-1.9 1.7l-1.9 -1.7zM296.3 206.3l1.9 1.7l-1.9 1.7l-1.9 -1.7zM289.5 196.1l1.9 1.7l-1.9 1.7l-1.9 -1.7zM290.0 199.1l1.9 1.7l-1.9 1.7l-1.9 -1.7zM301.8 202.0l1.9 1.7l-1.9 1.7l-1.9 -1.7zM293.7 204.6l1.9 1.7l-1.9 1.7l-1.9 -1.7zM303.6 209.1l1.9 1.7l-1.9 1.7l-1.9 -1.7zM293.3 200.9l1.9 1.7l-1.9 1.7l-1.9 -1.7zM284.3 209.0l1.9 1.7l-1.9 1.7l-1.9 -1.7zM297.0 207.9l1.9 1.7l-1.9 1.7l-1.9 -1.7zM304.6 202.6l1.9 1.7l-1.9 1.7l-1.9 -1.7zM300.7 179.0l1.9 1.7l-1.9 1.7l-1.9 -1.7zM303.8 186.9l1.9 1.7l-1.9 1.7l-1.9 -1.7zM300.9 188.6l1.9 1.7l-1.9 1.7l-1.9 -1.7zM305.0 189.8l1.9 1.7l-1.9 1.7l-1.9 -1.7zM291.5 192.3l1.9 1.7l-1.9 1.7l-1.9 -1.7zM294.3 194.1l1.9 1.7l-1.9 1.7l-1.9 -1.7zM300.8 194.1l1.9 1.7l-1.9 1.7l-1.9 -1.7zM283.5 195.3l1.9 1.7l-1.9 1.7l-1.9 -1.7z"/>
<rect x="306.3" y="219.8" width="27.7" height="6.8" fill="#858585"/>
<path fill="#858585" d="M327.7 216.6l1.9 1.7l-1.9 1.7l-1.9 -1.7zM324.5 215.6l1.9 1.7l-1.9 1.7l-1.9 -1.7zM315.0 218.3l1.9 1.7l-1.9 1.7l-1.9 -1.7zM328.6 218.7l1.9 1.7l-1.9 1.7l-1.9 -1.7zM330.6 218.4l1.9 1.7l-1.9 1.7l-1.9 -1.7zM310.1 219.0l1.9 1.7l-1.9 1.7l-1.9 -1.7zM327.3 213.9l1.9 1.7l-1.9 1.7l-1.9 -1.7zM318.0 215.6l1.9 1.7l-1.9 1.7l-1.9 -1.7zM314.1 214.2l1.9 1.7l-1.9 1.7l-1.9 -1.7zM324.8 218.7l1.9 1.7l-1.9 1.7l-1.9 -1.7zM309.0 215.4l1.9 1.7l-1.9 1.7l-1.9 -1.7zM308.6 214.6l1.9 1.7l-1.9 1.7l-1.9 -1.7zM315.0 218.2l1.9 1.7l-1.9 1.7l-1.9 -1.7zM322.2 217.7l1.9 1.7l-1.9 1.7l-1.9 -1.7zM321.7 218.7l1.9 1.7l-1.9 1.7l-1.9 -1.7zM330.5 217.7l1.9 1.7l-1.9 1.7l-1.9 -1.7zM328.7 218.7l1.9 1.7l-1.9 1.7l-1.9 -1.7zM327.7 213.7l1.9 1.7l-1.9 1.7l-1.9 -1.7zM317.4 219.4l1.9 1.7l-1.9 1.7l-1.9 -1.7zM317.1 215.8l1.9 1.7l-1.9 1.7l-1.9 -1.7zM313.2 216.3l1.9 1.7l-1.9 1.7l-1.9 -1.7zM309.9 216.8l1.9 1.7l-1.9 1.7l-1.9 -1.7zM325.9 217.0l1.9 1.7l-1.9 1.7l-1.9 -1.7zM324.6 218.9l1.9 1.7l-1.9 1.7l-1.9 -1.7zM328.4 218.9l1.9 1.7l-1.9 1.7l-1.9 -1.7zM330.8 213.6l1.9 1.7l-1.9 1.7l-1.9 -1.7zM331.2 216.4l1.9 1.7l-1.9 1.7l-1.9 -1.7zM314.9 217.5l1.9 1.7l-1.9 1.7l-1.9 -1.7zM326.4 216.6l1.9 1.7l-1.9 1.7l-1.9 -1.7zM330.9 219.0l1.9 1.7l-1.9 1.7l-1.9 -1.7zM319.8 214.4l1.9 1.7l-1.9 1.7l-1.9 -1.7zM322.6 216.4l1.9 1.7l-1.9 1.7l-1.9 -1.7zM309.8 218.8l1.9 1.7l-1.9 1.7l-1.9 -1.7zM314.4 214.2l1.9 1.7l-1.9 1.7l-1.9 -1.7zM328.8 218.2l1.9 1.7l-1.9 1.7l-1.9 -1.7zM330.8 219.4l1.9 1.7l-1.9 1.7l-1.9 -1.7zM322.6 213.8l1.9 1.7l-1.9 1.7l-1.9 -1.7zM316.2 213.9l1.9 1.7l-1.9 1.7l-1.9 -1.7zM324.1 219.3l1.9 1.7l-1.9 1.7l-1.9 -1.7zM316.0 216.9l1.9 1.7l-1.9 1.7l-1.9 -1.7zM313.8 215.1l1.9 1.7l-1.9 1.7l-1.9 -1.7zM312.1 214.9l1.9 1.7l-1.9 1.7l-1.9 -1.7zM315.1 219.2l1.9 1.7l-1.9 1.7l-1.9 -1.7zM321.6 219.0l1.9 1.7l-1.9 1.7l-1.9 -1.7zM321.4 214.9l1.9 1.7l-1.9 1.7l-1.9 -1.7zM322.5 216.8l1.9 1.7l-1.9 1.7l-1.9 -1.7zM308.4 216.5l1.9 1.7l-1.9 1.7l-1.9 -1.7zM310.0 215.7l1.9 1.7l-1.9 1.7l-1.9 -1.7zM310.9 216.1l1.9 1.7l-1.9 1.7l-1.9 -1.7zM316.5 217.4l1.9 1.7l-1.9 1.7l-1.9 -1.7zM324.2 218.6l1.9 1.7l-1.9 1.7l-1.9 -1.7zM311.9 214.0l1.9 1.7l-1.9 1.7l-1.9 -1.7zM315.9 214.5l1.9 1.7l-1.9 1.7l-1.9 -1.7zM329.5 216.7l1.9 1.7l-1.9 1.7l-1.9 -1.7zM311.3 219.0l1.9 1.7l-1.9 1.7l-1.9 -1.7zM329.7 218.9l1.9 1.7l-1.9 1.7l-1.9 -1.7zM320.1 216.4l1.9 1.7l-1.9 1.7l-1.9 -1.7zM310.6 216.8l1.9 1.7l-1.9 1.7l-1.9 -1.7zM311.7 216.4l1.9 1.7l-1.9 1.7l-1.9 -1.7zM320.3 217.4l1.9 1.7l-1.9 1.7l-1.9 -1.7zM312.6 217.2l1.9 1.7l-1.9 1.7l-1.9 -1.7zM312.7 218.8l1.9 1.7l-1.9 1.7l-1.9 -1.7zM313.6 214.4l1.9 1.7l-1.9 1.7l-1.9 -1.7zM320.2 214.3l1.9 1.7l-1.9 1.7l-1.9 -1.7zM308.0 213.9l1.9 1.7l-1.9 1.7l-1.9 -1.7zM319.9 214.9l1.9 1.7l-1.9 1.7l-1.9 -1.7zM321.9 215.5l1.9 1.7l-1.9 1.7l-1.9 -1.7zM313.4 215.1l1.9 1.7l-1.9 1.7l-1.9 -1.7zM311.5 218.0l1.9 1.7l-1.9 1.7l-1.9 -1.7zM308.4 217.2l1.9 1.7l-1.9 1.7l-1.9 -1.7zM320.6 217.8l1.9 1.7l-1.9 1.7l-1.9 -1.7zM330.0 219.1l1.9 1.7l-1.9 1.7l-1.9 -1.7zM322.1 218.2l1.9 1.7l-1.9 1.7l-1.9 -1.7zM322.5 214.9l1.9 1.7l-1.9 1.7l-1.9 -1.7zM325.4 219.2l1.9 1.7l-1.9 1.7l-1.9 -1.7zM313.8 216.0l1.9 1.7l-1.9 1.7l-1.9 -1.7zM332.3 219.4l1.9 1.7l-1.9 1.7l-1.9 -1.7zM323.1 215.4l1.9 1.7l-1.9 1.7l-1.9 -1.7zM328.0 217.5l1.9 1.7l-1.9 1.7l-1.9 -1.7zM327.9 216.8l1.9 1.7l-1.9 1.7l-1.9 -1.7zM330.7 213.6l1.9 1.7l-1.9 1.7l-1.9 -1.7zM331.2 212.0l1.9 1.7l-1.9 1.7l-1.9 -1.7zM317.8 213.2l1.9 1.7l-1.9 1.7l-1.9 -1.7zM313.7 210.7l1.9 1.7l-1.9 1.7l-1.9 -1.7zM324.6 213.0l1.9 1.7l-1.9 1.7l-1.9 -1.7zM316.2 213.0l1.9 1.7l-1.9 1.7l-1.9 -1.7zM312.6 212.7l1.9 1.7l-1.9 1.7l-1.9 -1.7zM315.9 209.7l1.9 1.7l-1.9 1.7l-1.9 -1.7zM332.6 210.4l1.9 1.7l-1.9 1.7l-1.9 -1.7zM319.6 211.6l1.9 1.7l-1.9 1.7l-1.9 -1.7zM327.2 210.0l1.9 1.7l-1.9 1.7l-1.9 -1.7zM326.5 211.1l1.9 1.7l-1.9 1.7l-1.9 -1.7zM312.6 211.1l1.9 1.7l-1.9 1.7l-1.9 -1.7zM328.8 210.5l1.9 1.7l-1.9 1.7l-1.9 -1.7zM309.9 210.7l1.9 1.7l-1.9 1.7l-1.9 -1.7zM316.4 213.0l1.9 1.7l-1.9 1.7l-1.9 -1.7zM331.8 210.9l1.9 1.7l-1.9 1.7l-1.9 -1.7zM326.3 213.1l1.9 1.7l-1.9 1.7l-1.9 -1.7zM328.4 209.9l1.9 1.7l-1.9 1.7l-1.9 -1.7zM330.3 210.6l1.9 1.7l-1.9 1.7l-1.9 -1.7zM328.5 210.4l1.9 1.7l-1.9 1.7l-1.9 -1.7zM322.4 211.9l1.9 1.7l-1.9 1.7l-1.9 -1.7zM328.3 210.5l1.9 1.7l-1.9 1.7l-1.9 -1.7zM329.5 212.4l1.9 1.7l-1.9 1.7l-1.9 -1.7zM331.7 211.5l1.9 1.7l-1.9 1.7l-1.9 -1.7zM331.3 213.1l1.9 1.7l-1.9 1.7l-1.9 -1.7zM331.9 210.5l1.9 1.7l-1.9 1.7l-1.9 -1.7zM313.9 210.2l1.9 1.7l-1.9 1.7l-1.9 -1.7zM313.4 212.8l1.9 1.7l-1.9 1.7l-1.9 -1.7zM319.1 212.7l1.9 1.7l-1.9 1.7l-1.9 -1.7zM320.0 210.0l1.9 1.7l-1.9 1.7l-1.9 -1.7zM324.8 210.8l1.9 1.7l-1.9 1.7l-1.9 -1.7zM317.4 196.6l1.9 1.7l-1.9 1.7l-1.9 -1.7zM327.5 199.8l1.9 1.7l-1.9 1.7l-1.9 -1.7zM331.2 194.7l1.9 1.7l-1.9 1.7l-1.9 -1.7zM317.8 208.8l1.9 1.7l-1.9 1.7l-1.9 -1.7zM324.0 194.2l1.9 1.7l-1.9 1.7l-1.9 -1.7zM316.1 201.9l1.9 1.7l-1.9 1.7l-1.9 -1.7zM328.6 196.2l1.9 1.7l-1.9 1.7l-1.9 -1.7zM307.7 203.9l1.9 1.7l-1.9 1.7l-1.9 -1.7zM308.0 208.6l1.9 1.7l-1.9 1.7l-1.9 -1.7zM328.0 205.0l1.9 1.7l-1.9 1.7l-1.9 -1.7zM322.8 204.4l1.9 1.7l-1.9 1.7l-1.9 -1.7zM316.0 207.6l1.9 1.7l-1.9 1.7l-1.9 -1.7zM316.5 193.8l1.9 1.7l-1.9 1.7l-1.9 -1.7zM323.1 206.7l1.9 1.7l-1.9 1.7l-1.9 -1.7zM309.8 206.9l1.9 1.7l-1.9 1.7l-1.9 -1.7zM325.2 204.6l1.9 1.7l-1.9 1.7l-1.9 -1.7zM324.2 195.6l1.9 1.7l-1.9 1.7l-1.9 -1.7zM310.6 199.8l1.9 1.7l-1.9 1.7l-1.9 -1.7zM308.6 194.9l1.9 1.7l-1.9 1.7l-1.9 -1.7zM312.2 206.9l1.9 1.7l-1.9 1.7l-1.9 -1.7zM331.6 205.8l1.9 1.7l-1.9 1.7l-1.9 -1.7zM313.2 201.6l1.9 1.7l-1.9 1.7l-1.9 -1.7zM330.0 205.3l1.9 1.7l-1.9 1.7l-1.9 -1.7zM320.1 203.6l1.9 1.7l-1.9 1.7l-1.9 -1.7zM332.4 207.8l1.9 1.7l-1.9 1.7l-1.9 -1.7zM328.4 208.1l1.9 1.7l-1.9 1.7l-1.9 -1.7zM320.8 209.6l1.9 1.7l-1.9 1.7l-1.9 -1.7zM312.0 204.4l1.9 1.7l-1.9 1.7l-1.9 -1.7zM327.9 207.1l1.9 1.7l-1.9 1.7l-1.9 -1.7zM316.4 208.7l1.9 1.7l-1.9 1.7l-1.9 -1.7zM321.5 203.5l1.9 1.7l-1.9 1.7l-1.9 -1.7zM317.1 200.3l1.9 1.7l-1.9 1.7l-1.9 -1.7zM309.5 201.3l1.9 1.7l-1.9 1.7l-1.9 -1.7zM318.7 205.8l1.9 1.7l-1.9 1.7l-1.9 -1.7zM324.2 201.1l1.9 1.7l-1.9 1.7l-1.9 -1.7zM317.0 203.3l1.9 1.7l-1.9 1.7l-1.9 -1.7zM324.6 203.7l1.9 1.7l-1.9 1.7l-1.9 -1.7zM316.7 209.1l1.9 1.7l-1.9 1.7l-1.9 -1.7zM328.6 199.8l1.9 1.7l-1.9 1.7l-1.9 -1.7zM321.6 204.6l1.9 1.7l-1.9 1.7l-1.9 -1.7zM326.5 198.5l1.9 1.7l-1.9 1.7l-1.9 -1.7zM326.4 209.3l1.9 1.7l-1.9 1.7l-1.9 -1.7zM315.8 208.3l1.9 1.7l-1.9 1.7l-1.9 -1.7zM317.3 174.5l1.9 1.7l-1.9 1.7l-1.9 -1.7zM325.2 176.7l1.9 1.7l-1.9 1.7l-1.9 -1.7zM317.0 181.7l1.9 1.7l-1.9 1.7l-1.9 -1.7zM318.6 183.5l1.9 1.7l-1.9 1.7l-1.9 -1.7zM320.1 184.9l1.9 1.7l-1.9 1.7l-1.9 -1.7zM314.8 194.1l1.9 1.7l-1.9 1.7l-1.9 -1.7zM325.2 194.1l1.9 1.7l-1.9 1.7l-1.9 -1.7zM321.7 192.3l1.9 1.7l-1.9 1.7l-1.9 -1.7z"/>
<rect x="332.6" y="219.8" width="23.5" height="6.8" fill="#1c1c1c"/>
<path fill="#1c1c1c" d="M353.8 214.3l1.9 1.7l-1.9 1.7l-1.9 -1.7zM336.9 216.1l1.9 1.7l-1.9 1.7l-1.9 -1.7zM346.0 219.3l1.9 1.7l-1.9 1.7l-1.9 -1.7zM342.1 215.1l1.9 1.7l-1.9 1.7l-1.9 -1.7zM347.3 217.9l1.9 1.7l-1.9 1.7l-1.9 -1.7zM349.8 217.9l1.9 1.7l-1.9 1.7l-1.9 -1.7zM345.3 217.1l1.9 1.7l-1.9 1.7l-1.9 -1.7zM354.3 215.7l1.9 1.7l-1.9 1.7l-1.9 -1.7zM350.7 215.5l1.9 1.7l-1.9 1.7l-1.9 -1.7zM341.9 213.8l1.9 1.7l-1.9 1.7l-1.9 -1.7zM348.7 215.5l1.9 1.7l-1.9 1.7l-1.9 -1.7zM339.7 218.6l1.9 1.7l-1.9 1.7l-1.9 -1.7zM345.9 214.6l1.9 1.7l-1.9 1.7l-1.9 -1.7zM350.5 217.5l1.9 1.7l-1.9 1.7l-1.9 -1.7zM336.8 216.5l1.9 1.7l-1.9 1.7l-1.9 -1.7zM352.2 218.6l1.9 1.7l-1.9 1.7l-1.9 -1.7zM349.3 218.6l1.9 1.7l-1.9 1.7l-1.9 -1.7zM340.4 219.3l1.9 1.7l-1.9 1.7l-1.9 -1.7zM340.1 217.3l1.9 1.7l-1.9 1.7l-1.9 -1.7zM354.1 213.8l1.9 1.7l-1.9 1.7l-1.9 -1.7zM337.8 217.7l1.9 1.7l-1.9 1.7l-1.9 -1.7zM353.6 218.4l1.9 1.7l-1.9 1.7l-1.9 -1.7zM340.6 217.0l1.9 1.7l-1.9 1.7l-1.9 -1.7zM336.2 218.0l1.9 1.7l-1.9 1.7l-1.9 -1.7zM342.1 217.3l1.9 1.7l-1.9 1.7l-1.9 -1.7zM354.0 218.0l1.9 1.7l-1.9 1.7l-1.9 -1.7zM338.2 214.1l1.9 1.7l-1.9 1.7l-1.9 -1.7zM343.3 214.6l1.9 1.7l-1.9 1.7l-1.9 -1.7zM347.2 214.9l1.9 1.7l-1.9 1.7l-1.9 -1.7zM340.5 218.7l1.9 1.7l-1.9 1.7l-1.9 -1.7zM349.7 216.8l1.9 1.7l-1.9 1.7l-1.9 -1.7zM345.6 215.6l1.9 1.7l-1.9 1.7l-1.9 -1.7zM349.6 217.9l1.9 1.7l-1.9 1.7l-1.9 -1.7zM341.5 214.1l1.9 1.7l-1.9 1.7l-1.9 -1.7zM345.0 217.9l1.9 1.7l-1.9 1.7l-1.9 -1.7zM347.1 218.0l1.9 1.7l-1.9 1.7l-1.9 -1.7zM350.0 219.4l1.9 1.7l-1.9 1.7l-1.9 -1.7zM351.2 216.2l1.9 1.7l-1.9 1.7l-1.9 -1.7zM341.3 214.0l1.9 1.7l-1.9 1.7l-1.9 -1.7zM339.4 218.1l1.9 1.7l-1.9 1.7l-1.9 -1.7zM335.4 216.3l1.9 1.7l-1.9 1.7l-1.9 -1.7zM349.7 215.5l1.9 1.7l-1.9 1.7l-1.9 -1.7zM342.5 214.8l1.9 1.7l-1.9 1.7l-1.9 -1.7zM336.2 217.8l1.9 1.7l-1.9 1.7l-1.9 -1.7zM347.4 213.8l1.9 1.7l-1.9 1.7l-1.9 -1.7zM347.1 215.4l1.9 1.7l-1.9 1.7l-1.9 -1.7zM350.1 217.2l1.9 1.7l-1.9 1.7l-1.9 -1.7zM353.6 215.1l1.9 1.7l-1.9 1.7l-1.9 -1.7zM341.0 217.2l1.9 1.7l-1.9 1.7l-1.9 -1.7zM350.7 217.5l1.9 1.7l-1.9 1.7l-1.9 -1.7zM337.8 214.4l1.9 1.7l-1.9 1.7l-1.9 -1.7zM345.0 216.5l1.9 1.7l-1.9 1.7l-1.9 -1.7zM347.9 214.2l1.9 1.7l-1.9 1.7l-1.9 -1.7zM336.7 217.6l1.9 1.7l-1.9 1.7l-1.9 -1.7zM335.3 217.1l1.9 1.7l-1.9 1.7l-1.9 -1.7zM344.4 214.5l1.9 1.7l-1.9 1.7l-1.9 -1.7zM347.9 216.1l1.9 1.7l-1.9 1.7l-1.9 -1.7zM342.3 216.2l1.9 1.7l-1.9 1.7l-1.9 -1.7zM339.6 214.5l1.9 1.7l-1.9 1.7l-1.9 -1.7zM350.4 214.6l1.9 1.7l-1.9 1.7l-1.9 -1.7zM337.1 215.6l1.9 1.7l-1.9 1.7l-1.9 -1.7zM349.7 216.6l1.9 1.7l-1.9 1.7l-1.9 -1.7zM352.7 214.2l1.9 1.7l-1.9 1.7l-1.9 -1.7zM349.4 214.7l1.9 1.7l-1.9 1.7l-1.9 -1.7zM347.5 214.3l1.9 1.7l-1.9 1.7l-1.9 -1.7zM336.6 215.4l1.9 1.7l-1.9 1.7l-1.9 -1.7zM348.6 215.9l1.9 1.7l-1.9 1.7l-1.9 -1.7zM339.6 219.2l1.9 1.7l-1.9 1.7l-1.9 -1.7zM346.5 214.7l1.9 1.7l-1.9 1.7l-1.9 -1.7zM339.6 218.3l1.9 1.7l-1.9 1.7l-1.9 -1.7zM338.6 219.0l1.9 1.7l-1.9 1.7l-1.9 -1.7zM348.0 213.8l1.9 1.7l-1.9 1.7l-1.9 -1.7zM350.7 212.2l1.9 1.7l-1.9 1.7l-1.9 -1.7zM348.5 213.3l1.9 1.7l-1.9 1.7l-1.9 -1.7zM351.4 212.3l1.9 1.7l-1.9 1.7l-1.9 -1.7zM334.0 211.1l1.9 1.7l-1.9 1.7l-1.9 -1.7zM336.8 212.5l1.9 1.7l-1.9 1.7l-1.9 -1.7zM335.1 211.8l1.9 1.7l-1.9 1.7l-1.9 -1.7zM345.5 210.4l1.9 1.7l-1.9 1.7l-1.9 -1.7zM334.7 210.3l1.9 1.7l-1.9 1.7l-1.9 -1.7zM336.2 212.7l1.9 1.7l-1.9 1.7l-1.9 -1.7zM347.1 212.2l1.9 1.7l-1.9 1.7l-1.9 -1.7zM340.8 211.3l1.9 1.7l-1.9 1.7l-1.9 -1.7zM338.5 210.4l1.9 1.7l-1.9 1.7l-1.9 -1.7zM338.3 210.2l1.9 1.7l-1.9 1.7l-1.9 -1.7zM350.8 211.5l1.9 1.7l-1.9 1.7l-1.9 -1.7zM334.5 210.5l1.9 1.7l-1.9 1.7l-1.9 -1.7zM334.5 211.6l1.9 1.7l-1.9 1.7l-1.9 -1.7zM342.8 213.3l1.9 1.7l-1.9 1.7l-1.9 -1.7zM347.1 210.7l1.9 1.7l-1.9 1.7l-1.9 -1.7zM346.1 212.0l1.9 1.7l-1.9 1.7l-1.9 -1.7zM344.6 211.2l1.9 1.7l-1.9 1.7l-1.9 -1.7zM338.6 210.1l1.9 1.7l-1.9 1.7l-1.9 -1.7zM354.7 210.4l1.9 1.7l-1.9 1.7l-1.9 -1.7zM354.0 212.3l1.9 1.7l-1.9 1.7l-1.9 -1.7zM354.5 213.3l1.9 1.7l-1.9 1.7l-1.9 -1.7zM343.9 213.1l1.9 1.7l-1.9 1.7l-1.9 -1.7zM343.4 210.9l1.9 1.7l-1.9 1.7l-1.9 -1.7zM348.7 211.8l1.9 1.7l-1.9 1.7l-1.9 -1.7zM341.0 212.8l1.9 1.7l-1.9 1.7l-1.9 -1.7zM342.3 212.5l1.9 1.7l-1.9 1.7l-1.9 -1.7zM338.0 198.3l1.9 1.7l-1.9 1.7l-1.9 -1.7zM344.7 204.7l1.9 1.7l-1.9 1.7l-1.9 -1.7zM338.0 199.3l1.9 1.7l-1.9 1.7l-1.9 -1.7zM338.0 207.0l1.9 1.7l-1.9 1.7l-1.9 -1.7zM345.6 199.3l1.9 1.7l-1.9 1.7l-1.9 -1.7zM354.2 197.9l1.9 1.7l-1.9 1.7l-1.9 -1.7zM353.7 198.7l1.9 1.7l-1.9 1.7l-1.9 -1.7zM348.9 209.0l1.9 1.7l-1.9 1.7l-1.9 -1.7zM338.2 209.5l1.9 1.7l-1.9 1.7l-1.9 -1.7zM351.9 198.7l1.9 1.7l-1.9 1.7l-1.9 -1.7zM347.1 207.0l1.9 1.7l-1.9 1.7l-1.9 -1.7zM341.3 208.1l1.9 1.7l-1.9 1.7l-1.9 -1.7zM347.1 206.5l1.9 1.7l-1.9 1.7l-1.9 -1.7zM334.8 208.0l1.9 1.7l-1.9 1.7l-1.9 -1.7zM341.3 195.7l1.9 1.7l-1.9 1.7l-1.9 -1.7zM343.4 208.7l1.9 1.7l-1.9 1.7l-1.9 -1.7zM336.1 208.2l1.9 1.7l-1.9 1.7l-1.9 -1.7zM350.1 204.2l1.9 1.7l-1.9 1.7l-1.9 -1.7zM354.6 196.1l1.9 1.7l-1.9 1.7l-1.9 -1.7zM343.9 194.9l1.9 1.7l-1.9 1.7l-1.9 -1.7zM336.6 208.6l1.9 1.7l-1.9 1.7l-1.9 -1.7zM345.7 203.6l1.9 1.7l-1.9 1.7l-1.9 -1.7zM338.3 207.1l1.9 1.7l-1.9 1.7l-1.9 -1.7zM334.3 199.1l1.9 1.7l-1.9 1.7l-1.9 -1.7zM353.7 204.7l1.9 1.7l-1.9 1.7l-1.9 -1.7zM349.2 205.5l1.9 1.7l-1.9 1.7l-1.9 -1.7zM350.9 193.9l1.9 1.7l-1.9 1.7l-1.9 -1.7zM336.7 209.5l1.9 1.7l-1.9 1.7l-1.9 -1.7zM338.4 202.1l1.9 1.7l-1.9 1.7l-1.9 -1.7zM341.8 209.5l1.9 1.7l-1.9 1.7l-1.9 -1.7zM351.3 196.5l1.9 1.7l-1.9 1.7l-1.9 -1.7zM343.6 209.2l1.9 1.7l-1.9 1.7l-1.9 -1.7zM352.5 203.1l1.9 1.7l-1.9 1.7l-1.9 -1.7zM335.4 206.3l1.9 1.7l-1.9 1.7l-1.9 -1.7zM347.0 204.0l1.9 1.7l-1.9 1.7l-1.9 -1.7zM347.3 207.6l1.9 1.7l-1.9 1.7l-1.9 -1.7zM339.0 205.5l1.9 1.7l-1.9 1.7l-1.9 -1.7zM336.1 202.0l1.9 1.7l-1.9 1.7l-1.9 -1.7zM336.5 207.7l1.9 1.7l-1.9 1.7l-1.9 -1.7zM335.7 167.8l1.9 1.7l-1.9 1.7l-1.9 -1.7zM335.2 186.1l1.9 1.7l-1.9 1.7l-1.9 -1.7zM335.2 189.6l1.9 1.7l-1.9 1.7l-1.9 -1.7zM347.3 192.3l1.9 1.7l-1.9 1.7l-1.9 -1.7zM350.8 192.3l1.9 1.7l-1.9 1.7l-1.9 -1.7zM345.0 194.6l1.9 1.7l-1.9 1.7l-1.9 -1.7zM353.6 195.1l1.9 1.7l-1.9 1.7l-1.9 -1.7zM354.0 187.1l1.9 1.7l-1.9 1.7l-1.9 -1.7z"/>
<rect x="354.7" y="219.8" width="20.9" height="6.8" fill="#858585"/>
<path fill="#858585" d="M364.4 216.1l1.9 1.7l-1.9 1.7l-1.9 -1.7zM367.6 215.4l1.9 1.7l-1.9 1.7l-1.9 -1.7zM364.0 219.2l1.9 1.7l-1.9 1.7l-1.9 -1.7zM369.3 219.3l1.9 1.7l-1.9 1.7l-1.9 -1.7zM364.6 217.2l1.9 1.7l-1.9 1.7l-1.9 -1.7zM368.3 215.3l1.9 1.7l-1.9 1.7l-1.9 -1.7zM360.4 215.7l1.9 1.7l-1.9 1.7l-1.9 -1.7zM368.7 216.8l1.9 1.7l-1.9 1.7l-1.9 -1.7zM358.6 214.1l1.9 1.7l-1.9 1.7l-1.9 -1.7zM367.0 219.2l1.9 1.7l-1.9 1.7l-1.9 -1.7zM360.4 213.7l1.9 1.7l-1.9 1.7l-1.9 -1.7zM360.2 217.2l1.9 1.7l-1.9 1.7l-1.9 -1.7zM370.4 214.7l1.9 1.7l-1.9 1.7l-1.9 -1.7zM367.6 215.2l1.9 1.7l-1.9 1.7l-1.9 -1.7zM356.7 219.0l1.9 1.7l-1.9 1.7l-1.9 -1.7zM373.9 214.8l1.9 1.7l-1.9 1.7l-1.9 -1.7zM356.7 219.3l1.9 1.7l-1.9 1.7l-1.9 -1.7zM360.4 214.0l1.9 1.7l-1.9 1.7l-1.9 -1.7zM360.0 215.6l1.9 1.7l-1.9 1.7l-1.9 -1.7zM373.0 215.8l1.9 1.7l-1.9 1.7l-1.9 -1.7zM372.8 218.0l1.9 1.7l-1.9 1.7l-1.9 -1.7zM358.8 219.5l1.9 1.7l-1.9 1.7l-1.9 -1.7zM369.9 219.0l1.9 1.7l-1.9 1.7l-1.9 -1.7zM373.8 215.3l1.9 1.7l-1.9 1.7l-1.9 -1.7zM359.4 214.8l1.9 1.7l-1.9 1.7l-1.9 -1.7zM359.0 216.5l1.9 1.7l-1.9 1.7l-1.9 -1.7zM357.9 214.9l1.9 1.7l-1.9 1.7l-1.9 -1.7zM372.3 214.1l1.9 1.7l-1.9 1.7l-1.9 -1.7zM356.0 214.5l1.9 1.7l-1.9 1.7l-1.9 -1.7zM366.2 214.7l1.9 1.7l-1.9 1.7l-1.9 -1.7zM365.2 215.9l1.9 1.7l-1.9 1.7l-1.9 -1.7zM366.9 214.8l1.9 1.7l-1.9 1.7l-1.9 -1.7zM357.4 219.3l1.9 1.7l-1.9 1.7l-1.9 -1.7zM366.0 217.9l1.9 1.7l-1.9 1.7l-1.9 -1.7zM363.3 219.6l1.9 1.7l-1.9 1.7l-1.9 -1.7zM369.6 219.5l1.9 1.7l-1.9 1.7l-1.9 -1.7zM371.2 214.7l1.9 1.7l-1.9 1.7l-1.9 -1.7zM364.4 218.9l1.9 1.7l-1.9 1.7l-1.9 -1.7zM367.9 218.4l1.9 1.7l-1.9 1.7l-1.9 -1.7zM363.9 218.9l1.9 1.7l-1.9 1.7l-1.9 -1.7zM373.9 216.3l1.9 1.7l-1.9 1.7l-1.9 -1.7zM362.5 219.0l1.9 1.7l-1.9 1.7l-1.9 -1.7zM369.4 214.5l1.9 1.7l-1.9 1.7l-1.9 -1.7zM371.5 219.0l1.9 1.7l-1.9 1.7l-1.9 -1.7zM362.7 217.8l1.9 1.7l-1.9 1.7l-1.9 -1.7zM370.0 218.7l1.9 1.7l-1.9 1.7l-1.9 -1.7zM367.1 213.7l1.9 1.7l-1.9 1.7l-1.9 -1.7zM370.1 219.6l1.9 1.7l-1.9 1.7l-1.9 -1.7zM357.4 218.9l1.9 1.7l-1.9 1.7l-1.9 -1.7zM368.7 216.0l1.9 1.7l-1.9 1.7l-1.9 -1.7zM365.5 216.9l1.9 1.7l-1.9 1.7l-1.9 -1.7zM363.5 215.9l1.9 1.7l-1.9 1.7l-1.9 -1.7zM367.9 214.1l1.9 1.7l-1.9 1.7l-1.9 -1.7zM369.4 214.8l1.9 1.7l-1.9 1.7l-1.9 -1.7zM372.7 214.6l1.9 1.7l-1.9 1.7l-1.9 -1.7zM369.1 219.4l1.9 1.7l-1.9 1.7l-1.9 -1.7zM368.5 214.5l1.9 1.7l-1.9 1.7l-1.9 -1.7zM363.9 214.3l1.9 1.7l-1.9 1.7l-1.9 -1.7zM359.3 213.9l1.9 1.7l-1.9 1.7l-1.9 -1.7zM364.1 210.8l1.9 1.7l-1.9 1.7l-1.9 -1.7zM360.6 212.4l1.9 1.7l-1.9 1.7l-1.9 -1.7zM362.4 212.3l1.9 1.7l-1.9 1.7l-1.9 -1.7zM357.7 211.8l1.9 1.7l-1.9 1.7l-1.9 -1.7zM374.0 211.0l1.9 1.7l-1.9 1.7l-1.9 -1.7zM373.1 210.6l1.9 1.7l-1.9 1.7l-1.9 -1.7zM371.3 209.6l1.9 1.7l-1.9 1.7l-1.9 -1.7zM369.8 212.5l1.9 1.7l-1.9 1.7l-1.9 -1.7zM360.6 212.0l1.9 1.7l-1.9 1.7l-1.9 -1.7zM356.4 212.7l1.9 1.7l-1.9 1.7l-1.9 -1.7zM372.2 209.9l1.9 1.7l-1.9 1.7l-1.9 -1.7zM362.0 210.5l1.9 1.7l-1.9 1.7l-1.9 -1.7zM370.2 210.0l1.9 1.7l-1.9 1.7l-1.9 -1.7zM370.5 211.5l1.9 1.7l-1.9 1.7l-1.9 -1.7zM357.9 210.3l1.9 1.7l-1.9 1.7l-1.9 -1.7zM361.7 211.1l1.9 1.7l-1.9 1.7l-1.9 -1.7zM362.7 211.5l1.9 1.7l-1.9 1.7l-1.9 -1.7zM373.7 213.0l1.9 1.7l-1.9 1.7l-1.9 -1.7zM365.7 211.0l1.9 1.7l-1.9 1.7l-1.9 -1.7zM365.9 209.8l1.9 1.7l-1.9 1.7l-1.9 -1.7zM363.5 209.9l1.9 1.7l-1.9 1.7l-1.9 -1.7zM368.6 209.7l1.9 1.7l-1.9 1.7l-1.9 -1.7zM357.6 212.8l1.9 1.7l-1.9 1.7l-1.9 -1.7zM361.3 209.5l1.9 1.7l-1.9 1.7l-1.9 -1.7zM360.8 198.9l1.9 1.7l-1.9 1.7l-1.9 -1.7zM374.1 208.0l1.9 1.7l-1.9 1.7l-1.9 -1.7zM364.0 199.7l1.9 1.7l-1.9 1.7l-1.9 -1.7zM368.6 198.0l1.9 1.7l-1.9 1.7l-1.9 -1.7zM369.8 207.2l1.9 1.7l-1.9 1.7l-1.9 -1.7zM360.7 209.4l1.9 1.7l-1.9 1.7l-1.9 -1.7zM368.6 207.6l1.9 1.7l-1.9 1.7l-1.9 -1.7zM360.7 200.8l1.9 1.7l-1.9 1.7l-1.9 -1.7zM366.8 200.5l1.9 1.7l-1.9 1.7l-1.9 -1.7zM366.9 199.5l1.9 1.7l-1.9 1.7l-1.9 -1.7zM361.6 209.0l1.9 1.7l-1.9 1.7l-1.9 -1.7zM357.2 209.5l1.9 1.7l-1.9 1.7l-1.9 -1.7zM362.6 208.3l1.9 1.7l-1.9 1.7l-1.9 -1.7zM358.1 203.8l1.9 1.7l-1.9 1.7l-1.9 -1.7zM373.7 199.7l1.9 1.7l-1.9 1.7l-1.9 -1.7zM361.0 197.1l1.9 1.7l-1.9 1.7l-1.9 -1.7zM359.3 208.7l1.9 1.7l-1.9 1.7l-1.9 -1.7zM361.5 205.1l1.9 1.7l-1.9 1.7l-1.9 -1.7zM368.6 204.6l1.9 1.7l-1.9 1.7l-1.9 -1.7zM369.3 208.8l1.9 1.7l-1.9 1.7l-1.9 -1.7zM373.1 206.0l1.9 1.7l-1.9 1.7l-1.9 -1.7zM371.2 209.3l1.9 1.7l-1.9 1.7l-1.9 -1.7zM371.2 207.4l1.9 1.7l-1.9 1.7l-1.9 -1.7zM371.6 195.8l1.9 1.7l-1.9 1.7l-1.9 -1.7zM368.3 206.8l1.9 1.7l-1.9 1.7l-1.9 -1.7zM356.2 207.8l1.9 1.7l-1.9 1.7l-1.9 -1.7zM372.6 208.1l1.9 1.7l-1.9 1.7l-1.9 -1.7zM368.1 202.1l1.9 1.7l-1.9 1.7l-1.9 -1.7zM368.1 207.9l1.9 1.7l-1.9 1.7l-1.9 -1.7zM358.6 208.7l1.9 1.7l-1.9 1.7l-1.9 -1.7zM374.0 205.5l1.9 1.7l-1.9 1.7l-1.9 -1.7zM358.6 163.4l1.9 1.7l-1.9 1.7l-1.9 -1.7zM358.6 166.9l1.9 1.7l-1.9 1.7l-1.9 -1.7zM364.4 183.6l1.9 1.7l-1.9 1.7l-1.9 -1.7zM365.6 184.8l1.9 1.7l-1.9 1.7l-1.9 -1.7zM365.1 192.3l1.9 1.7l-1.9 1.7l-1.9 -1.7zM369.1 190.6l1.9 1.7l-1.9 1.7l-1.9 -1.7zM372.6 190.6l1.9 1.7l-1.9 1.7l-1.9 -1.7z"/>
<rect x="374.2" y="219.8" width="21.2" height="6.8" fill="#1c1c1c"/>
<path fill="#1c1c1c" d="M387.6 216.2l1.9 1.7l-1.9 1.7l-1.9 -1.7zM379.7 219.2l1.9 1.7l-1.9 1.7l-1.9 -1.7zM375.8 214.5l1.9 1.7l-1.9 1.7l-1.9 -1.7zM377.9 213.8l1.9 1.7l-1.9 1.7l-1.9 -1.7zM382.3 215.3l1.9 1.7l-1.9 1.7l-1.9 -1.7zM378.1 214.9l1.9 1.7l-1.9 1.7l-1.9 -1.7zM380.2 217.4l1.9 1.7l-1.9 1.7l-1.9 -1.7zM385.2 218.9l1.9 1.7l-1.9 1.7l-1.9 -1.7zM380.1 214.8l1.9 1.7l-1.9 1.7l-1.9 -1.7zM380.8 217.3l1.9 1.7l-1.9 1.7l-1.9 -1.7zM389.7 218.3l1.9 1.7l-1.9 1.7l-1.9 -1.7zM379.1 218.3l1.9 1.7l-1.9 1.7l-1.9 -1.7zM382.6 217.4l1.9 1.7l-1.9 1.7l-1.9 -1.7zM387.4 216.8l1.9 1.7l-1.9 1.7l-1.9 -1.7zM391.7 219.3l1.9 1.7l-1.9 1.7l-1.9 -1.7zM387.8 214.6l1.9 1.7l-1.9 1.7l-1.9 -1.7zM379.9 219.4l1.9 1.7l-1.9 1.7l-1.9 -1.7zM383.7 218.9l1.9 1.7l-1.9 1.7l-1.9 -1.7zM384.1 215.3l1.9 1.7l-1.9 1.7l-1.9 -1.7zM377.2 218.9l1.9 1.7l-1.9 1.7l-1.9 -1.7zM384.4 218.6l1.9 1.7l-1.9 1.7l-1.9 -1.7zM379.8 217.0l1.9 1.7l-1.9 1.7l-1.9 -1.7zM377.7 219.2l1.9 1.7l-1.9 1.7l-1.9 -1.7zM382.2 216.8l1.9 1.7l-1.9 1.7l-1.9 -1.7zM392.9 216.3l1.9 1.7l-1.9 1.7l-1.9 -1.7zM376.8 218.3l1.9 1.7l-1.9 1.7l-1.9 -1.7zM389.3 216.2l1.9 1.7l-1.9 1.7l-1.9 -1.7zM391.7 213.8l1.9 1.7l-1.9 1.7l-1.9 -1.7zM391.5 218.9l1.9 1.7l-1.9 1.7l-1.9 -1.7zM393.1 216.5l1.9 1.7l-1.9 1.7l-1.9 -1.7zM380.0 218.6l1.9 1.7l-1.9 1.7l-1.9 -1.7zM391.6 218.3l1.9 1.7l-1.9 1.7l-1.9 -1.7zM377.0 218.0l1.9 1.7l-1.9 1.7l-1.9 -1.7zM392.7 216.8l1.9 1.7l-1.9 1.7l-1.9 -1.7zM389.1 219.2l1.9 1.7l-1.9 1.7l-1.9 -1.7zM383.9 217.7l1.9 1.7l-1.9 1.7l-1.9 -1.7zM379.3 215.6l1.9 1.7l-1.9 1.7l-1.9 -1.7zM382.2 218.9l1.9 1.7l-1.9 1.7l-1.9 -1.7zM393.8 216.7l1.9 1.7l-1.9 1.7l-1.9 -1.7zM378.8 219.5l1.9 1.7l-1.9 1.7l-1.9 -1.7zM387.6 216.5l1.9 1.7l-1.9 1.7l-1.9 -1.7zM376.0 216.8l1.9 1.7l-1.9 1.7l-1.9 -1.7zM389.3 216.4l1.9 1.7l-1.9 1.7l-1.9 -1.7zM379.9 216.6l1.9 1.7l-1.9 1.7l-1.9 -1.7zM386.8 215.7l1.9 1.7l-1.9 1.7l-1.9 -1.7zM378.2 214.8l1.9 1.7l-1.9 1.7l-1.9 -1.7zM393.1 215.2l1.9 1.7l-1.9 1.7l-1.9 -1.7zM391.4 217.4l1.9 1.7l-1.9 1.7l-1.9 -1.7zM392.3 218.5l1.9 1.7l-1.9 1.7l-1.9 -1.7zM379.7 216.0l1.9 1.7l-1.9 1.7l-1.9 -1.7zM392.3 219.1l1.9 1.7l-1.9 1.7l-1.9 -1.7zM379.5 219.4l1.9 1.7l-1.9 1.7l-1.9 -1.7zM383.7 218.8l1.9 1.7l-1.9 1.7l-1.9 -1.7zM379.1 215.1l1.9 1.7l-1.9 1.7l-1.9 -1.7zM386.3 214.0l1.9 1.7l-1.9 1.7l-1.9 -1.7zM383.0 215.5l1.9 1.7l-1.9 1.7l-1.9 -1.7zM375.7 213.9l1.9 1.7l-1.9 1.7l-1.9 -1.7zM379.8 216.7l1.9 1.7l-1.9 1.7l-1.9 -1.7zM385.0 213.9l1.9 1.7l-1.9 1.7l-1.9 -1.7zM384.7 213.6l1.9 1.7l-1.9 1.7l-1.9 -1.7zM387.1 218.3l1.9 1.7l-1.9 1.7l-1.9 -1.7zM391.0 218.4l1.9 1.7l-1.9 1.7l-1.9 -1.7zM394.1 216.9l1.9 1.7l-1.9 1.7l-1.9 -1.7zM379.7 213.8l1.9 1.7l-1.9 1.7l-1.9 -1.7zM381.5 217.2l1.9 1.7l-1.9 1.7l-1.9 -1.7zM381.9 210.9l1.9 1.7l-1.9 1.7l-1.9 -1.7zM375.9 212.1l1.9 1.7l-1.9 1.7l-1.9 -1.7zM378.5 210.3l1.9 1.7l-1.9 1.7l-1.9 -1.7zM375.5 211.2l1.9 1.7l-1.9 1.7l-1.9 -1.7zM380.3 211.8l1.9 1.7l-1.9 1.7l-1.9 -1.7zM386.0 210.8l1.9 1.7l-1.9 1.7l-1.9 -1.7zM378.1 212.6l1.9 1.7l-1.9 1.7l-1.9 -1.7zM377.7 209.8l1.9 1.7l-1.9 1.7l-1.9 -1.7zM378.3 213.1l1.9 1.7l-1.9 1.7l-1.9 -1.7zM385.2 211.3l1.9 1.7l-1.9 1.7l-1.9 -1.7zM392.0 213.4l1.9 1.7l-1.9 1.7l-1.9 -1.7zM379.9 212.9l1.9 1.7l-1.9 1.7l-1.9 -1.7zM386.4 211.8l1.9 1.7l-1.9 1.7l-1.9 -1.7zM383.1 210.0l1.9 1.7l-1.9 1.7l-1.9 -1.7zM387.8 210.2l1.9 1.7l-1.9 1.7l-1.9 -1.7zM393.3 212.5l1.9 1.7l-1.9 1.7l-1.9 -1.7zM393.0 212.0l1.9 1.7l-1.9 1.7l-1.9 -1.7zM376.5 209.9l1.9 1.7l-1.9 1.7l-1.9 -1.7zM377.4 213.5l1.9 1.7l-1.9 1.7l-1.9 -1.7zM380.9 212.4l1.9 1.7l-1.9 1.7l-1.9 -1.7zM393.5 210.1l1.9 1.7l-1.9 1.7l-1.9 -1.7zM383.3 211.5l1.9 1.7l-1.9 1.7l-1.9 -1.7zM391.3 210.4l1.9 1.7l-1.9 1.7l-1.9 -1.7zM387.7 211.5l1.9 1.7l-1.9 1.7l-1.9 -1.7zM377.7 212.6l1.9 1.7l-1.9 1.7l-1.9 -1.7zM387.7 211.3l1.9 1.7l-1.9 1.7l-1.9 -1.7zM390.4 207.8l1.9 1.7l-1.9 1.7l-1.9 -1.7zM376.9 202.4l1.9 1.7l-1.9 1.7l-1.9 -1.7zM378.9 199.6l1.9 1.7l-1.9 1.7l-1.9 -1.7zM380.3 207.3l1.9 1.7l-1.9 1.7l-1.9 -1.7zM382.3 203.3l1.9 1.7l-1.9 1.7l-1.9 -1.7zM388.1 209.0l1.9 1.7l-1.9 1.7l-1.9 -1.7zM389.3 201.3l1.9 1.7l-1.9 1.7l-1.9 -1.7zM384.3 200.1l1.9 1.7l-1.9 1.7l-1.9 -1.7zM390.4 209.5l1.9 1.7l-1.9 1.7l-1.9 -1.7zM384.3 200.0l1.9 1.7l-1.9 1.7l-1.9 -1.7zM388.7 200.7l1.9 1.7l-1.9 1.7l-1.9 -1.7zM378.9 196.5l1.9 1.7l-1.9 1.7l-1.9 -1.7zM379.8 204.8l1.9 1.7l-1.9 1.7l-1.9 -1.7zM393.3 207.6l1.9 1.7l-1.9 1.7l-1.9 -1.7zM383.1 207.4l1.9 1.7l-1.9 1.7l-1.9 -1.7zM389.2 205.8l1.9 1.7l-1.9 1.7l-1.9 -1.7zM387.8 197.2l1.9 1.7l-1.9 1.7l-1.9 -1.7zM377.9 207.5l1.9 1.7l-1.9 1.7l-1.9 -1.7zM379.5 207.0l1.9 1.7l-1.9 1.7l-1.9 -1.7zM376.2 208.4l1.9 1.7l-1.9 1.7l-1.9 -1.7zM383.1 205.0l1.9 1.7l-1.9 1.7l-1.9 -1.7zM376.9 202.2l1.9 1.7l-1.9 1.7l-1.9 -1.7zM393.0 202.3l1.9 1.7l-1.9 1.7l-1.9 -1.7zM382.1 199.2l1.9 1.7l-1.9 1.7l-1.9 -1.7zM383.6 208.0l1.9 1.7l-1.9 1.7l-1.9 -1.7zM384.5 209.4l1.9 1.7l-1.9 1.7l-1.9 -1.7zM388.1 208.1l1.9 1.7l-1.9 1.7l-1.9 -1.7zM382.4 197.2l1.9 1.7l-1.9 1.7l-1.9 -1.7zM391.0 200.9l1.9 1.7l-1.9 1.7l-1.9 -1.7zM387.3 199.2l1.9 1.7l-1.9 1.7l-1.9 -1.7zM393.5 207.7l1.9 1.7l-1.9 1.7l-1.9 -1.7zM389.8 206.6l1.9 1.7l-1.9 1.7l-1.9 -1.7zM380.3 194.9l1.9 1.7l-1.9 1.7l-1.9 -1.7zM386.7 202.0l1.9 1.7l-1.9 1.7l-1.9 -1.7zM379.2 209.5l1.9 1.7l-1.9 1.7l-1.9 -1.7zM381.9 193.6l1.9 1.7l-1.9 1.7l-1.9 -1.7zM393.5 193.6l1.9 1.7l-1.9 1.7l-1.9 -1.7zM388.4 195.5l1.9 1.7l-1.9 1.7l-1.9 -1.7z"/>
<rect x="394.0" y="219.8" width="15.3" height="6.8" fill="#858585"/>
<path fill="#858585" d="M402.1 215.2l1.9 1.7l-1.9 1.7l-1.9 -1.7zM398.8 219.2l1.9 1.7l-1.9 1.7l-1.9 -1.7zM395.4 218.6l1.9 1.7l-1.9 1.7l-1.9 -1.7zM404.1 219.6l1.9 1.7l-1.9 1.7l-1.9 -1.7zM398.2 218.0l1.9 1.7l-1.9 1.7l-1.9 -1.7zM404.3 213.7l1.9 1.7l-1.9 1.7l-1.9 -1.7zM395.5 218.9l1.9 1.7l-1.9 1.7l-1.9 -1.7zM407.2 213.8l1.9 1.7l-1.9 1.7l-1.9 -1.7zM397.2 217.6l1.9 1.7l-1.9 1.7l-1.9 -1.7zM401.9 217.7l1.9 1.7l-1.9 1.7l-1.9 -1.7zM400.6 216.7l1.9 1.7l-1.9 1.7l-1.9 -1.7zM398.6 219.3l1.9 1.7l-1.9 1.7l-1.9 -1.7zM396.4 218.6l1.9 1.7l-1.9 1.7l-1.9 -1.7zM396.5 215.9l1.9 1.7l-1.9 1.7l-1.9 -1.7zM404.1 218.0l1.9 1.7l-1.9 1.7l-1.9 -1.7zM405.4 215.2l1.9 1.7l-1.9 1.7l-1.9 -1.7zM399.6 216.6l1.9 1.7l-1.9 1.7l-1.9 -1.7zM397.7 214.0l1.9 1.7l-1.9 1.7l-1.9 -1.7zM402.4 219.3l1.9 1.7l-1.9 1.7l-1.9 -1.7zM397.3 215.4l1.9 1.7l-1.9 1.7l-1.9 -1.7zM400.2 215.3l1.9 1.7l-1.9 1.7l-1.9 -1.7zM398.2 214.8l1.9 1.7l-1.9 1.7l-1.9 -1.7zM405.5 219.0l1.9 1.7l-1.9 1.7l-1.9 -1.7zM402.7 218.5l1.9 1.7l-1.9 1.7l-1.9 -1.7zM404.3 214.8l1.9 1.7l-1.9 1.7l-1.9 -1.7zM405.3 218.2l1.9 1.7l-1.9 1.7l-1.9 -1.7zM396.5 215.6l1.9 1.7l-1.9 1.7l-1.9 -1.7zM402.5 218.8l1.9 1.7l-1.9 1.7l-1.9 -1.7zM397.7 216.1l1.9 1.7l-1.9 1.7l-1.9 -1.7zM396.7 215.8l1.9 1.7l-1.9 1.7l-1.9 -1.7zM398.4 218.0l1.9 1.7l-1.9 1.7l-1.9 -1.7zM400.7 216.4l1.9 1.7l-1.9 1.7l-1.9 -1.7zM404.5 219.4l1.9 1.7l-1.9 1.7l-1.9 -1.7zM404.5 218.3l1.9 1.7l-1.9 1.7l-1.9 -1.7zM399.0 215.8l1.9 1.7l-1.9 1.7l-1.9 -1.7zM404.1 215.9l1.9 1.7l-1.9 1.7l-1.9 -1.7zM406.8 218.4l1.9 1.7l-1.9 1.7l-1.9 -1.7zM399.3 215.6l1.9 1.7l-1.9 1.7l-1.9 -1.7zM398.6 218.7l1.9 1.7l-1.9 1.7l-1.9 -1.7zM398.2 215.0l1.9 1.7l-1.9 1.7l-1.9 -1.7zM405.8 215.3l1.9 1.7l-1.9 1.7l-1.9 -1.7zM407.5 214.8l1.9 1.7l-1.9 1.7l-1.9 -1.7zM399.2 212.3l1.9 1.7l-1.9 1.7l-1.9 -1.7zM404.5 213.4l1.9 1.7l-1.9 1.7l-1.9 -1.7zM403.0 213.2l1.9 1.7l-1.9 1.7l-1.9 -1.7zM395.9 211.5l1.9 1.7l-1.9 1.7l-1.9 -1.7zM397.2 209.9l1.9 1.7l-1.9 1.7l-1.9 -1.7zM406.4 211.8l1.9 1.7l-1.9 1.7l-1.9 -1.7zM397.8 213.1l1.9 1.7l-1.9 1.7l-1.9 -1.7zM401.7 211.5l1.9 1.7l-1.9 1.7l-1.9 -1.7zM399.9 210.7l1.9 1.7l-1.9 1.7l-1.9 -1.7zM402.0 210.5l1.9 1.7l-1.9 1.7l-1.9 -1.7zM396.6 213.3l1.9 1.7l-1.9 1.7l-1.9 -1.7zM400.2 211.7l1.9 1.7l-1.9 1.7l-1.9 -1.7zM398.5 210.9l1.9 1.7l-1.9 1.7l-1.9 -1.7zM398.1 212.3l1.9 1.7l-1.9 1.7l-1.9 -1.7zM401.4 210.8l1.9 1.7l-1.9 1.7l-1.9 -1.7zM405.1 212.1l1.9 1.7l-1.9 1.7l-1.9 -1.7zM401.0 209.9l1.9 1.7l-1.9 1.7l-1.9 -1.7zM407.2 201.4l1.9 1.7l-1.9 1.7l-1.9 -1.7zM396.6 204.4l1.9 1.7l-1.9 1.7l-1.9 -1.7zM403.4 206.8l1.9 1.7l-1.9 1.7l-1.9 -1.7zM395.8 208.4l1.9 1.7l-1.9 1.7l-1.9 -1.7zM401.2 201.4l1.9 1.7l-1.9 1.7l-1.9 -1.7zM399.1 209.0l1.9 1.7l-1.9 1.7l-1.9 -1.7zM404.8 197.1l1.9 1.7l-1.9 1.7l-1.9 -1.7zM400.9 208.8l1.9 1.7l-1.9 1.7l-1.9 -1.7zM400.3 208.8l1.9 1.7l-1.9 1.7l-1.9 -1.7zM407.5 209.2l1.9 1.7l-1.9 1.7l-1.9 -1.7zM399.0 197.2l1.9 1.7l-1.9 1.7l-1.9 -1.7zM397.0 208.6l1.9 1.7l-1.9 1.7l-1.9 -1.7zM396.2 208.1l1.9 1.7l-1.9 1.7l-1.9 -1.7zM402.1 194.4l1.9 1.7l-1.9 1.7l-1.9 -1.7zM397.4 208.0l1.9 1.7l-1.9 1.7l-1.9 -1.7zM405.0 204.9l1.9 1.7l-1.9 1.7l-1.9 -1.7zM399.6 208.5l1.9 1.7l-1.9 1.7l-1.9 -1.7zM398.4 208.5l1.9 1.7l-1.9 1.7l-1.9 -1.7zM398.6 198.1l1.9 1.7l-1.9 1.7l-1.9 -1.7zM406.6 204.2l1.9 1.7l-1.9 1.7l-1.9 -1.7zM407.4 201.7l1.9 1.7l-1.9 1.7l-1.9 -1.7zM399.0 204.3l1.9 1.7l-1.9 1.7l-1.9 -1.7zM404.4 198.3l1.9 1.7l-1.9 1.7l-1.9 -1.7zM399.3 183.0l1.9 1.7l-1.9 1.7l-1.9 -1.7zM400.0 191.3l1.9 1.7l-1.9 1.7l-1.9 -1.7zM407.4 184.7l1.9 1.7l-1.9 1.7l-1.9 -1.7z"/>
<rect x="407.9" y="219.8" width="17.0" height="6.8" fill="#1c1c1c"/>
<path fill="#1c1c1c" d="M411.1 218.4l1.9 1.7l-1.9 1.7l-1.9 -1.7zM423.0 219.0l1.9 1.7l-1.9 1.7l-1.9 -1.7zM420.9 217.6l1.9 1.7l-1.9 1.7l-1.9 -1.7zM412.8 218.1l1.9 1.7l-1.9 1.7l-1.9 -1.7zM416.0 213.7l1.9 1.7l-1.9 1.7l-1.9 -1.7zM411.3 214.5l1.9 1.7l-1.9 1.7l-1.9 -1.7zM413.8 218.6l1.9 1.7l-1.9 1.7l-1.9 -1.7zM419.9 217.6l1.9 1.7l-1.9 1.7l-1.9 -1.7zM411.9 217.1l1.9 1.7l-1.9 1.7l-1.9 -1.7zM421.0 214.4l1.9 1.7l-1.9 1.7l-1.9 -1.7zM417.5 219.5l1.9 1.7l-1.9 1.7l-1.9 -1.7zM420.2 216.0l1.9 1.7l-1.9 1.7l-1.9 -1.7zM422.2 213.9l1.9 1.7l-1.9 1.7l-1.9 -1.7zM413.9 214.5l1.9 1.7l-1.9 1.7l-1.9 -1.7zM421.0 218.0l1.9 1.7l-1.9 1.7l-1.9 -1.7zM414.5 217.4l1.9 1.7l-1.9 1.7l-1.9 -1.7zM414.3 217.3l1.9 1.7l-1.9 1.7l-1.9 -1.7zM410.8 218.2l1.9 1.7l-1.9 1.7l-1.9 -1.7zM422.3 217.1l1.9 1.7l-1.9 1.7l-1.9 -1.7zM418.4 214.3l1.9 1.7l-1.9 1.7l-1.9 -1.7zM420.1 218.1l1.9 1.7l-1.9 1.7l-1.9 -1.7zM422.4 214.8l1.9 1.7l-1.9 1.7l-1.9 -1.7zM423.5 215.2l1.9 1.7l-1.9 1.7l-1.9 -1.7zM420.1 214.7l1.9 1.7l-1.9 1.7l-1.9 -1.7zM412.8 215.7l1.9 1.7l-1.9 1.7l-1.9 -1.7zM414.7 214.6l1.9 1.7l-1.9 1.7l-1.9 -1.7zM411.1 216.4l1.9 1.7l-1.9 1.7l-1.9 -1.7zM414.0 214.7l1.9 1.7l-1.9 1.7l-1.9 -1.7zM414.2 214.5l1.9 1.7l-1.9 1.7l-1.9 -1.7zM421.4 214.3l1.9 1.7l-1.9 1.7l-1.9 -1.7zM411.2 214.0l1.9 1.7l-1.9 1.7l-1.9 -1.7zM419.9 215.5l1.9 1.7l-1.9 1.7l-1.9 -1.7zM418.6 219.3l1.9 1.7l-1.9 1.7l-1.9 -1.7zM421.7 216.3l1.9 1.7l-1.9 1.7l-1.9 -1.7zM415.8 217.6l1.9 1.7l-1.9 1.7l-1.9 -1.7zM420.5 214.9l1.9 1.7l-1.9 1.7l-1.9 -1.7zM421.7 218.3l1.9 1.7l-1.9 1.7l-1.9 -1.7zM414.1 218.1l1.9 1.7l-1.9 1.7l-1.9 -1.7zM410.6 217.6l1.9 1.7l-1.9 1.7l-1.9 -1.7zM409.6 214.8l1.9 1.7l-1.9 1.7l-1.9 -1.7zM412.5 219.2l1.9 1.7l-1.9 1.7l-1.9 -1.7zM410.2 215.2l1.9 1.7l-1.9 1.7l-1.9 -1.7zM412.1 216.8l1.9 1.7l-1.9 1.7l-1.9 -1.7zM415.0 214.8l1.9 1.7l-1.9 1.7l-1.9 -1.7zM422.9 217.7l1.9 1.7l-1.9 1.7l-1.9 -1.7zM418.3 214.2l1.9 1.7l-1.9 1.7l-1.9 -1.7zM416.0 214.2l1.9 1.7l-1.9 1.7l-1.9 -1.7zM419.8 217.7l1.9 1.7l-1.9 1.7l-1.9 -1.7zM421.8 216.2l1.9 1.7l-1.9 1.7l-1.9 -1.7zM410.7 216.1l1.9 1.7l-1.9 1.7l-1.9 -1.7zM421.1 216.5l1.9 1.7l-1.9 1.7l-1.9 -1.7zM416.2 211.9l1.9 1.7l-1.9 1.7l-1.9 -1.7zM421.9 210.9l1.9 1.7l-1.9 1.7l-1.9 -1.7zM412.2 212.2l1.9 1.7l-1.9 1.7l-1.9 -1.7zM414.4 209.8l1.9 1.7l-1.9 1.7l-1.9 -1.7zM419.2 213.1l1.9 1.7l-1.9 1.7l-1.9 -1.7zM422.4 213.5l1.9 1.7l-1.9 1.7l-1.9 -1.7zM417.7 211.9l1.9 1.7l-1.9 1.7l-1.9 -1.7zM419.5 211.9l1.9 1.7l-1.9 1.7l-1.9 -1.7zM410.5 211.5l1.9 1.7l-1.9 1.7l-1.9 -1.7zM421.0 210.4l1.9 1.7l-1.9 1.7l-1.9 -1.7zM414.3 212.7l1.9 1.7l-1.9 1.7l-1.9 -1.7zM419.9 210.4l1.9 1.7l-1.9 1.7l-1.9 -1.7zM412.4 210.1l1.9 1.7l-1.9 1.7l-1.9 -1.7zM423.5 211.9l1.9 1.7l-1.9 1.7l-1.9 -1.7zM414.7 210.8l1.9 1.7l-1.9 1.7l-1.9 -1.7zM422.6 212.8l1.9 1.7l-1.9 1.7l-1.9 -1.7zM413.5 212.3l1.9 1.7l-1.9 1.7l-1.9 -1.7zM419.7 212.9l1.9 1.7l-1.9 1.7l-1.9 -1.7zM417.1 211.6l1.9 1.7l-1.9 1.7l-1.9 -1.7zM418.8 213.0l1.9 1.7l-1.9 1.7l-1.9 -1.7zM423.0 202.6l1.9 1.7l-1.9 1.7l-1.9 -1.7zM420.7 207.9l1.9 1.7l-1.9 1.7l-1.9 -1.7zM422.3 202.8l1.9 1.7l-1.9 1.7l-1.9 -1.7zM420.1 205.8l1.9 1.7l-1.9 1.7l-1.9 -1.7zM422.5 207.6l1.9 1.7l-1.9 1.7l-1.9 -1.7zM409.5 203.7l1.9 1.7l-1.9 1.7l-1.9 -1.7zM422.1 203.5l1.9 1.7l-1.9 1.7l-1.9 -1.7zM422.6 202.6l1.9 1.7l-1.9 1.7l-1.9 -1.7zM411.3 201.1l1.9 1.7l-1.9 1.7l-1.9 -1.7zM420.8 204.9l1.9 1.7l-1.9 1.7l-1.9 -1.7zM417.9 207.1l1.9 1.7l-1.9 1.7l-1.9 -1.7zM413.2 205.0l1.9 1.7l-1.9 1.7l-1.9 -1.7zM416.6 204.2l1.9 1.7l-1.9 1.7l-1.9 -1.7zM410.5 209.6l1.9 1.7l-1.9 1.7l-1.9 -1.7zM414.1 198.9l1.9 1.7l-1.9 1.7l-1.9 -1.7zM420.0 207.3l1.9 1.7l-1.9 1.7l-1.9 -1.7zM412.9 203.4l1.9 1.7l-1.9 1.7l-1.9 -1.7zM411.7 201.7l1.9 1.7l-1.9 1.7l-1.9 -1.7zM422.2 207.7l1.9 1.7l-1.9 1.7l-1.9 -1.7zM417.6 198.8l1.9 1.7l-1.9 1.7l-1.9 -1.7zM420.0 199.0l1.9 1.7l-1.9 1.7l-1.9 -1.7zM419.4 206.9l1.9 1.7l-1.9 1.7l-1.9 -1.7zM421.3 209.1l1.9 1.7l-1.9 1.7l-1.9 -1.7zM422.8 204.6l1.9 1.7l-1.9 1.7l-1.9 -1.7zM410.4 209.0l1.9 1.7l-1.9 1.7l-1.9 -1.7zM420.7 200.0l1.9 1.7l-1.9 1.7l-1.9 -1.7zM411.2 204.4l1.9 1.7l-1.9 1.7l-1.9 -1.7zM410.5 171.9l1.9 1.7l-1.9 1.7l-1.9 -1.7zM410.5 182.6l1.9 1.7l-1.9 1.7l-1.9 -1.7zM420.9 177.5l1.9 1.7l-1.9 1.7l-1.9 -1.7zM420.9 184.0l1.9 1.7l-1.9 1.7l-1.9 -1.7zM420.9 188.3l1.9 1.7l-1.9 1.7l-1.9 -1.7zM420.9 194.1l1.9 1.7l-1.9 1.7l-1.9 -1.7z"/>
<rect x="423.5" y="219.8" width="15.8" height="6.8" fill="#858585"/>
<path fill="#858585" d="M433.2 213.6l1.9 1.7l-1.9 1.7l-1.9 -1.7zM429.2 215.0l1.9 1.7l-1.9 1.7l-1.9 -1.7zM428.0 218.4l1.9 1.7l-1.9 1.7l-1.9 -1.7zM426.9 217.1l1.9 1.7l-1.9 1.7l-1.9 -1.7zM433.0 217.8l1.9 1.7l-1.9 1.7l-1.9 -1.7zM426.9 218.3l1.9 1.7l-1.9 1.7l-1.9 -1.7zM425.9 218.4l1.9 1.7l-1.9 1.7l-1.9 -1.7zM429.0 216.6l1.9 1.7l-1.9 1.7l-1.9 -1.7zM427.2 216.7l1.9 1.7l-1.9 1.7l-1.9 -1.7zM430.6 213.8l1.9 1.7l-1.9 1.7l-1.9 -1.7zM431.2 213.9l1.9 1.7l-1.9 1.7l-1.9 -1.7zM431.0 218.4l1.9 1.7l-1.9 1.7l-1.9 -1.7zM432.6 218.7l1.9 1.7l-1.9 1.7l-1.9 -1.7zM427.0 219.2l1.9 1.7l-1.9 1.7l-1.9 -1.7zM434.1 213.8l1.9 1.7l-1.9 1.7l-1.9 -1.7zM430.1 217.5l1.9 1.7l-1.9 1.7l-1.9 -1.7zM430.4 217.5l1.9 1.7l-1.9 1.7l-1.9 -1.7zM433.9 217.2l1.9 1.7l-1.9 1.7l-1.9 -1.7zM426.8 214.4l1.9 1.7l-1.9 1.7l-1.9 -1.7zM432.4 219.6l1.9 1.7l-1.9 1.7l-1.9 -1.7zM436.0 215.2l1.9 1.7l-1.9 1.7l-1.9 -1.7zM429.5 215.8l1.9 1.7l-1.9 1.7l-1.9 -1.7zM436.9 217.2l1.9 1.7l-1.9 1.7l-1.9 -1.7zM430.5 217.8l1.9 1.7l-1.9 1.7l-1.9 -1.7zM432.1 215.6l1.9 1.7l-1.9 1.7l-1.9 -1.7zM434.5 213.9l1.9 1.7l-1.9 1.7l-1.9 -1.7zM426.7 217.4l1.9 1.7l-1.9 1.7l-1.9 -1.7zM436.0 214.9l1.9 1.7l-1.9 1.7l-1.9 -1.7zM432.6 215.5l1.9 1.7l-1.9 1.7l-1.9 -1.7zM429.3 213.9l1.9 1.7l-1.9 1.7l-1.9 -1.7zM432.1 217.2l1.9 1.7l-1.9 1.7l-1.9 -1.7zM427.2 218.9l1.9 1.7l-1.9 1.7l-1.9 -1.7zM436.6 214.8l1.9 1.7l-1.9 1.7l-1.9 -1.7zM425.2 217.7l1.9 1.7l-1.9 1.7l-1.9 -1.7zM431.1 216.6l1.9 1.7l-1.9 1.7l-1.9 -1.7zM429.6 214.2l1.9 1.7l-1.9 1.7l-1.9 -1.7zM429.4 216.4l1.9 1.7l-1.9 1.7l-1.9 -1.7zM437.1 215.8l1.9 1.7l-1.9 1.7l-1.9 -1.7zM431.1 217.6l1.9 1.7l-1.9 1.7l-1.9 -1.7zM429.9 215.9l1.9 1.7l-1.9 1.7l-1.9 -1.7zM435.2 218.0l1.9 1.7l-1.9 1.7l-1.9 -1.7zM429.7 217.3l1.9 1.7l-1.9 1.7l-1.9 -1.7zM429.6 214.1l1.9 1.7l-1.9 1.7l-1.9 -1.7zM431.9 217.9l1.9 1.7l-1.9 1.7l-1.9 -1.7zM429.2 210.3l1.9 1.7l-1.9 1.7l-1.9 -1.7zM426.9 210.8l1.9 1.7l-1.9 1.7l-1.9 -1.7zM425.1 212.8l1.9 1.7l-1.9 1.7l-1.9 -1.7zM425.6 210.4l1.9 1.7l-1.9 1.7l-1.9 -1.7zM426.7 212.7l1.9 1.7l-1.9 1.7l-1.9 -1.7zM425.6 212.5l1.9 1.7l-1.9 1.7l-1.9 -1.7zM434.5 210.7l1.9 1.7l-1.9 1.7l-1.9 -1.7zM436.8 209.8l1.9 1.7l-1.9 1.7l-1.9 -1.7zM432.1 209.9l1.9 1.7l-1.9 1.7l-1.9 -1.7zM426.0 209.9l1.9 1.7l-1.9 1.7l-1.9 -1.7zM430.5 212.8l1.9 1.7l-1.9 1.7l-1.9 -1.7zM434.7 210.2l1.9 1.7l-1.9 1.7l-1.9 -1.7zM429.9 213.2l1.9 1.7l-1.9 1.7l-1.9 -1.7zM436.3 210.6l1.9 1.7l-1.9 1.7l-1.9 -1.7zM432.7 209.7l1.9 1.7l-1.9 1.7l-1.9 -1.7zM425.3 213.4l1.9 1.7l-1.9 1.7l-1.9 -1.7zM426.4 213.5l1.9 1.7l-1.9 1.7l-1.9 -1.7zM434.1 201.1l1.9 1.7l-1.9 1.7l-1.9 -1.7zM426.3 208.1l1.9 1.7l-1.9 1.7l-1.9 -1.7zM427.2 201.6l1.9 1.7l-1.9 1.7l-1.9 -1.7zM433.7 205.8l1.9 1.7l-1.9 1.7l-1.9 -1.7zM437.7 204.8l1.9 1.7l-1.9 1.7l-1.9 -1.7zM430.0 207.1l1.9 1.7l-1.9 1.7l-1.9 -1.7zM427.9 199.2l1.9 1.7l-1.9 1.7l-1.9 -1.7zM427.1 207.9l1.9 1.7l-1.9 1.7l-1.9 -1.7zM426.8 205.9l1.9 1.7l-1.9 1.7l-1.9 -1.7zM434.5 209.1l1.9 1.7l-1.9 1.7l-1.9 -1.7zM431.8 199.9l1.9 1.7l-1.9 1.7l-1.9 -1.7zM425.2 204.7l1.9 1.7l-1.9 1.7l-1.9 -1.7zM435.2 202.3l1.9 1.7l-1.9 1.7l-1.9 -1.7zM430.8 201.8l1.9 1.7l-1.9 1.7l-1.9 -1.7zM429.2 205.3l1.9 1.7l-1.9 1.7l-1.9 -1.7zM437.3 202.6l1.9 1.7l-1.9 1.7l-1.9 -1.7zM426.7 208.0l1.9 1.7l-1.9 1.7l-1.9 -1.7zM429.9 199.6l1.9 1.7l-1.9 1.7l-1.9 -1.7zM424.9 195.8l1.9 1.7l-1.9 1.7l-1.9 -1.7zM435.2 203.5l1.9 1.7l-1.9 1.7l-1.9 -1.7zM424.9 196.0l1.9 1.7l-1.9 1.7l-1.9 -1.7zM430.3 200.2l1.9 1.7l-1.9 1.7l-1.9 -1.7zM432.3 198.5l1.9 1.7l-1.9 1.7l-1.9 -1.7zM425.3 168.9l1.9 1.7l-1.9 1.7l-1.9 -1.7zM434.5 185.2l1.9 1.7l-1.9 1.7l-1.9 -1.7zM437.2 194.1l1.9 1.7l-1.9 1.7l-1.9 -1.7z"/>
<rect x="437.9" y="219.8" width="15.2" height="6.8" fill="#1c1c1c"/>
<path fill="#1c1c1c" d="M444.4 213.8l1.9 1.7l-1.9 1.7l-1.9 -1.7zM451.2 214.0l1.9 1.7l-1.9 1.7l-1.9 -1.7zM447.0 217.7l1.9 1.7l-1.9 1.7l-1.9 -1.7zM443.9 218.0l1.9 1.7l-1.9 1.7l-1.9 -1.7zM450.6 214.8l1.9 1.7l-1.9 1.7l-1.9 -1.7zM449.1 214.7l1.9 1.7l-1.9 1.7l-1.9 -1.7zM451.7 215.5l1.9 1.7l-1.9 1.7l-1.9 -1.7zM443.2 215.1l1.9 1.7l-1.9 1.7l-1.9 -1.7zM442.5 215.9l1.9 1.7l-1.9 1.7l-1.9 -1.7zM441.2 214.5l1.9 1.7l-1.9 1.7l-1.9 -1.7zM445.4 217.9l1.9 1.7l-1.9 1.7l-1.9 -1.7zM450.8 219.1l1.9 1.7l-1.9 1.7l-1.9 -1.7zM450.9 215.1l1.9 1.7l-1.9 1.7l-1.9 -1.7zM441.1 215.0l1.9 1.7l-1.9 1.7l-1.9 -1.7zM446.4 214.2l1.9 1.7l-1.9 1.7l-1.9 -1.7zM446.6 217.0l1.9 1.7l-1.9 1.7l-1.9 -1.7zM451.0 219.1l1.9 1.7l-1.9 1.7l-1.9 -1.7zM449.0 219.0l1.9 1.7l-1.9 1.7l-1.9 -1.7zM442.7 218.9l1.9 1.7l-1.9 1.7l-1.9 -1.7zM450.2 216.9l1.9 1.7l-1.9 1.7l-1.9 -1.7zM448.4 218.1l1.9 1.7l-1.9 1.7l-1.9 -1.7zM448.4 215.7l1.9 1.7l-1.9 1.7l-1.9 -1.7zM440.4 216.6l1.9 1.7l-1.9 1.7l-1.9 -1.7zM448.3 218.3l1.9 1.7l-1.9 1.7l-1.9 -1.7zM447.4 217.9l1.9 1.7l-1.9 1.7l-1.9 -1.7zM443.9 214.1l1.9 1.7l-1.9 1.7l-1.9 -1.7zM451.1 213.6l1.9 1.7l-1.9 1.7l-1.9 -1.7zM444.6 216.2l1.9 1.7l-1.9 1.7l-1.9 -1.7zM449.4 215.0l1.9 1.7l-1.9 1.7l-1.9 -1.7zM444.9 214.4l1.9 1.7l-1.9 1.7l-1.9 -1.7zM444.3 213.9l1.9 1.7l-1.9 1.7l-1.9 -1.7zM445.2 218.9l1.9 1.7l-1.9 1.7l-1.9 -1.7zM448.6 218.7l1.9 1.7l-1.9 1.7l-1.9 -1.7zM447.8 219.3l1.9 1.7l-1.9 1.7l-1.9 -1.7zM451.7 216.4l1.9 1.7l-1.9 1.7l-1.9 -1.7zM448.5 218.8l1.9 1.7l-1.9 1.7l-1.9 -1.7zM447.2 217.3l1.9 1.7l-1.9 1.7l-1.9 -1.7zM442.3 214.7l1.9 1.7l-1.9 1.7l-1.9 -1.7zM439.6 216.7l1.9 1.7l-1.9 1.7l-1.9 -1.7zM440.3 214.5l1.9 1.7l-1.9 1.7l-1.9 -1.7zM450.5 219.4l1.9 1.7l-1.9 1.7l-1.9 -1.7zM445.1 216.8l1.9 1.7l-1.9 1.7l-1.9 -1.7zM448.3 215.2l1.9 1.7l-1.9 1.7l-1.9 -1.7zM443.5 214.0l1.9 1.7l-1.9 1.7l-1.9 -1.7zM441.5 218.8l1.9 1.7l-1.9 1.7l-1.9 -1.7zM449.5 213.1l1.9 1.7l-1.9 1.7l-1.9 -1.7zM441.5 211.6l1.9 1.7l-1.9 1.7l-1.9 -1.7zM443.4 212.9l1.9 1.7l-1.9 1.7l-1.9 -1.7zM450.9 211.7l1.9 1.7l-1.9 1.7l-1.9 -1.7zM449.1 212.6l1.9 1.7l-1.9 1.7l-1.9 -1.7zM450.7 212.7l1.9 1.7l-1.9 1.7l-1.9 -1.7zM450.6 211.1l1.9 1.7l-1.9 1.7l-1.9 -1.7zM451.4 210.5l1.9 1.7l-1.9 1.7l-1.9 -1.7zM447.1 211.5l1.9 1.7l-1.9 1.7l-1.9 -1.7zM450.0 211.8l1.9 1.7l-1.9 1.7l-1.9 -1.7zM440.4 209.9l1.9 1.7l-1.9 1.7l-1.9 -1.7zM449.4 210.9l1.9 1.7l-1.9 1.7l-1.9 -1.7zM448.6 212.7l1.9 1.7l-1.9 1.7l-1.9 -1.7zM445.0 210.3l1.9 1.7l-1.9 1.7l-1.9 -1.7zM451.3 209.9l1.9 1.7l-1.9 1.7l-1.9 -1.7zM441.2 210.9l1.9 1.7l-1.9 1.7l-1.9 -1.7zM446.2 212.0l1.9 1.7l-1.9 1.7l-1.9 -1.7zM441.3 213.1l1.9 1.7l-1.9 1.7l-1.9 -1.7zM445.1 203.8l1.9 1.7l-1.9 1.7l-1.9 -1.7zM442.6 205.7l1.9 1.7l-1.9 1.7l-1.9 -1.7zM446.2 197.4l1.9 1.7l-1.9 1.7l-1.9 -1.7zM446.6 208.1l1.9 1.7l-1.9 1.7l-1.9 -1.7zM450.4 205.7l1.9 1.7l-1.9 1.7l-1.9 -1.7zM451.3 208.3l1.9 1.7l-1.9 1.7l-1.9 -1.7zM446.5 205.5l1.9 1.7l-1.9 1.7l-1.9 -1.7zM446.1 206.4l1.9 1.7l-1.9 1.7l-1.9 -1.7zM439.6 207.7l1.9 1.7l-1.9 1.7l-1.9 -1.7zM440.8 206.8l1.9 1.7l-1.9 1.7l-1.9 -1.7zM447.1 202.6l1.9 1.7l-1.9 1.7l-1.9 -1.7zM451.1 199.8l1.9 1.7l-1.9 1.7l-1.9 -1.7zM443.8 201.1l1.9 1.7l-1.9 1.7l-1.9 -1.7zM446.0 200.2l1.9 1.7l-1.9 1.7l-1.9 -1.7zM443.7 201.7l1.9 1.7l-1.9 1.7l-1.9 -1.7zM443.0 207.2l1.9 1.7l-1.9 1.7l-1.9 -1.7zM451.5 209.0l1.9 1.7l-1.9 1.7l-1.9 -1.7zM439.3 202.8l1.9 1.7l-1.9 1.7l-1.9 -1.7zM441.8 203.6l1.9 1.7l-1.9 1.7l-1.9 -1.7zM440.7 194.2l1.9 1.7l-1.9 1.7l-1.9 -1.7zM447.6 199.8l1.9 1.7l-1.9 1.7l-1.9 -1.7zM450.9 200.0l1.9 1.7l-1.9 1.7l-1.9 -1.7zM448.2 209.6l1.9 1.7l-1.9 1.7l-1.9 -1.7zM439.8 204.9l1.9 1.7l-1.9 1.7l-1.9 -1.7zM444.0 186.0l1.9 1.7l-1.9 1.7l-1.9 -1.7zM442.3 196.3l1.9 1.7l-1.9 1.7l-1.9 -1.7zM446.5 197.6l1.9 1.7l-1.9 1.7l-1.9 -1.7z"/>
<rect x="451.7" y="219.8" width="13.2" height="6.8" fill="#858585"/>
<path fill="#858585" d="M463.3 217.7l1.9 1.7l-1.9 1.7l-1.9 -1.7zM459.0 219.5l1.9 1.7l-1.9 1.7l-1.9 -1.7zM457.4 214.2l1.9 1.7l-1.9 1.7l-1.9 -1.7zM459.2 214.7l1.9 1.7l-1.9 1.7l-1.9 -1.7zM453.1 218.4l1.9 1.7l-1.9 1.7l-1.9 -1.7zM454.9 214.6l1.9 1.7l-1.9 1.7l-1.9 -1.7zM454.1 214.0l1.9 1.7l-1.9 1.7l-1.9 -1.7zM455.8 214.3l1.9 1.7l-1.9 1.7l-1.9 -1.7zM458.5 217.7l1.9 1.7l-1.9 1.7l-1.9 -1.7zM463.2 217.2l1.9 1.7l-1.9 1.7l-1.9 -1.7zM460.4 219.2l1.9 1.7l-1.9 1.7l-1.9 -1.7zM461.8 213.7l1.9 1.7l-1.9 1.7l-1.9 -1.7zM454.2 215.1l1.9 1.7l-1.9 1.7l-1.9 -1.7zM455.9 218.7l1.9 1.7l-1.9 1.7l-1.9 -1.7zM456.9 215.6l1.9 1.7l-1.9 1.7l-1.9 -1.7zM463.1 213.6l1.9 1.7l-1.9 1.7l-1.9 -1.7zM463.5 215.9l1.9 1.7l-1.9 1.7l-1.9 -1.7zM459.9 218.6l1.9 1.7l-1.9 1.7l-1.9 -1.7zM460.7 216.3l1.9 1.7l-1.9 1.7l-1.9 -1.7zM456.8 214.2l1.9 1.7l-1.9 1.7l-1.9 -1.7zM455.7 218.8l1.9 1.7l-1.9 1.7l-1.9 -1.7zM454.7 218.7l1.9 1.7l-1.9 1.7l-1.9 -1.7zM459.2 214.8l1.9 1.7l-1.9 1.7l-1.9 -1.7zM454.7 216.6l1.9 1.7l-1.9 1.7l-1.9 -1.7zM459.1 216.2l1.9 1.7l-1.9 1.7l-1.9 -1.7zM457.4 216.3l1.9 1.7l-1.9 1.7l-1.9 -1.7zM453.2 219.3l1.9 1.7l-1.9 1.7l-1.9 -1.7zM457.5 218.2l1.9 1.7l-1.9 1.7l-1.9 -1.7zM461.0 218.1l1.9 1.7l-1.9 1.7l-1.9 -1.7zM461.7 218.2l1.9 1.7l-1.9 1.7l-1.9 -1.7zM454.0 216.7l1.9 1.7l-1.9 1.7l-1.9 -1.7zM457.1 217.6l1.9 1.7l-1.9 1.7l-1.9 -1.7zM461.1 218.3l1.9 1.7l-1.9 1.7l-1.9 -1.7zM460.1 214.6l1.9 1.7l-1.9 1.7l-1.9 -1.7zM457.8 216.6l1.9 1.7l-1.9 1.7l-1.9 -1.7zM462.8 216.0l1.9 1.7l-1.9 1.7l-1.9 -1.7zM454.9 213.3l1.9 1.7l-1.9 1.7l-1.9 -1.7zM453.9 212.3l1.9 1.7l-1.9 1.7l-1.9 -1.7zM453.9 211.0l1.9 1.7l-1.9 1.7l-1.9 -1.7zM457.5 212.4l1.9 1.7l-1.9 1.7l-1.9 -1.7zM458.4 209.9l1.9 1.7l-1.9 1.7l-1.9 -1.7zM455.6 213.0l1.9 1.7l-1.9 1.7l-1.9 -1.7zM456.2 212.3l1.9 1.7l-1.9 1.7l-1.9 -1.7zM462.6 210.8l1.9 1.7l-1.9 1.7l-1.9 -1.7zM457.5 212.9l1.9 1.7l-1.9 1.7l-1.9 -1.7zM453.5 213.1l1.9 1.7l-1.9 1.7l-1.9 -1.7zM462.0 211.0l1.9 1.7l-1.9 1.7l-1.9 -1.7zM454.7 211.1l1.9 1.7l-1.9 1.7l-1.9 -1.7zM453.6 211.6l1.9 1.7l-1.9 1.7l-1.9 -1.7zM456.6 213.2l1.9 1.7l-1.9 1.7l-1.9 -1.7zM460.9 198.9l1.9 1.7l-1.9 1.7l-1.9 -1.7zM458.4 208.0l1.9 1.7l-1.9 1.7l-1.9 -1.7zM460.1 204.8l1.9 1.7l-1.9 1.7l-1.9 -1.7zM460.0 208.8l1.9 1.7l-1.9 1.7l-1.9 -1.7zM462.6 209.6l1.9 1.7l-1.9 1.7l-1.9 -1.7zM455.4 205.3l1.9 1.7l-1.9 1.7l-1.9 -1.7zM455.1 208.8l1.9 1.7l-1.9 1.7l-1.9 -1.7zM460.3 206.1l1.9 1.7l-1.9 1.7l-1.9 -1.7zM455.8 200.2l1.9 1.7l-1.9 1.7l-1.9 -1.7zM455.4 205.2l1.9 1.7l-1.9 1.7l-1.9 -1.7zM460.3 204.8l1.9 1.7l-1.9 1.7l-1.9 -1.7zM454.7 209.0l1.9 1.7l-1.9 1.7l-1.9 -1.7zM458.8 208.7l1.9 1.7l-1.9 1.7l-1.9 -1.7zM458.3 203.9l1.9 1.7l-1.9 1.7l-1.9 -1.7zM455.1 200.2l1.9 1.7l-1.9 1.7l-1.9 -1.7zM458.3 195.5l1.9 1.7l-1.9 1.7l-1.9 -1.7zM456.1 195.3l1.9 1.7l-1.9 1.7l-1.9 -1.7zM458.0 208.3l1.9 1.7l-1.9 1.7l-1.9 -1.7zM458.1 208.4l1.9 1.7l-1.9 1.7l-1.9 -1.7zM455.4 182.8l1.9 1.7l-1.9 1.7l-1.9 -1.7zM455.4 187.1l1.9 1.7l-1.9 1.7l-1.9 -1.7zM455.7 190.5l1.9 1.7l-1.9 1.7l-1.9 -1.7zM460.0 188.3l1.9 1.7l-1.9 1.7l-1.9 -1.7zM461.6 189.9l1.9 1.7l-1.9 1.7l-1.9 -1.7zM463.3 193.0l1.9 1.7l-1.9 1.7l-1.9 -1.7zM462.8 195.3l1.9 1.7l-1.9 1.7l-1.9 -1.7z"/>
<rect x="463.5" y="219.8" width="12.4" height="6.8" fill="#1c1c1c"/>
<path fill="#1c1c1c" d="M471.5 215.4l1.9 1.7l-1.9 1.7l-1.9 -1.7zM470.5 213.7l1.9 1.7l-1.9 1.7l-1.9 -1.7zM465.2 215.3l1.9 1.7l-1.9 1.7l-1.9 -1.7zM472.6 218.9l1.9 1.7l-1.9 1.7l-1.9 -1.7zM468.0 219.3l1.9 1.7l-1.9 1.7l-1.9 -1.7zM470.5 215.3l1.9 1.7l-1.9 1.7l-1.9 -1.7zM468.2 215.4l1.9 1.7l-1.9 1.7l-1.9 -1.7zM468.4 215.3l1.9 1.7l-1.9 1.7l-1.9 -1.7zM467.5 213.7l1.9 1.7l-1.9 1.7l-1.9 -1.7zM469.1 219.6l1.9 1.7l-1.9 1.7l-1.9 -1.7zM465.7 215.2l1.9 1.7l-1.9 1.7l-1.9 -1.7zM473.3 215.8l1.9 1.7l-1.9 1.7l-1.9 -1.7zM466.3 214.4l1.9 1.7l-1.9 1.7l-1.9 -1.7zM471.8 218.9l1.9 1.7l-1.9 1.7l-1.9 -1.7zM468.5 215.6l1.9 1.7l-1.9 1.7l-1.9 -1.7zM464.8 219.3l1.9 1.7l-1.9 1.7l-1.9 -1.7zM468.3 214.4l1.9 1.7l-1.9 1.7l-1.9 -1.7zM474.6 217.7l1.9 1.7l-1.9 1.7l-1.9 -1.7zM473.7 214.9l1.9 1.7l-1.9 1.7l-1.9 -1.7zM473.3 216.1l1.9 1.7l-1.9 1.7l-1.9 -1.7zM474.3 215.7l1.9 1.7l-1.9 1.7l-1.9 -1.7zM474.1 216.2l1.9 1.7l-1.9 1.7l-1.9 -1.7zM466.7 216.5l1.9 1.7l-1.9 1.7l-1.9 -1.7zM469.5 217.6l1.9 1.7l-1.9 1.7l-1.9 -1.7zM468.5 216.5l1.9 1.7l-1.9 1.7l-1.9 -1.7zM470.6 218.3l1.9 1.7l-1.9 1.7l-1.9 -1.7zM467.5 216.6l1.9 1.7l-1.9 1.7l-1.9 -1.7zM469.7 217.1l1.9 1.7l-1.9 1.7l-1.9 -1.7zM471.3 218.5l1.9 1.7l-1.9 1.7l-1.9 -1.7zM470.0 217.9l1.9 1.7l-1.9 1.7l-1.9 -1.7zM472.3 215.4l1.9 1.7l-1.9 1.7l-1.9 -1.7zM472.5 216.5l1.9 1.7l-1.9 1.7l-1.9 -1.7zM467.2 214.0l1.9 1.7l-1.9 1.7l-1.9 -1.7zM469.8 217.3l1.9 1.7l-1.9 1.7l-1.9 -1.7zM467.6 217.2l1.9 1.7l-1.9 1.7l-1.9 -1.7zM471.7 214.7l1.9 1.7l-1.9 1.7l-1.9 -1.7zM469.5 210.7l1.9 1.7l-1.9 1.7l-1.9 -1.7zM466.9 211.8l1.9 1.7l-1.9 1.7l-1.9 -1.7zM468.3 212.4l1.9 1.7l-1.9 1.7l-1.9 -1.7zM468.3 210.6l1.9 1.7l-1.9 1.7l-1.9 -1.7zM472.0 212.8l1.9 1.7l-1.9 1.7l-1.9 -1.7zM467.1 210.5l1.9 1.7l-1.9 1.7l-1.9 -1.7zM471.2 210.9l1.9 1.7l-1.9 1.7l-1.9 -1.7zM471.0 210.8l1.9 1.7l-1.9 1.7l-1.9 -1.7zM467.5 213.4l1.9 1.7l-1.9 1.7l-1.9 -1.7zM468.3 213.5l1.9 1.7l-1.9 1.7l-1.9 -1.7zM474.2 211.5l1.9 1.7l-1.9 1.7l-1.9 -1.7zM471.4 209.7l1.9 1.7l-1.9 1.7l-1.9 -1.7zM472.7 212.7l1.9 1.7l-1.9 1.7l-1.9 -1.7zM468.1 213.2l1.9 1.7l-1.9 1.7l-1.9 -1.7zM472.6 198.2l1.9 1.7l-1.9 1.7l-1.9 -1.7zM469.6 205.7l1.9 1.7l-1.9 1.7l-1.9 -1.7zM467.4 203.9l1.9 1.7l-1.9 1.7l-1.9 -1.7zM471.8 204.7l1.9 1.7l-1.9 1.7l-1.9 -1.7zM468.9 206.4l1.9 1.7l-1.9 1.7l-1.9 -1.7zM474.3 207.9l1.9 1.7l-1.9 1.7l-1.9 -1.7zM466.3 206.8l1.9 1.7l-1.9 1.7l-1.9 -1.7zM473.8 206.2l1.9 1.7l-1.9 1.7l-1.9 -1.7zM473.1 204.9l1.9 1.7l-1.9 1.7l-1.9 -1.7zM466.7 197.0l1.9 1.7l-1.9 1.7l-1.9 -1.7zM468.5 208.5l1.9 1.7l-1.9 1.7l-1.9 -1.7zM473.6 204.7l1.9 1.7l-1.9 1.7l-1.9 -1.7zM468.7 201.9l1.9 1.7l-1.9 1.7l-1.9 -1.7zM467.3 209.4l1.9 1.7l-1.9 1.7l-1.9 -1.7zM468.6 205.5l1.9 1.7l-1.9 1.7l-1.9 -1.7zM464.9 205.6l1.9 1.7l-1.9 1.7l-1.9 -1.7zM472.3 206.2l1.9 1.7l-1.9 1.7l-1.9 -1.7zM471.5 201.3l1.9 1.7l-1.9 1.7l-1.9 -1.7zM466.6 209.4l1.9 1.7l-1.9 1.7l-1.9 -1.7zM469.3 175.5l1.9 1.7l-1.9 1.7l-1.9 -1.7zM466.7 179.0l1.9 1.7l-1.9 1.7l-1.9 -1.7zM469.3 184.1l1.9 1.7l-1.9 1.7l-1.9 -1.7zM465.1 184.8l1.9 1.7l-1.9 1.7l-1.9 -1.7zM469.8 196.3l1.9 1.7l-1.9 1.7l-1.9 -1.7z"/>
<rect x="474.5" y="219.8" width="14.0" height="6.8" fill="#858585"/>
<path fill="#858585" d="M483.5 215.9l1.9 1.7l-1.9 1.7l-1.9 -1.7zM479.1 218.4l1.9 1.7l-1.9 1.7l-1.9 -1.7zM485.6 214.1l1.9 1.7l-1.9 1.7l-1.9 -1.7zM478.5 216.1l1.9 1.7l-1.9 1.7l-1.9 -1.7zM482.4 217.7l1.9 1.7l-1.9 1.7l-1.9 -1.7zM476.2 217.6l1.9 1.7l-1.9 1.7l-1.9 -1.7zM483.1 216.0l1.9 1.7l-1.9 1.7l-1.9 -1.7zM481.6 218.9l1.9 1.7l-1.9 1.7l-1.9 -1.7zM478.2 217.7l1.9 1.7l-1.9 1.7l-1.9 -1.7zM480.5 217.4l1.9 1.7l-1.9 1.7l-1.9 -1.7zM486.1 218.9l1.9 1.7l-1.9 1.7l-1.9 -1.7zM487.0 218.2l1.9 1.7l-1.9 1.7l-1.9 -1.7zM485.6 218.1l1.9 1.7l-1.9 1.7l-1.9 -1.7zM482.5 217.3l1.9 1.7l-1.9 1.7l-1.9 -1.7zM476.2 214.8l1.9 1.7l-1.9 1.7l-1.9 -1.7zM485.0 218.0l1.9 1.7l-1.9 1.7l-1.9 -1.7zM484.6 216.7l1.9 1.7l-1.9 1.7l-1.9 -1.7zM487.1 219.3l1.9 1.7l-1.9 1.7l-1.9 -1.7zM480.1 218.2l1.9 1.7l-1.9 1.7l-1.9 -1.7zM482.9 214.9l1.9 1.7l-1.9 1.7l-1.9 -1.7zM485.4 216.3l1.9 1.7l-1.9 1.7l-1.9 -1.7zM480.2 214.8l1.9 1.7l-1.9 1.7l-1.9 -1.7zM477.0 218.0l1.9 1.7l-1.9 1.7l-1.9 -1.7zM484.4 217.0l1.9 1.7l-1.9 1.7l-1.9 -1.7zM487.1 219.1l1.9 1.7l-1.9 1.7l-1.9 -1.7zM481.1 218.3l1.9 1.7l-1.9 1.7l-1.9 -1.7zM475.8 219.0l1.9 1.7l-1.9 1.7l-1.9 -1.7zM476.8 217.4l1.9 1.7l-1.9 1.7l-1.9 -1.7zM480.7 216.6l1.9 1.7l-1.9 1.7l-1.9 -1.7zM479.1 215.4l1.9 1.7l-1.9 1.7l-1.9 -1.7zM481.7 213.7l1.9 1.7l-1.9 1.7l-1.9 -1.7zM477.7 216.5l1.9 1.7l-1.9 1.7l-1.9 -1.7zM481.4 217.4l1.9 1.7l-1.9 1.7l-1.9 -1.7zM485.6 218.3l1.9 1.7l-1.9 1.7l-1.9 -1.7zM485.8 217.5l1.9 1.7l-1.9 1.7l-1.9 -1.7zM479.6 215.9l1.9 1.7l-1.9 1.7l-1.9 -1.7zM482.2 217.9l1.9 1.7l-1.9 1.7l-1.9 -1.7zM476.8 213.9l1.9 1.7l-1.9 1.7l-1.9 -1.7zM480.0 213.1l1.9 1.7l-1.9 1.7l-1.9 -1.7zM483.3 211.5l1.9 1.7l-1.9 1.7l-1.9 -1.7zM479.5 212.3l1.9 1.7l-1.9 1.7l-1.9 -1.7zM485.4 212.2l1.9 1.7l-1.9 1.7l-1.9 -1.7zM480.6 209.8l1.9 1.7l-1.9 1.7l-1.9 -1.7zM479.9 212.0l1.9 1.7l-1.9 1.7l-1.9 -1.7zM477.6 211.0l1.9 1.7l-1.9 1.7l-1.9 -1.7zM483.4 211.8l1.9 1.7l-1.9 1.7l-1.9 -1.7zM480.4 212.7l1.9 1.7l-1.9 1.7l-1.9 -1.7zM484.8 211.8l1.9 1.7l-1.9 1.7l-1.9 -1.7zM485.3 212.1l1.9 1.7l-1.9 1.7l-1.9 -1.7zM484.2 213.5l1.9 1.7l-1.9 1.7l-1.9 -1.7zM478.3 209.8l1.9 1.7l-1.9 1.7l-1.9 -1.7zM483.6 210.9l1.9 1.7l-1.9 1.7l-1.9 -1.7zM481.5 211.7l1.9 1.7l-1.9 1.7l-1.9 -1.7zM478.1 208.0l1.9 1.7l-1.9 1.7l-1.9 -1.7zM483.2 199.5l1.9 1.7l-1.9 1.7l-1.9 -1.7zM478.7 200.8l1.9 1.7l-1.9 1.7l-1.9 -1.7zM477.4 201.5l1.9 1.7l-1.9 1.7l-1.9 -1.7zM477.8 203.5l1.9 1.7l-1.9 1.7l-1.9 -1.7zM479.4 202.8l1.9 1.7l-1.9 1.7l-1.9 -1.7zM477.3 204.0l1.9 1.7l-1.9 1.7l-1.9 -1.7zM482.8 208.4l1.9 1.7l-1.9 1.7l-1.9 -1.7zM479.3 200.0l1.9 1.7l-1.9 1.7l-1.9 -1.7zM482.0 201.4l1.9 1.7l-1.9 1.7l-1.9 -1.7zM484.7 202.4l1.9 1.7l-1.9 1.7l-1.9 -1.7zM478.3 204.6l1.9 1.7l-1.9 1.7l-1.9 -1.7zM485.3 202.5l1.9 1.7l-1.9 1.7l-1.9 -1.7zM484.4 205.8l1.9 1.7l-1.9 1.7l-1.9 -1.7zM480.9 194.9l1.9 1.7l-1.9 1.7l-1.9 -1.7zM483.2 208.6l1.9 1.7l-1.9 1.7l-1.9 -1.7zM482.8 209.3l1.9 1.7l-1.9 1.7l-1.9 -1.7zM486.4 198.5l1.9 1.7l-1.9 1.7l-1.9 -1.7zM478.9 193.7l1.9 1.7l-1.9 1.7l-1.9 -1.7zM477.8 194.6l1.9 1.7l-1.9 1.7l-1.9 -1.7zM475.6 191.8l1.9 1.7l-1.9 1.7l-1.9 -1.7zM475.6 194.1l1.9 1.7l-1.9 1.7l-1.9 -1.7zM482.6 191.3l1.9 1.7l-1.9 1.7l-1.9 -1.7zM486.0 180.6l1.9 1.7l-1.9 1.7l-1.9 -1.7zM488.6 181.6l1.9 1.7l-1.9 1.7l-1.9 -1.7z"/>
<rect x="487.1" y="219.8" width="9.2" height="6.8" fill="#1c1c1c"/>
<path fill="#1c1c1c" d="M491.8 219.5l1.9 1.7l-1.9 1.7l-1.9 -1.7zM494.3 217.0l1.9 1.7l-1.9 1.7l-1.9 -1.7zM493.9 215.5l1.9 1.7l-1.9 1.7l-1.9 -1.7zM491.9 214.4l1.9 1.7l-1.9 1.7l-1.9 -1.7zM489.7 214.2l1.9 1.7l-1.9 1.7l-1.9 -1.7zM490.6 219.4l1.9 1.7l-1.9 1.7l-1.9 -1.7zM490.6 219.2l1.9 1.7l-1.9 1.7l-1.9 -1.7zM488.9 215.9l1.9 1.7l-1.9 1.7l-1.9 -1.7zM489.2 218.6l1.9 1.7l-1.9 1.7l-1.9 -1.7zM490.3 217.9l1.9 1.7l-1.9 1.7l-1.9 -1.7zM494.5 214.2l1.9 1.7l-1.9 1.7l-1.9 -1.7zM494.1 213.7l1.9 1.7l-1.9 1.7l-1.9 -1.7zM491.3 214.8l1.9 1.7l-1.9 1.7l-1.9 -1.7zM490.3 214.0l1.9 1.7l-1.9 1.7l-1.9 -1.7zM493.8 215.2l1.9 1.7l-1.9 1.7l-1.9 -1.7zM489.9 219.1l1.9 1.7l-1.9 1.7l-1.9 -1.7zM494.5 216.3l1.9 1.7l-1.9 1.7l-1.9 -1.7zM492.4 214.4l1.9 1.7l-1.9 1.7l-1.9 -1.7zM489.3 215.4l1.9 1.7l-1.9 1.7l-1.9 -1.7zM491.5 214.9l1.9 1.7l-1.9 1.7l-1.9 -1.7zM491.4 218.4l1.9 1.7l-1.9 1.7l-1.9 -1.7zM494.7 217.9l1.9 1.7l-1.9 1.7l-1.9 -1.7zM493.3 214.6l1.9 1.7l-1.9 1.7l-1.9 -1.7zM490.0 215.4l1.9 1.7l-1.9 1.7l-1.9 -1.7zM491.0 218.3l1.9 1.7l-1.9 1.7l-1.9 -1.7zM489.8 209.8l1.9 1.7l-1.9 1.7l-1.9 -1.7zM490.8 211.6l1.9 1.7l-1.9 1.7l-1.9 -1.7zM491.7 213.5l1.9 1.7l-1.9 1.7l-1.9 -1.7zM493.4 210.6l1.9 1.7l-1.9 1.7l-1.9 -1.7zM494.2 212.2l1.9 1.7l-1.9 1.7l-1.9 -1.7zM489.8 212.2l1.9 1.7l-1.9 1.7l-1.9 -1.7zM493.2 211.0l1.9 1.7l-1.9 1.7l-1.9 -1.7zM491.1 211.5l1.9 1.7l-1.9 1.7l-1.9 -1.7zM489.4 209.9l1.9 1.7l-1.9 1.7l-1.9 -1.7zM491.5 211.6l1.9 1.7l-1.9 1.7l-1.9 -1.7zM493.6 207.7l1.9 1.7l-1.9 1.7l-1.9 -1.7zM493.2 205.9l1.9 1.7l-1.9 1.7l-1.9 -1.7zM493.8 208.8l1.9 1.7l-1.9 1.7l-1.9 -1.7zM490.2 201.0l1.9 1.7l-1.9 1.7l-1.9 -1.7zM491.6 205.6l1.9 1.7l-1.9 1.7l-1.9 -1.7zM492.2 207.5l1.9 1.7l-1.9 1.7l-1.9 -1.7zM491.3 209.6l1.9 1.7l-1.9 1.7l-1.9 -1.7zM493.7 207.1l1.9 1.7l-1.9 1.7l-1.9 -1.7zM493.9 202.8l1.9 1.7l-1.9 1.7l-1.9 -1.7zM492.4 201.2l1.9 1.7l-1.9 1.7l-1.9 -1.7zM489.2 196.8l1.9 1.7l-1.9 1.7l-1.9 -1.7zM490.3 196.5l1.9 1.7l-1.9 1.7l-1.9 -1.7zM492.9 195.2l1.9 1.7l-1.9 1.7l-1.9 -1.7zM489.5 193.6l1.9 1.7l-1.9 1.7l-1.9 -1.7zM491.9 193.0l1.9 1.7l-1.9 1.7l-1.9 -1.7zM489.5 196.3l1.9 1.7l-1.9 1.7l-1.9 -1.7z"/>
<rect x="494.9" y="219.8" width="8.2" height="6.8" fill="#858585"/>
<path fill="#858585" d="M498.6 215.6l1.9 1.7l-1.9 1.7l-1.9 -1.7zM501.5 218.5l1.9 1.7l-1.9 1.7l-1.9 -1.7zM496.8 217.1l1.9 1.7l-1.9 1.7l-1.9 -1.7zM499.1 218.7l1.9 1.7l-1.9 1.7l-1.9 -1.7zM497.4 214.4l1.9 1.7l-1.9 1.7l-1.9 -1.7zM498.4 218.7l1.9 1.7l-1.9 1.7l-1.9 -1.7zM497.2 216.1l1.9 1.7l-1.9 1.7l-1.9 -1.7zM497.3 216.7l1.9 1.7l-1.9 1.7l-1.9 -1.7zM499.2 217.0l1.9 1.7l-1.9 1.7l-1.9 -1.7zM499.0 214.6l1.9 1.7l-1.9 1.7l-1.9 -1.7zM496.3 214.0l1.9 1.7l-1.9 1.7l-1.9 -1.7zM497.3 219.4l1.9 1.7l-1.9 1.7l-1.9 -1.7zM500.5 216.2l1.9 1.7l-1.9 1.7l-1.9 -1.7zM499.2 218.3l1.9 1.7l-1.9 1.7l-1.9 -1.7zM500.6 217.8l1.9 1.7l-1.9 1.7l-1.9 -1.7zM500.3 218.2l1.9 1.7l-1.9 1.7l-1.9 -1.7zM499.4 215.7l1.9 1.7l-1.9 1.7l-1.9 -1.7zM498.3 216.7l1.9 1.7l-1.9 1.7l-1.9 -1.7zM496.6 215.7l1.9 1.7l-1.9 1.7l-1.9 -1.7zM500.1 218.7l1.9 1.7l-1.9 1.7l-1.9 -1.7zM499.3 210.7l1.9 1.7l-1.9 1.7l-1.9 -1.7zM496.8 210.2l1.9 1.7l-1.9 1.7l-1.9 -1.7zM501.1 213.4l1.9 1.7l-1.9 1.7l-1.9 -1.7zM497.6 213.3l1.9 1.7l-1.9 1.7l-1.9 -1.7zM497.6 213.3l1.9 1.7l-1.9 1.7l-1.9 -1.7zM498.9 212.6l1.9 1.7l-1.9 1.7l-1.9 -1.7zM497.9 211.8l1.9 1.7l-1.9 1.7l-1.9 -1.7zM498.3 210.4l1.9 1.7l-1.9 1.7l-1.9 -1.7zM500.2 208.6l1.9 1.7l-1.9 1.7l-1.9 -1.7zM497.5 209.5l1.9 1.7l-1.9 1.7l-1.9 -1.7zM498.0 208.6l1.9 1.7l-1.9 1.7l-1.9 -1.7zM500.1 196.7l1.9 1.7l-1.9 1.7l-1.9 -1.7zM501.8 207.6l1.9 1.7l-1.9 1.7l-1.9 -1.7zM496.4 197.6l1.9 1.7l-1.9 1.7l-1.9 -1.7zM498.5 205.4l1.9 1.7l-1.9 1.7l-1.9 -1.7zM497.9 209.0l1.9 1.7l-1.9 1.7l-1.9 -1.7zM501.5 203.5l1.9 1.7l-1.9 1.7l-1.9 -1.7zM498.7 204.7l1.9 1.7l-1.9 1.7l-1.9 -1.7zM500.5 194.5l1.9 1.7l-1.9 1.7l-1.9 -1.7zM497.7 194.1l1.9 1.7l-1.9 1.7l-1.9 -1.7zM501.2 189.9l1.9 1.7l-1.9 1.7l-1.9 -1.7zM501.2 196.3l1.9 1.7l-1.9 1.7l-1.9 -1.7z"/>
<rect x="501.7" y="219.8" width="15.0" height="6.8" fill="#1c1c1c"/>
<path fill="#1c1c1c" d="M508.9 218.5l1.9 1.7l-1.9 1.7l-1.9 -1.7zM508.0 214.3l1.9 1.7l-1.9 1.7l-1.9 -1.7zM508.1 215.6l1.9 1.7l-1.9 1.7l-1.9 -1.7zM509.9 216.8l1.9 1.7l-1.9 1.7l-1.9 -1.7zM510.1 218.1l1.9 1.7l-1.9 1.7l-1.9 -1.7zM509.9 214.4l1.9 1.7l-1.9 1.7l-1.9 -1.7zM504.0 217.4l1.9 1.7l-1.9 1.7l-1.9 -1.7zM513.9 213.7l1.9 1.7l-1.9 1.7l-1.9 -1.7zM503.2 215.8l1.9 1.7l-1.9 1.7l-1.9 -1.7zM510.8 214.5l1.9 1.7l-1.9 1.7l-1.9 -1.7zM508.8 218.8l1.9 1.7l-1.9 1.7l-1.9 -1.7zM506.7 215.3l1.9 1.7l-1.9 1.7l-1.9 -1.7zM512.0 218.4l1.9 1.7l-1.9 1.7l-1.9 -1.7zM511.0 215.7l1.9 1.7l-1.9 1.7l-1.9 -1.7zM511.2 219.5l1.9 1.7l-1.9 1.7l-1.9 -1.7zM508.5 217.7l1.9 1.7l-1.9 1.7l-1.9 -1.7zM510.4 217.6l1.9 1.7l-1.9 1.7l-1.9 -1.7zM504.6 215.6l1.9 1.7l-1.9 1.7l-1.9 -1.7zM506.6 214.9l1.9 1.7l-1.9 1.7l-1.9 -1.7zM506.8 216.3l1.9 1.7l-1.9 1.7l-1.9 -1.7zM513.0 218.9l1.9 1.7l-1.9 1.7l-1.9 -1.7zM512.1 219.2l1.9 1.7l-1.9 1.7l-1.9 -1.7zM514.6 219.4l1.9 1.7l-1.9 1.7l-1.9 -1.7zM512.0 217.4l1.9 1.7l-1.9 1.7l-1.9 -1.7zM505.2 217.2l1.9 1.7l-1.9 1.7l-1.9 -1.7zM509.2 217.1l1.9 1.7l-1.9 1.7l-1.9 -1.7zM504.5 216.5l1.9 1.7l-1.9 1.7l-1.9 -1.7zM506.7 213.8l1.9 1.7l-1.9 1.7l-1.9 -1.7zM507.8 217.0l1.9 1.7l-1.9 1.7l-1.9 -1.7zM505.8 213.8l1.9 1.7l-1.9 1.7l-1.9 -1.7zM507.0 215.7l1.9 1.7l-1.9 1.7l-1.9 -1.7zM513.3 217.2l1.9 1.7l-1.9 1.7l-1.9 -1.7zM512.4 217.9l1.9 1.7l-1.9 1.7l-1.9 -1.7zM504.4 219.3l1.9 1.7l-1.9 1.7l-1.9 -1.7zM508.6 214.4l1.9 1.7l-1.9 1.7l-1.9 -1.7zM505.5 217.0l1.9 1.7l-1.9 1.7l-1.9 -1.7zM512.5 217.9l1.9 1.7l-1.9 1.7l-1.9 -1.7zM504.9 216.5l1.9 1.7l-1.9 1.7l-1.9 -1.7zM508.3 214.0l1.9 1.7l-1.9 1.7l-1.9 -1.7zM514.1 218.2l1.9 1.7l-1.9 1.7l-1.9 -1.7zM510.0 217.1l1.9 1.7l-1.9 1.7l-1.9 -1.7zM503.4 216.9l1.9 1.7l-1.9 1.7l-1.9 -1.7zM514.4 217.8l1.9 1.7l-1.9 1.7l-1.9 -1.7zM510.3 215.3l1.9 1.7l-1.9 1.7l-1.9 -1.7zM503.8 209.9l1.9 1.7l-1.9 1.7l-1.9 -1.7zM504.4 212.4l1.9 1.7l-1.9 1.7l-1.9 -1.7zM511.9 213.5l1.9 1.7l-1.9 1.7l-1.9 -1.7zM507.7 213.1l1.9 1.7l-1.9 1.7l-1.9 -1.7zM508.9 213.5l1.9 1.7l-1.9 1.7l-1.9 -1.7zM504.9 212.7l1.9 1.7l-1.9 1.7l-1.9 -1.7zM504.0 213.2l1.9 1.7l-1.9 1.7l-1.9 -1.7zM505.4 211.5l1.9 1.7l-1.9 1.7l-1.9 -1.7zM504.7 210.3l1.9 1.7l-1.9 1.7l-1.9 -1.7zM508.2 212.6l1.9 1.7l-1.9 1.7l-1.9 -1.7zM506.0 210.2l1.9 1.7l-1.9 1.7l-1.9 -1.7zM503.6 210.6l1.9 1.7l-1.9 1.7l-1.9 -1.7zM504.2 209.8l1.9 1.7l-1.9 1.7l-1.9 -1.7zM508.1 211.2l1.9 1.7l-1.9 1.7l-1.9 -1.7zM513.7 213.2l1.9 1.7l-1.9 1.7l-1.9 -1.7zM503.8 210.8l1.9 1.7l-1.9 1.7l-1.9 -1.7zM510.3 210.7l1.9 1.7l-1.9 1.7l-1.9 -1.7zM506.4 203.8l1.9 1.7l-1.9 1.7l-1.9 -1.7zM505.3 204.7l1.9 1.7l-1.9 1.7l-1.9 -1.7zM506.5 202.1l1.9 1.7l-1.9 1.7l-1.9 -1.7zM506.7 206.9l1.9 1.7l-1.9 1.7l-1.9 -1.7zM511.0 208.8l1.9 1.7l-1.9 1.7l-1.9 -1.7zM512.9 203.8l1.9 1.7l-1.9 1.7l-1.9 -1.7zM505.8 208.6l1.9 1.7l-1.9 1.7l-1.9 -1.7zM509.3 203.6l1.9 1.7l-1.9 1.7l-1.9 -1.7zM511.9 205.6l1.9 1.7l-1.9 1.7l-1.9 -1.7zM508.1 206.9l1.9 1.7l-1.9 1.7l-1.9 -1.7zM515.2 207.1l1.9 1.7l-1.9 1.7l-1.9 -1.7zM513.1 201.6l1.9 1.7l-1.9 1.7l-1.9 -1.7zM505.5 200.7l1.9 1.7l-1.9 1.7l-1.9 -1.7zM513.0 202.7l1.9 1.7l-1.9 1.7l-1.9 -1.7zM504.0 208.0l1.9 1.7l-1.9 1.7l-1.9 -1.7zM506.2 201.5l1.9 1.7l-1.9 1.7l-1.9 -1.7zM505.4 204.3l1.9 1.7l-1.9 1.7l-1.9 -1.7zM511.8 208.7l1.9 1.7l-1.9 1.7l-1.9 -1.7zM511.2 208.7l1.9 1.7l-1.9 1.7l-1.9 -1.7zM508.9 200.7l1.9 1.7l-1.9 1.7l-1.9 -1.7zM511.5 209.2l1.9 1.7l-1.9 1.7l-1.9 -1.7zM505.4 205.4l1.9 1.7l-1.9 1.7l-1.9 -1.7zM508.3 205.6l1.9 1.7l-1.9 1.7l-1.9 -1.7zM511.6 198.1l1.9 1.7l-1.9 1.7l-1.9 -1.7zM514.0 189.5l1.9 1.7l-1.9 1.7l-1.9 -1.7zM510.5 193.6l1.9 1.7l-1.9 1.7l-1.9 -1.7zM508.1 193.6l1.9 1.7l-1.9 1.7l-1.9 -1.7zM507.4 196.0l1.9 1.7l-1.9 1.7l-1.9 -1.7zM510.5 196.0l1.9 1.7l-1.9 1.7l-1.9 -1.7z"/>
<path fill="#1c1c1c" d="M420.9 168.0l2.3 2.2l-2.3 2.2l-2.3 -2.2z"/>
<path fill="#1414e6" d="M310.2 175.2l2.6 2.2l-2.6 2.2l-2.6 -2.2zM310.2 180.2l2.6 2.2l-2.6 2.2l-2.6 -2.2zM310.2 182.0l2.6 2.2l-2.6 2.2l-2.6 -2.2zM310.2 183.8l2.6 2.2l-2.6 2.2l-2.6 -2.2zM310.2 185.6l2.6 2.2l-2.6 2.2l-2.6 -2.2zM310.2 187.4l2.6 2.2l-2.6 2.2l-2.6 -2.2zM310.2 189.2l2.6 2.2l-2.6 2.2l-2.6 -2.2zM310.2 190.8l2.6 2.2l-2.6 2.2l-2.6 -2.2zM310.2 199.6l2.6 2.2l-2.6 2.2l-2.6 -2.2zM310.2 212.4l2.6 2.2l-2.6 2.2l-2.6 -2.2zM310.2 217.6l2.6 2.2l-2.6 2.2l-2.6 -2.2z"/>
<path fill="#e8141c" d="M430.6 23.9l2.5 2.1l-2.5 2.1l-2.5 -2.1zM430.6 26.9l2.5 2.1l-2.5 2.1l-2.5 -2.1zM430.8 48.5l2.5 2.1l-2.5 2.1l-2.5 -2.1zM430.4 74.4l2.5 2.1l-2.5 2.1l-2.5 -2.1zM429.9 83.2l2.5 2.1l-2.5 2.1l-2.5 -2.1zM430.8 99.5l2.5 2.1l-2.5 2.1l-2.5 -2.1zM430.0 141.1l2.8 2.5l-2.8 2.5l-2.8 -2.5zM430.0 142.1l2.8 2.5l-2.8 2.5l-2.8 -2.5zM430.0 153.9l2.5 2.1l-2.5 2.1l-2.5 -2.1zM430.0 156.2l2.5 2.1l-2.5 2.1l-2.5 -2.1zM430.0 162.6l2.5 2.1l-2.5 2.1l-2.5 -2.1zM430.0 177.4l2.5 2.1l-2.5 2.1l-2.5 -2.1zM430.0 185.3l2.5 2.1l-2.5 2.1l-2.5 -2.1zM429.7 198.3l2.8 2.5l-2.8 2.5l-2.8 -2.5zM430.6 206.1l2.8 2.4l-2.8 2.4l-2.8 -2.4zM429.9 207.7l2.8 2.4l-2.8 2.4l-2.8 -2.4zM430.4 209.3l2.8 2.4l-2.8 2.4l-2.8 -2.4zM430.2 210.9l2.8 2.4l-2.8 2.4l-2.8 -2.4zM429.4 212.5l2.8 2.4l-2.8 2.4l-2.8 -2.4zM431.4 214.1l2.8 2.4l-2.8 2.4l-2.8 -2.4zM431.4 215.7l2.8 2.4l-2.8 2.4l-2.8 -2.4zM430.9 217.3l2.8 2.4l-2.8 2.4l-2.8 -2.4zM431.5 218.9l2.8 2.4l-2.8 2.4l-2.8 -2.4zM430.1 220.5l2.8 2.4l-2.8 2.4l-2.8 -2.4zM431.1 222.1l2.8 2.4l-2.8 2.4l-2.8 -2.4z"/>
</g>
<rect x="49" y="226.6" width="471" height="3" fill="#fff"/>
<line x1="48" y1="135.5" x2="520" y2="135.5" stroke="#000" stroke-width="1.25"/>
<line x1="48.7" y1="189.15" x2="520" y2="189.15" stroke="#e3962a" stroke-width="1.1"/>
<line x1="48" y1="1.2" x2="48" y2="226.6" stroke="#000" stroke-width="1.7"/>
<line x1="39.2" y1="225.8" x2="48" y2="225.8" stroke="#000" stroke-width="1.7"/>
<text x="31.3" y="230.2" text-anchor="middle" font-size="11.8" fill="#0d0d0d">2</text>
<line x1="39.2" y1="189.1" x2="48" y2="189.1" stroke="#000" stroke-width="1.7"/>
<text x="31.3" y="194.4" text-anchor="middle" font-size="11.8" fill="#0d0d0d">4</text>
<line x1="39.2" y1="152.5" x2="48" y2="152.5" stroke="#000" stroke-width="1.7"/>
<text x="31.3" y="157.8" text-anchor="middle" font-size="11.8" fill="#0d0d0d">6</text>
<line x1="39.2" y1="115.8" x2="48" y2="115.8" stroke="#000" stroke-width="1.7"/>
<text x="31.3" y="121.1" text-anchor="middle" font-size="11.8" fill="#0d0d0d">8</text>
<line x1="39.2" y1="79.1" x2="48" y2="79.1" stroke="#000" stroke-width="1.7"/>
<text x="31.3" y="84.4" text-anchor="middle" font-size="11.8" fill="#0d0d0d">10</text>
<line x1="39.2" y1="42.5" x2="48" y2="42.5" stroke="#000" stroke-width="1.7"/>
<text x="31.3" y="47.8" text-anchor="middle" font-size="11.8" fill="#0d0d0d">12</text>
<line x1="39.2" y1="5.8" x2="48" y2="5.8" stroke="#000" stroke-width="1.7"/>
<text x="31.3" y="11.7" text-anchor="middle" font-size="11.8" fill="#0d0d0d">14</text>
<text x="69.3" y="234.7" text-anchor="middle" font-size="9.4" fill="#0d0d0d">1</text>
<text x="102.4" y="242.6" text-anchor="middle" font-size="9.4" fill="#0d0d0d">2</text>
<text x="136.5" y="234.7" text-anchor="middle" font-size="9.4" fill="#0d0d0d">3</text>
<text x="162.0" y="242.6" text-anchor="middle" font-size="9.4" fill="#0d0d0d">4</text>
<text x="190.7" y="234.7" text-anchor="middle" font-size="9.4" fill="#0d0d0d">5</text>
<text x="218.6" y="242.6" text-anchor="middle" font-size="9.4" fill="#0d0d0d">6</text>
<text x="243.0" y="234.7" text-anchor="middle" font-size="9.4" fill="#0d0d0d">7</text>
<text x="269.0" y="242.6" text-anchor="middle" font-size="9.4" fill="#0d0d0d">8</text>
<text x="295.3" y="234.7" text-anchor="middle" font-size="9.4" fill="#0d0d0d">9</text>
<text x="321.0" y="242.6" text-anchor="middle" font-size="9.4" fill="#0d0d0d" textLength="8.9" lengthAdjust="spacingAndGlyphs">10</text>
<text x="342.6" y="234.7" text-anchor="middle" font-size="9.4" fill="#0d0d0d" textLength="8.9" lengthAdjust="spacingAndGlyphs">11</text>
<text x="364.4" y="242.6" text-anchor="middle" font-size="9.4" fill="#0d0d0d" textLength="8.9" lengthAdjust="spacingAndGlyphs">12</text>
<text x="383.7" y="234.7" text-anchor="middle" font-size="9.4" fill="#0d0d0d" textLength="8.9" lengthAdjust="spacingAndGlyphs">13</text>
<text x="400.0" y="242.6" text-anchor="middle" font-size="9.4" fill="#0d0d0d" textLength="8.9" lengthAdjust="spacingAndGlyphs">14</text>
<text x="415.6" y="234.7" text-anchor="middle" font-size="9.4" fill="#0d0d0d" textLength="8.9" lengthAdjust="spacingAndGlyphs">15</text>
<text x="430.7" y="242.6" text-anchor="middle" font-size="9.4" fill="#0d0d0d" textLength="8.9" lengthAdjust="spacingAndGlyphs">16</text>
<text x="444.6" y="234.7" text-anchor="middle" font-size="9.4" fill="#0d0d0d" textLength="8.9" lengthAdjust="spacingAndGlyphs">17</text>
<text x="456.8" y="242.6" text-anchor="middle" font-size="9.4" fill="#0d0d0d" textLength="8.9" lengthAdjust="spacingAndGlyphs">18</text>
<text x="468.4" y="234.7" text-anchor="middle" font-size="9.4" fill="#0d0d0d" textLength="8.9" lengthAdjust="spacingAndGlyphs">19</text>
<text x="481.6" y="242.6" text-anchor="middle" font-size="9.4" fill="#0d0d0d" textLength="8.9" lengthAdjust="spacingAndGlyphs">20</text>
<text x="491.1" y="234.7" text-anchor="middle" font-size="9.4" fill="#0d0d0d" textLength="8.9" lengthAdjust="spacingAndGlyphs">21</text>
<text x="500.0" y="242.6" text-anchor="middle" font-size="9.4" fill="#0d0d0d" textLength="8.9" lengthAdjust="spacingAndGlyphs">22</text>
<text x="508.8" y="234.7" text-anchor="middle" font-size="9.4" fill="#0d0d0d">X</text>
<text x="235.6" y="257.2" font-size="12.1" fill="#0d0d0d" textLength="96.4" lengthAdjust="spacingAndGlyphs">Genomic Position</text>
<g transform="translate(10.8,0) rotate(-90)" font-size="12" fill="#0d0d0d">
<text><tspan x="-207.3" y="0" textLength="47.5" lengthAdjust="spacingAndGlyphs">Univarite</tspan> <tspan x="-154.8" y="0" textLength="49.8" lengthAdjust="spacingAndGlyphs">Additive,</tspan> <tspan x="-102.4" y="0" textLength="21.0" lengthAdjust="spacingAndGlyphs">-log</tspan><tspan x="-80.4" y="4.9" font-size="6.6" textLength="5.2" lengthAdjust="spacingAndGlyphs">10</tspan> <tspan x="-73.9" y="0" textLength="46.0" lengthAdjust="spacingAndGlyphs" font-style="italic">(p-value)</tspan></text>
</g>
<text x="250.8" y="161.2" font-size="12" font-style="italic" fill="#0d0d0d" textLength="42" lengthAdjust="spacingAndGlyphs">CYP2C9</text>
<text x="372.1" y="9.6" font-size="12" font-style="italic" fill="#0d0d0d" textLength="41.2" lengthAdjust="spacingAndGlyphs">VKORC1</text>
<line x1="295.0" y1="156.7" x2="305.0" y2="170.2" stroke="#000" stroke-width="1.4"/><path fill="#000" d="M307.3 173.3L302.7 170.8L306.2 168.1z"/>
<line x1="416.3" y1="4.9" x2="425.7" y2="18.4" stroke="#000" stroke-width="1.4"/><path fill="#000" d="M427.9 21.5L423.3 18.8L427.0 16.3z"/>
</svg>
</body></html>
